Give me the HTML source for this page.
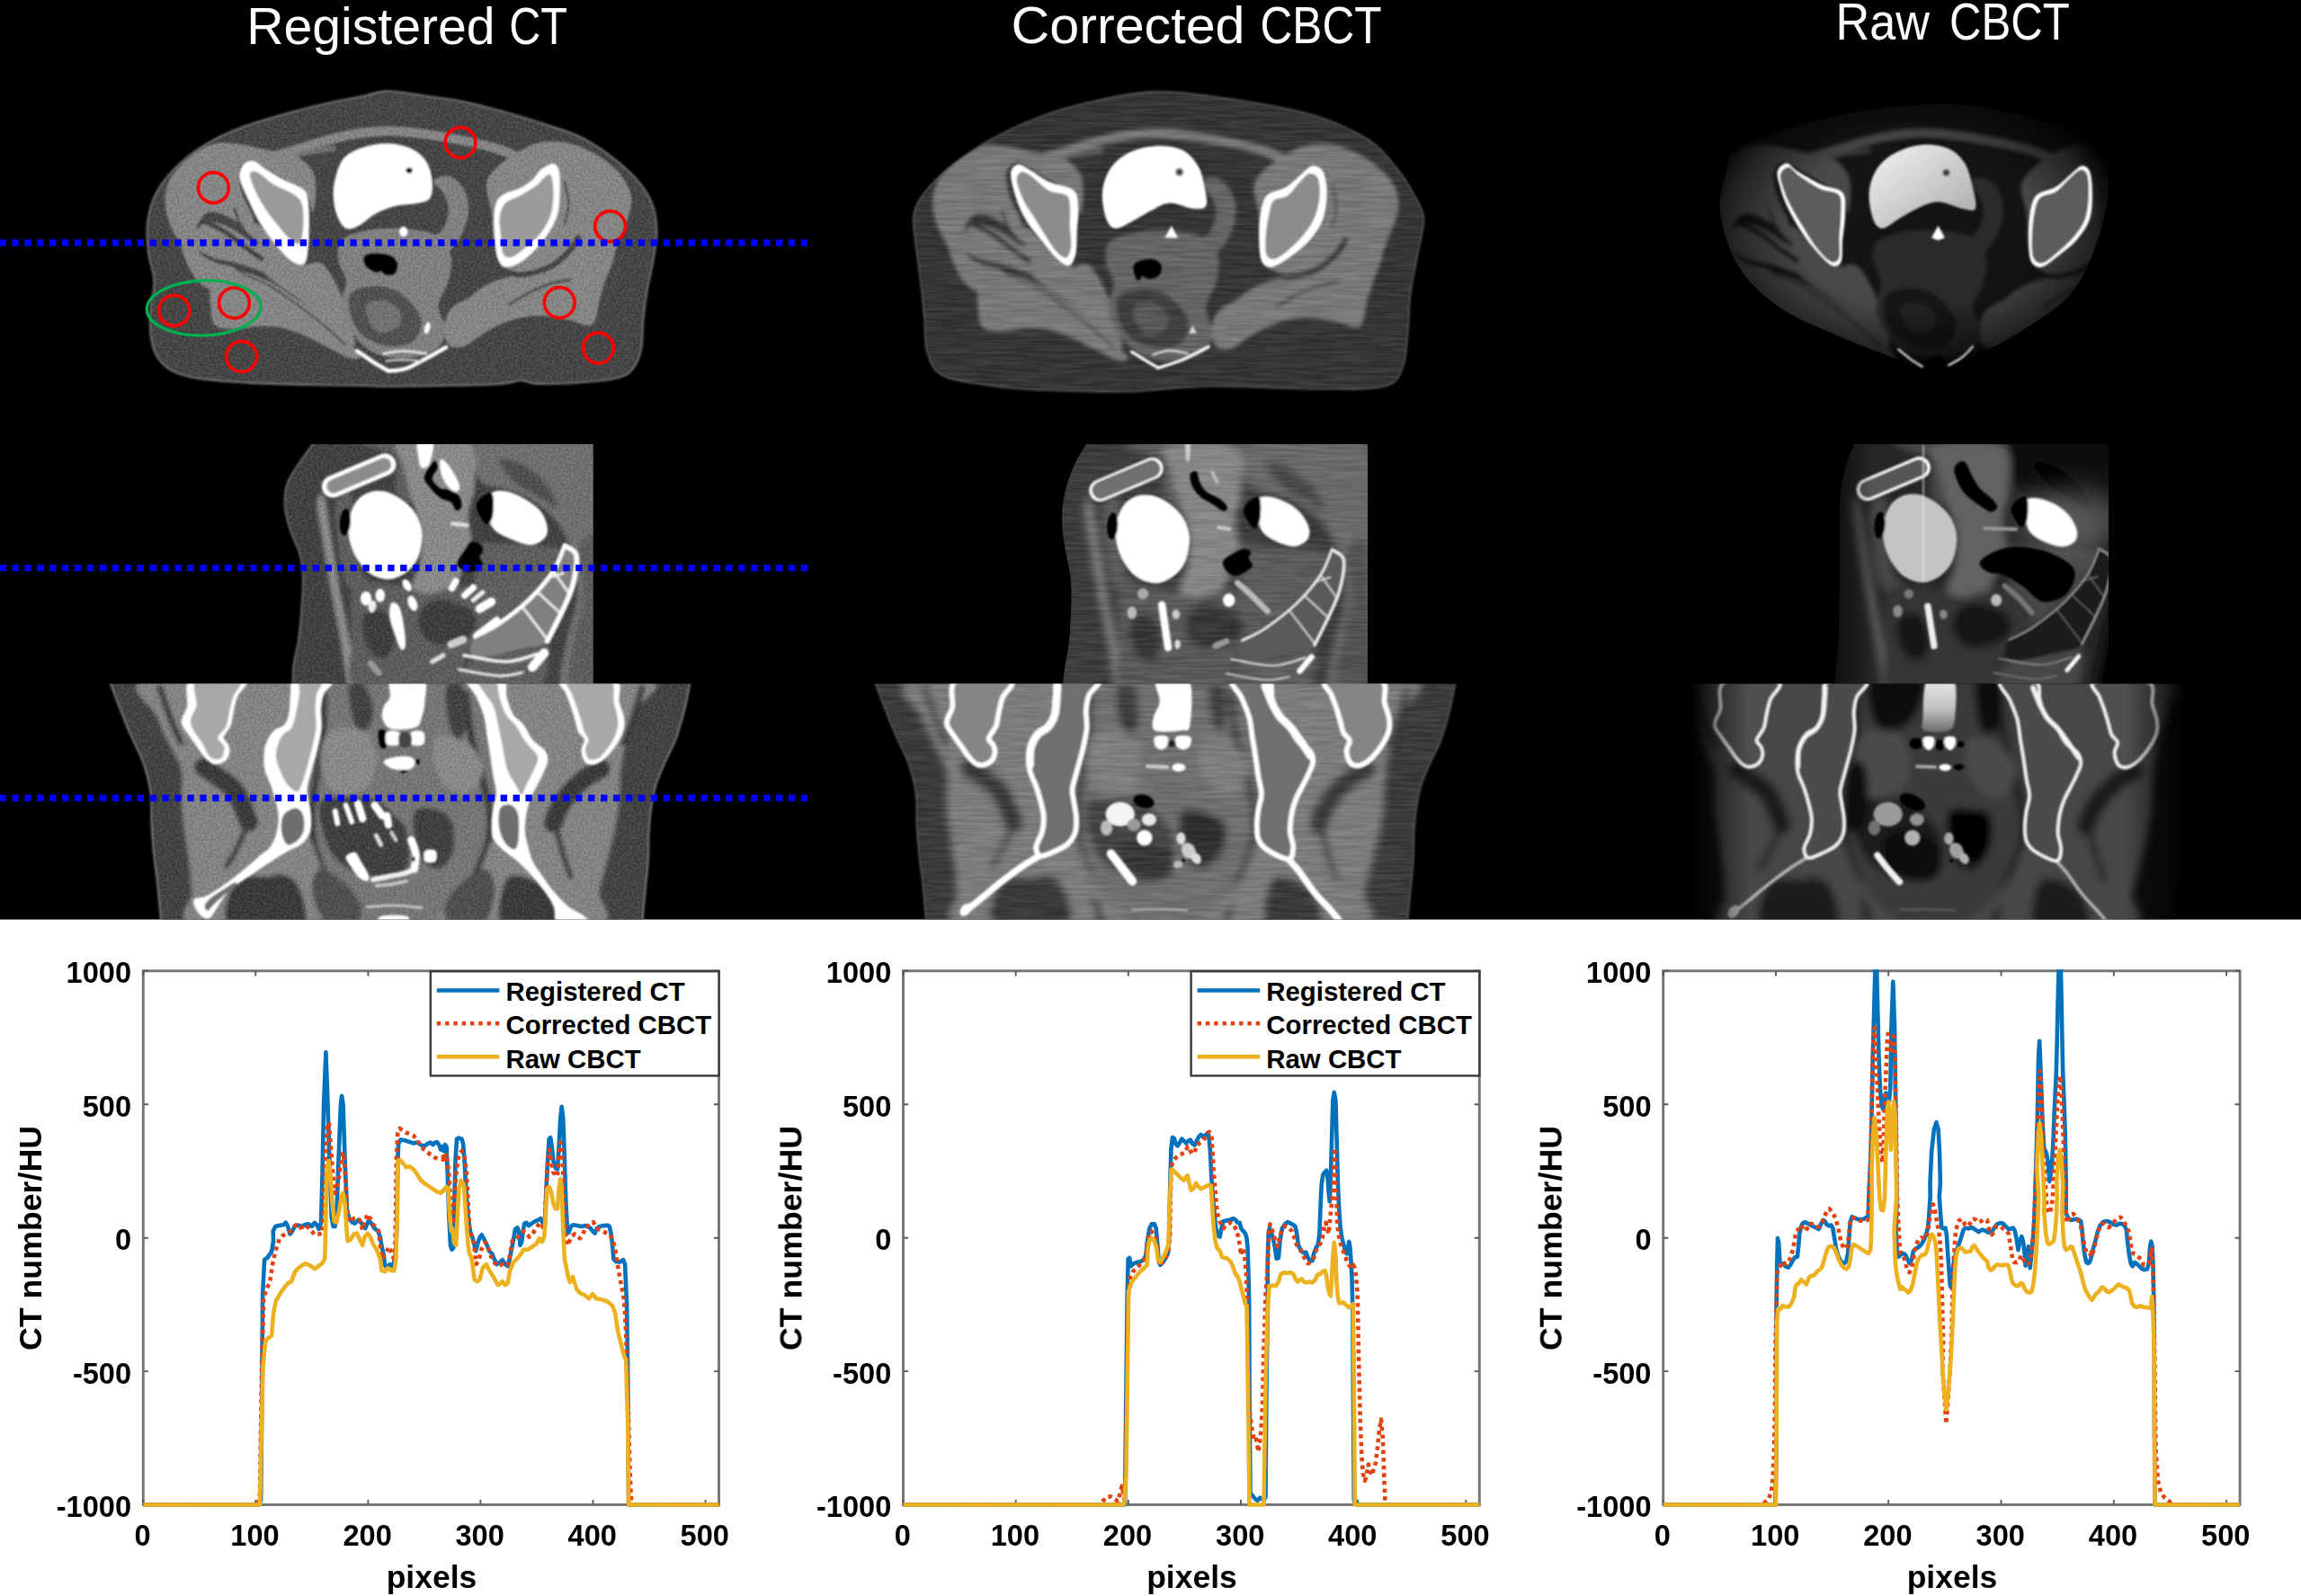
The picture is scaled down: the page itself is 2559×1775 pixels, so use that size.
<!DOCTYPE html>
<html lang="en"><head><meta charset="utf-8"><title>Registered CT, Corrected CBCT and Raw CBCT comparison</title>
<style>html,body{margin:0;padding:0;background:#fff;}body{width:2559px;height:1775px;overflow:hidden;}svg{display:block;}text{font-family:"Liberation Sans",sans-serif;}.tk{font-size:32.6px;font-weight:bold;fill:#000;}.lb{font-size:35.5px;font-weight:bold;fill:#000;}.lg{font-size:29.4px;font-weight:bold;fill:#000;}.tt{font-size:57px;fill:#fff;}</style></head><body>
<svg width="2559" height="1775" viewBox="0 0 2559 1775">
<rect x="0" y="0" width="2559" height="1775" fill="#fff"/>
<rect x="0" y="0" width="2559" height="1022.6" fill="#000"/>
<defs>
<filter id="b1" x="-5%" y="-5%" width="110%" height="110%"><feGaussianBlur stdDeviation="1.1"/></filter>
<filter id="b2" x="-10%" y="-10%" width="120%" height="120%"><feGaussianBlur stdDeviation="2.2"/></filter>
<filter id="b4" x="-20%" y="-20%" width="140%" height="140%"><feGaussianBlur stdDeviation="4.5"/></filter>
<filter id="b8" x="-30%" y="-30%" width="160%" height="160%"><feGaussianBlur stdDeviation="9"/></filter>
<filter id="b16" x="-40%" y="-40%" width="180%" height="180%"><feGaussianBlur stdDeviation="16"/></filter>
<filter id="nz1" x="0" y="0" width="100%" height="100%" color-interpolation-filters="sRGB"><feTurbulence type="fractalNoise" baseFrequency="0.42" numOctaves="2" seed="3"/><feColorMatrix type="matrix" values="3 0 0 0 -1  3 0 0 0 -1  3 0 0 0 -1  0 0 0 0 0.085"/></filter>
<filter id="nz2" x="0" y="0" width="100%" height="100%" color-interpolation-filters="sRGB"><feTurbulence type="fractalNoise" baseFrequency="0.025 0.33" numOctaves="2" seed="7"/><feColorMatrix type="matrix" values="2.4 0 0 0 -0.7  2.4 0 0 0 -0.7  2.4 0 0 0 -0.7  0 0 0 0 0.07"/></filter>
<filter id="nz3" x="0" y="0" width="100%" height="100%" color-interpolation-filters="sRGB"><feTurbulence type="fractalNoise" baseFrequency="0.1 0.15" numOctaves="2" seed="11"/><feColorMatrix type="matrix" values="2 0 0 0 -0.6  2 0 0 0 -0.6  2 0 0 0 -0.6  0 0 0 0 0.06"/></filter>
</defs>
<clipPath id="axb1"><path d="M430.0 101.1 C441.2 101.1 458.4 104.4 472.6 106.4 C486.8 108.3 501.0 109.9 515.2 112.8 C529.4 115.6 543.6 119.5 557.8 123.4 C572.0 127.3 586.2 131.6 600.4 136.2 C614.7 140.8 630.6 145.5 643.1 151.1 C655.5 156.8 665.1 163.2 675.0 170.3 C685.0 177.4 695.3 186.3 702.7 193.7 C710.2 201.2 715.5 207.9 719.8 215.1 C724.0 222.2 726.5 228.5 728.3 236.4 C730.1 244.2 730.8 252.7 730.4 261.9 C730.1 271.2 727.9 281.5 726.2 291.8 C724.4 302.1 721.5 313.1 719.8 323.7 C718.0 334.4 716.6 345.0 715.5 355.7 C714.4 366.3 715.1 378.8 713.4 387.6 C711.6 396.5 708.8 403.6 704.8 408.9 C700.9 414.3 698.5 416.9 689.9 419.6 C681.4 422.3 668.6 423.7 653.7 424.9 C638.8 426.2 612.9 427.3 600.4 427.0 C588.0 426.8 586.2 423.4 579.1 423.4 C572.0 423.4 572.0 426.1 557.8 427.0 C543.6 428.0 515.2 428.7 493.9 429.2 C472.6 429.6 444.7 429.8 430.0 429.8 C415.3 429.8 420.4 429.5 405.7 429.2 C391.0 428.9 363.1 428.6 341.8 428.1 C320.4 427.6 297.4 427.0 277.8 426.0 C258.3 424.9 238.8 423.8 224.6 421.7 C210.4 419.6 200.8 417.1 192.6 413.2 C184.4 409.3 179.7 404.3 175.6 398.3 C171.5 392.2 169.5 385.9 168.1 377.0 C166.7 368.1 166.5 355.7 167.0 345.0 C167.6 334.4 171.7 323.7 171.3 313.1 C171.0 302.4 166.2 291.8 164.9 281.1 C163.7 270.4 162.8 259.4 163.8 249.1 C164.9 238.8 167.2 228.5 171.3 219.3 C175.4 210.1 181.2 201.9 188.4 193.7 C195.5 185.6 204.3 177.4 213.9 170.3 C223.5 163.2 235.2 156.5 245.9 151.1 C256.5 145.8 265.4 142.6 277.8 138.4 C290.3 134.1 306.2 129.5 320.4 125.6 C334.7 121.7 348.9 118.1 363.1 114.9 C377.3 111.7 394.5 108.7 405.7 106.4 C416.8 104.1 418.8 101.1 430.0 101.1 Z"/></clipPath>
<g clip-path="url(#axb1)">
<path d="M430.0 101.1 C441.2 101.1 458.4 104.4 472.6 106.4 C486.8 108.3 501.0 109.9 515.2 112.8 C529.4 115.6 543.6 119.5 557.8 123.4 C572.0 127.3 586.2 131.6 600.4 136.2 C614.7 140.8 630.6 145.5 643.1 151.1 C655.5 156.8 665.1 163.2 675.0 170.3 C685.0 177.4 695.3 186.3 702.7 193.7 C710.2 201.2 715.5 207.9 719.8 215.1 C724.0 222.2 726.5 228.5 728.3 236.4 C730.1 244.2 730.8 252.7 730.4 261.9 C730.1 271.2 727.9 281.5 726.2 291.8 C724.4 302.1 721.5 313.1 719.8 323.7 C718.0 334.4 716.6 345.0 715.5 355.7 C714.4 366.3 715.1 378.8 713.4 387.6 C711.6 396.5 708.8 403.6 704.8 408.9 C700.9 414.3 698.5 416.9 689.9 419.6 C681.4 422.3 668.6 423.7 653.7 424.9 C638.8 426.2 612.9 427.3 600.4 427.0 C588.0 426.8 586.2 423.4 579.1 423.4 C572.0 423.4 572.0 426.1 557.8 427.0 C543.6 428.0 515.2 428.7 493.9 429.2 C472.6 429.6 444.7 429.8 430.0 429.8 C415.3 429.8 420.4 429.5 405.7 429.2 C391.0 428.9 363.1 428.6 341.8 428.1 C320.4 427.6 297.4 427.0 277.8 426.0 C258.3 424.9 238.8 423.8 224.6 421.7 C210.4 419.6 200.8 417.1 192.6 413.2 C184.4 409.3 179.7 404.3 175.6 398.3 C171.5 392.2 169.5 385.9 168.1 377.0 C166.7 368.1 166.5 355.7 167.0 345.0 C167.6 334.4 171.7 323.7 171.3 313.1 C171.0 302.4 166.2 291.8 164.9 281.1 C163.7 270.4 162.8 259.4 163.8 249.1 C164.9 238.8 167.2 228.5 171.3 219.3 C175.4 210.1 181.2 201.9 188.4 193.7 C195.5 185.6 204.3 177.4 213.9 170.3 C223.5 163.2 235.2 156.5 245.9 151.1 C256.5 145.8 265.4 142.6 277.8 138.4 C290.3 134.1 306.2 129.5 320.4 125.6 C334.7 121.7 348.9 118.1 363.1 114.9 C377.3 111.7 394.5 108.7 405.7 106.4 C416.8 104.1 418.8 101.1 430.0 101.1 Z" fill="#414141"/>
<g filter="url(#b1)">
<path d="M184.1 215.1 C185.3 207.9 187.6 200.8 192.6 193.7 C197.6 186.6 206.1 178.1 213.9 172.4 C221.7 166.8 230.3 161.6 239.5 159.7 C248.7 157.7 259.4 159.5 269.3 160.7 C279.3 162.0 289.2 165.0 299.1 167.1 C309.1 169.2 321.0 169.8 329.0 173.5 C337.0 177.2 343.4 183.3 347.1 189.5 C350.8 195.7 351.2 203.0 351.3 210.8 C351.5 218.6 349.7 234.9 348.1 236.4 C346.5 237.8 346.4 225.0 341.8 219.3 C337.1 213.6 328.3 207.6 320.4 202.3 C312.6 196.9 302.0 191.3 294.9 187.4 C287.8 183.4 282.6 178.5 277.8 178.8 C273.0 179.2 267.5 183.4 266.1 189.5 C264.7 195.5 266.6 205.8 269.3 215.1 C272.0 224.3 282.1 239.2 282.1 244.9 C282.1 250.6 275.0 250.2 269.3 249.1 C263.6 248.1 254.4 240.6 248.0 238.5 C241.6 236.4 235.6 234.6 231.0 236.4 C226.3 238.1 223.2 244.2 220.3 249.1 C217.5 254.1 216.8 262.6 213.9 266.2 C211.1 269.7 206.8 271.9 203.3 270.4 C199.7 269.0 195.6 263.3 192.6 257.7 C189.6 252.0 186.6 243.5 185.2 236.4 C183.7 229.3 182.8 222.2 184.1 215.1 Z" fill="#868686"/>
<path d="M220.3 253.4 C223.9 250.2 229.2 247.0 235.2 247.0 C241.3 247.0 248.7 249.5 256.5 253.4 C264.3 257.3 273.6 264.8 282.1 270.4 C290.6 276.1 299.5 282.9 307.7 287.5 C315.8 292.1 325.4 295.3 331.1 298.1 C336.8 301.0 341.4 302.1 341.8 304.5 C342.1 307.0 338.2 312.3 333.2 313.1 C328.3 313.8 319.7 310.9 311.9 308.8 C304.1 306.7 294.9 303.1 286.4 300.3 C277.8 297.4 268.6 293.9 260.8 291.8 C253.0 289.6 245.9 289.6 239.5 287.5 C233.1 285.4 226.7 282.5 222.4 279.0 C218.2 275.4 214.3 270.4 213.9 266.2 C213.6 261.9 216.8 256.6 220.3 253.4 Z" fill="#868686"/>
<path d="M199.0 261.9 C200.1 256.2 210.0 254.5 213.9 257.7 C217.8 260.9 218.2 275.4 222.4 281.1 C226.7 286.8 233.1 288.9 239.5 291.8 C245.9 294.6 255.8 294.6 260.8 298.1 C265.8 301.7 271.1 310.2 269.3 313.1 C267.5 315.9 255.8 313.8 250.1 315.2 C244.5 316.6 240.2 321.9 235.2 321.6 C230.3 321.2 224.9 318.0 220.3 313.1 C215.7 308.1 211.1 300.3 207.5 291.8 C204.0 283.2 197.9 267.6 199.0 261.9 Z" fill="#868686"/>
<path d="M235.2 313.1 C238.2 306.7 245.2 303.8 252.3 302.4 C259.4 301.0 269.3 302.4 277.8 304.5 C286.4 306.7 294.2 310.2 303.4 315.2 C312.6 320.2 323.3 327.3 333.2 334.4 C343.2 341.5 353.8 350.0 363.1 357.8 C372.3 365.6 382.2 374.8 388.6 381.2 C395.0 387.6 401.4 393.3 401.4 396.2 C401.4 399.0 395.0 400.1 388.6 398.3 C382.2 396.5 371.6 389.8 363.1 385.5 C354.5 381.2 346.0 376.3 337.5 372.7 C329.0 369.2 320.4 365.8 311.9 364.2 C303.4 362.6 294.9 362.8 286.4 363.1 C277.8 363.5 268.6 366.5 260.8 366.3 C253.0 366.1 243.9 366.3 239.5 362.1 C235.0 357.8 234.9 348.9 234.2 340.8 C233.4 332.6 232.2 319.5 235.2 313.1 Z" fill="#868686"/>
<path d="M337.5 298.1 C338.9 294.9 349.6 290.7 354.5 291.8 C359.5 292.8 363.1 298.1 367.3 304.5 C371.6 310.9 376.6 321.6 380.1 330.1 C383.7 338.6 386.1 346.8 388.6 355.7 C391.1 364.5 395.7 379.8 395.0 383.4 C394.3 386.9 388.3 382.3 384.4 377.0 C380.5 371.6 375.8 359.9 371.6 351.4 C367.3 342.9 363.1 332.6 358.8 325.8 C354.5 319.1 349.6 315.5 346.0 310.9 C342.5 306.3 336.1 301.3 337.5 298.1 Z" fill="#868686"/>
<path d="M269.3 249.1 C268.6 244.2 279.3 245.6 286.4 249.1 C293.5 252.7 303.4 263.3 311.9 270.4 C320.4 277.5 330.4 284.7 337.5 291.8 C344.6 298.9 353.8 309.5 354.5 313.1 C355.2 316.6 348.1 315.5 341.8 313.1 C335.4 310.6 324.7 303.8 316.2 298.1 C307.7 292.5 298.4 287.1 290.6 279.0 C282.8 270.8 270.0 254.1 269.3 249.1 Z" fill="#868686"/>
<path d="M282.1 283.2 C284.2 280.4 302.0 289.3 311.9 291.8 C321.9 294.2 333.2 294.6 341.8 298.1 C350.3 301.7 356.7 305.2 363.1 313.1 C369.5 320.9 375.5 334.4 380.1 345.0 C384.7 355.7 391.5 372.4 390.8 377.0 C390.0 381.6 381.9 377.0 375.8 372.7 C369.8 368.5 362.3 358.5 354.5 351.4 C346.7 344.3 338.2 337.2 329.0 330.1 C319.7 323.0 307.0 316.6 299.1 308.8 C291.3 301.0 280.0 286.1 282.1 283.2 Z" fill="#868686"/>
<path d="M228.8 247.0 C232.4 248.8 243.4 253.4 250.1 257.7 C256.9 261.9 262.6 267.6 269.3 272.6 C276.1 277.5 287.1 285.0 290.6 287.5" fill="none" stroke="#414141" stroke-width="5.5" stroke-linecap="round" stroke-linejoin="round"/>
<path d="M269.3 304.5 C274.3 306.7 288.5 311.3 299.1 317.3 C309.8 323.4 322.6 332.9 333.2 340.8 C343.9 348.6 354.5 357.1 363.1 364.2 C371.6 371.3 380.8 380.2 384.4 383.4" fill="none" stroke="#414141" stroke-width="1.9" stroke-linecap="round" stroke-linejoin="round"/>
<path d="M260.8 232.1 C262.2 235.6 265.1 247.0 269.3 253.4 C273.6 259.8 283.5 267.6 286.4 270.4" fill="none" stroke="#414141" stroke-width="2.6" stroke-linecap="round" stroke-linejoin="round"/>
<path d="M540.8 206.5 C541.1 198.4 544.3 195.2 549.3 189.5 C554.3 183.8 562.8 177.4 570.6 172.4 C578.4 167.5 587.7 162.1 596.2 159.7 C604.7 157.2 613.2 156.8 621.8 157.5 C630.3 158.2 639.2 160.7 647.3 163.9 C655.5 167.1 663.7 171.7 670.8 176.7 C677.9 181.7 685.0 187.7 689.9 193.7 C694.9 199.8 698.6 206.5 700.6 212.9 C702.5 219.3 702.7 225.3 701.6 232.1 C700.6 238.8 696.9 246.3 694.2 253.4 C691.5 260.5 687.8 268.3 685.7 274.7 C683.5 281.1 683.5 285.4 681.4 291.8 C679.3 298.1 675.4 306.0 672.9 313.1 C670.4 320.2 668.3 327.3 666.5 334.4 C664.7 341.5 664.4 351.1 662.2 355.7 C660.1 360.3 658.7 362.1 653.7 362.1 C648.7 362.1 640.6 357.4 632.4 355.7 C624.2 353.9 613.6 351.8 604.7 351.4 C595.8 351.1 587.7 351.8 579.1 353.5 C570.6 355.3 561.4 358.5 553.6 362.1 C545.8 365.6 538.7 370.9 532.3 374.8 C525.9 378.8 520.5 384.1 515.2 385.5 C509.9 386.9 500.3 386.9 500.3 383.4 C500.3 379.8 509.9 370.2 515.2 364.2 C520.5 358.2 525.2 352.8 532.3 347.1 C539.4 341.5 549.3 335.1 557.8 330.1 C566.4 325.1 574.5 320.9 583.4 317.3 C592.3 313.8 608.3 311.3 611.1 308.8 C613.9 306.3 605.8 303.5 600.4 302.4 C595.1 301.3 584.8 302.1 579.1 302.4 C573.5 302.8 569.9 305.6 566.4 304.5 C562.8 303.5 560.7 301.7 557.8 296.0 C555.0 290.3 551.1 280.0 549.3 270.4 C547.5 260.9 548.6 249.1 547.2 238.5 C545.8 227.8 540.4 214.7 540.8 206.5 Z" fill="#868686"/>
<path d="M500.3 383.4 C496.0 381.9 493.9 372.7 493.9 366.3 C493.9 359.9 496.0 350.7 500.3 345.0 C504.6 339.3 511.3 336.1 519.5 332.2 C527.7 328.3 539.4 324.8 549.3 321.6 C559.3 318.4 569.9 315.9 579.1 313.1 C588.4 310.2 597.6 304.5 604.7 304.5 C611.8 304.5 623.2 309.5 621.8 313.1 C620.3 316.6 605.4 321.6 596.2 325.8 C587.0 330.1 575.6 333.7 566.4 338.6 C557.1 343.6 548.6 349.6 540.8 355.7 C533.0 361.7 526.2 370.2 519.5 374.8 C512.7 379.5 504.6 384.8 500.3 383.4 Z" fill="#868686"/>
<path d="M609.0 291.8 C606.8 289.6 589.1 301.0 579.1 304.5 C569.2 308.1 558.5 308.8 549.3 313.1 C540.1 317.3 530.8 322.3 523.7 330.1 C516.6 337.9 510.6 351.1 506.7 359.9 C502.8 368.8 498.9 380.5 500.3 383.4 C501.7 386.2 509.9 382.3 515.2 377.0 C520.5 371.6 525.2 358.9 532.3 351.4 C539.4 344.0 547.9 337.9 557.8 332.2 C567.8 326.6 583.4 324.1 591.9 317.3 C600.4 310.6 611.1 293.9 609.0 291.8 Z" fill="#868686"/>
<path d="M557.8 299.2 C561.4 300.3 570.3 306.0 579.1 305.6 C588.0 305.2 602.2 301.3 611.1 297.1 C620.0 292.8 627.1 285.5 632.4 280.0 C637.7 274.5 641.3 266.7 643.1 264.1" fill="none" stroke="#414141" stroke-width="6.4" stroke-linecap="round" stroke-linejoin="round"/>
<path d="M566.4 338.6 C570.6 336.1 584.1 327.6 591.9 323.7 C599.7 319.8 606.1 317.3 613.2 315.2 C620.3 313.1 631.0 311.6 634.5 310.9" fill="none" stroke="#414141" stroke-width="2.6" stroke-linecap="round" stroke-linejoin="round"/>
<path d="M628.1 202.3 C628.9 206.5 632.4 220.0 632.4 227.8 C632.4 235.6 628.9 245.6 628.1 249.1" fill="none" stroke="#414141" stroke-width="2.1" stroke-linecap="round" stroke-linejoin="round"/>
<path d="M306.9 173.4 C314.3 171.1 337.5 163.5 351.4 159.5 C365.3 155.6 377.3 152.1 390.3 149.8 C403.3 147.5 416.3 145.9 429.3 145.6 C442.2 145.4 454.8 146.8 468.2 148.4 C481.6 150.0 496.0 152.6 509.9 155.4 C523.8 158.1 539.1 161.2 551.6 165.1 C564.2 169.0 579.5 176.7 585.0 179.0" fill="none" stroke="#868686" stroke-width="10.6" stroke-linecap="round" stroke-linejoin="round"/>
<path d="M295.8 181.8 C302.2 179.9 322.2 173.4 334.7 170.7 C347.2 167.9 364.8 166.0 370.9 165.1" fill="none" stroke="#868686" stroke-width="6.1" stroke-linecap="round" stroke-linejoin="round" stroke-opacity="0.70"/>
<path d="M379.2 268.0 C383.8 262.4 393.1 259.2 404.2 256.9 C415.4 254.6 432.0 253.2 446.0 254.1 C459.9 255.0 478.4 257.3 487.7 262.4 C496.9 267.5 499.7 276.4 501.6 284.7 C503.4 293.0 501.1 303.2 498.8 312.5 C496.5 321.8 488.1 331.1 487.7 340.3 C487.2 349.6 496.9 359.8 496.0 368.1 C495.1 376.5 490.5 385.3 482.1 390.4 C473.8 395.5 457.5 398.7 446.0 398.7 C434.4 398.7 421.8 395.5 412.6 390.4 C403.3 385.3 395.9 376.5 390.3 368.1 C384.8 359.8 380.1 349.6 379.2 340.3 C378.3 331.1 385.2 320.9 384.8 312.5 C384.3 304.2 377.3 297.7 376.4 290.3 C375.5 282.8 374.6 273.6 379.2 268.0 Z" fill="#808080"/>
<path d="M482.1 201.3 C483.0 198.0 493.2 194.3 498.8 195.7 C504.4 197.1 511.8 203.1 515.5 209.6 C519.2 216.1 521.5 225.8 521.1 234.6 C520.6 243.4 516.9 254.6 512.7 262.4 C508.5 270.3 502.5 277.3 496.0 281.9 C489.5 286.6 480.7 289.8 473.8 290.3 C466.8 290.7 455.2 288.4 454.3 284.7 C453.4 281.0 462.2 272.6 468.2 268.0 C474.2 263.4 485.4 262.4 490.5 256.9 C495.6 251.3 498.3 241.6 498.8 234.6 C499.3 227.7 496.0 220.7 493.2 215.2 C490.5 209.6 481.2 204.5 482.1 201.3 Z" fill="#808080"/>
<path d="M390.3 326.4 C395.0 320.9 408.9 318.1 418.1 318.1 C427.4 318.1 437.6 320.4 446.0 326.4 C454.3 332.4 465.9 345.4 468.2 354.2 C470.5 363.0 465.9 374.2 459.9 379.3 C453.8 384.4 441.3 385.8 432.0 384.8 C422.8 383.9 411.2 379.3 404.2 373.7 C397.3 368.1 392.6 359.3 390.3 351.5 C388.0 343.6 385.7 332.0 390.3 326.4 Z" fill="#414141" fill-opacity="0.80"/>
<path d="M407.0 340.3 C408.9 334.8 422.8 333.4 429.3 334.8 C435.8 336.2 444.1 343.6 446.0 348.7 C447.8 353.8 445.0 362.1 440.4 365.4 C435.8 368.6 423.7 372.3 418.1 368.1 C412.6 364.0 405.2 345.9 407.0 340.3 Z" fill="#808080" fill-opacity="0.70"/>
</g>
<rect x="150.0" y="92.0" width="600.0" height="350.0" filter="url(#nz1)"/>
</g>
<path d="M430.0 101.1 C441.2 101.1 458.4 104.4 472.6 106.4 C486.8 108.3 501.0 109.9 515.2 112.8 C529.4 115.6 543.6 119.5 557.8 123.4 C572.0 127.3 586.2 131.6 600.4 136.2 C614.7 140.8 630.6 145.5 643.1 151.1 C655.5 156.8 665.1 163.2 675.0 170.3 C685.0 177.4 695.3 186.3 702.7 193.7 C710.2 201.2 715.5 207.9 719.8 215.1 C724.0 222.2 726.5 228.5 728.3 236.4 C730.1 244.2 730.8 252.7 730.4 261.9 C730.1 271.2 727.9 281.5 726.2 291.8 C724.4 302.1 721.5 313.1 719.8 323.7 C718.0 334.4 716.6 345.0 715.5 355.7 C714.4 366.3 715.1 378.8 713.4 387.6 C711.6 396.5 708.8 403.6 704.8 408.9 C700.9 414.3 698.5 416.9 689.9 419.6 C681.4 422.3 668.6 423.7 653.7 424.9 C638.8 426.2 612.9 427.3 600.4 427.0 C588.0 426.8 586.2 423.4 579.1 423.4 C572.0 423.4 572.0 426.1 557.8 427.0 C543.6 428.0 515.2 428.7 493.9 429.2 C472.6 429.6 444.7 429.8 430.0 429.8 C415.3 429.8 420.4 429.5 405.7 429.2 C391.0 428.9 363.1 428.6 341.8 428.1 C320.4 427.6 297.4 427.0 277.8 426.0 C258.3 424.9 238.8 423.8 224.6 421.7 C210.4 419.6 200.8 417.1 192.6 413.2 C184.4 409.3 179.7 404.3 175.6 398.3 C171.5 392.2 169.5 385.9 168.1 377.0 C166.7 368.1 166.5 355.7 167.0 345.0 C167.6 334.4 171.7 323.7 171.3 313.1 C171.0 302.4 166.2 291.8 164.9 281.1 C163.7 270.4 162.8 259.4 163.8 249.1 C164.9 238.8 167.2 228.5 171.3 219.3 C175.4 210.1 181.2 201.9 188.4 193.7 C195.5 185.6 204.3 177.4 213.9 170.3 C223.5 163.2 235.2 156.5 245.9 151.1 C256.5 145.8 265.4 142.6 277.8 138.4 C290.3 134.1 306.2 129.5 320.4 125.6 C334.7 121.7 348.9 118.1 363.1 114.9 C377.3 111.7 394.5 108.7 405.7 106.4 C416.8 104.1 418.8 101.1 430.0 101.1 Z" fill="none" stroke="#7a7a7a" stroke-width="1.8" filter="url(#b1)"/>
<g filter="url(#b1)">
<path d="M266.1 193.7 C266.6 190.0 268.8 184.5 271.4 182.0 C274.1 179.5 278.2 177.9 282.1 178.8 C286.0 179.7 289.2 183.8 294.9 187.4 C300.6 190.9 309.1 196.2 316.2 200.1 C323.3 204.0 333.1 206.9 337.5 210.8 C341.9 214.7 341.8 217.2 342.8 223.6 C343.9 230.0 343.9 240.6 343.9 249.1 C343.9 257.7 343.5 267.6 342.8 274.7 C342.1 281.8 341.6 288.6 339.6 291.8 C337.7 294.9 334.7 294.9 331.1 293.9 C327.5 292.8 322.9 289.6 318.3 285.4 C313.7 281.1 308.4 274.7 303.4 268.3 C298.4 261.9 293.1 254.8 288.5 247.0 C283.9 239.2 279.1 228.5 275.7 221.4 C272.3 214.3 269.8 209.0 268.2 204.4 C266.6 199.8 265.6 197.5 266.1 193.7 Z" fill="#ffffff"/>
<path d="M277.8 193.7 C278.2 190.2 282.1 189.8 286.4 191.6 C290.6 193.4 297.0 200.5 303.4 204.4 C309.8 208.3 319.4 211.5 324.7 215.1 C330.0 218.6 333.2 220.0 335.4 225.7 C337.5 231.4 337.8 241.7 337.5 249.1 C337.1 256.6 335.7 267.6 333.2 270.4 C330.7 273.3 326.8 269.7 322.6 266.2 C318.3 262.6 312.3 254.8 307.7 249.1 C303.0 243.5 298.8 238.1 294.9 232.1 C291.0 226.1 287.1 219.3 284.2 212.9 C281.4 206.5 277.5 197.3 277.8 193.7 Z" fill="#9a9a9a"/>
<path d="M606.8 185.2 C609.3 184.0 612.9 181.3 615.4 182.0 C617.8 182.7 620.5 184.7 621.8 189.5 C623.0 194.3 623.0 203.0 622.8 210.8 C622.6 218.6 622.6 228.5 620.7 236.4 C618.7 244.2 615.2 250.9 611.1 257.7 C607.0 264.4 601.5 271.2 596.2 276.8 C590.9 282.5 584.8 288.4 579.1 291.8 C573.5 295.1 566.4 297.8 562.1 297.1 C557.8 296.4 555.5 292.6 553.6 287.5 C551.6 282.3 551.1 274.0 550.4 266.2 C549.7 258.4 549.0 247.7 549.3 240.6 C549.7 233.5 550.4 227.8 552.5 223.6 C554.6 219.3 557.7 217.5 562.1 215.1 C566.5 212.6 574.2 211.1 579.1 208.7 C584.1 206.2 588.4 203.3 591.9 200.1 C595.5 196.9 598.0 192.0 600.4 189.5 C602.9 187.0 604.4 186.5 606.8 185.2 Z" fill="#ffffff"/>
<path d="M611.1 193.7 C614.3 194.5 615.0 203.7 615.4 210.8 C615.7 217.9 615.4 228.5 613.2 236.4 C611.1 244.2 606.8 251.6 602.6 257.7 C598.3 263.7 593.0 268.0 587.7 272.6 C582.3 277.2 575.2 283.6 570.6 285.4 C566.0 287.1 562.3 287.1 560.0 283.2 C557.7 279.3 557.5 269.0 556.8 261.9 C556.1 254.8 554.8 246.7 555.7 240.6 C556.6 234.6 558.2 229.6 562.1 225.7 C566.0 221.8 573.5 220.4 579.1 217.2 C584.8 214.0 590.9 210.4 596.2 206.5 C601.5 202.6 607.9 193.0 611.1 193.7 Z" fill="#9a9a9a"/>
</g>
<g filter="url(#b1)">
<path d="M372.2 201.3 C374.1 193.8 376.7 182.5 382.0 176.2 C387.3 170.0 395.9 166.5 404.2 163.7 C412.6 160.9 423.2 159.3 432.0 159.5 C440.9 159.8 450.1 161.9 457.1 165.1 C464.0 168.3 469.8 173.0 473.8 179.0 C477.7 185.0 480.0 194.3 480.7 201.3 C481.4 208.2 481.0 216.6 477.9 220.7 C474.9 224.9 468.9 224.9 462.6 226.3 C456.4 227.7 447.8 227.2 440.4 229.1 C433.0 230.9 425.1 233.7 418.1 237.4 C411.2 241.1 404.2 248.5 398.7 251.3 C393.1 254.1 388.7 256.0 384.8 254.1 C380.8 252.2 377.3 245.8 375.0 240.2 C372.7 234.6 371.3 227.2 370.9 220.7 C370.4 214.2 370.4 208.7 372.2 201.3 Z" fill="#ffffff"/>
<ellipse cx="455.1" cy="189.6" rx="3.6" ry="3.1" fill="#000"/>
<ellipse cx="448.7" cy="257.7" rx="4.7" ry="5.6" fill="#fff"/>
<ellipse cx="475.2" cy="364.8" rx="3.1" ry="6.7" fill="#fff" transform="rotate(15.0 475.2 364.8)"/>
<path d="M405.6 284.7 C407.5 282.4 413.3 281.9 418.1 281.9 C423.0 281.9 430.9 282.8 434.8 284.7 C438.8 286.6 441.1 289.8 441.8 293.0 C442.5 296.3 441.1 302.1 439.0 304.2 C436.9 306.3 431.8 306.0 429.3 305.6 C426.7 305.1 425.6 301.8 423.7 301.4 C421.8 300.9 420.9 303.7 418.1 302.8 C415.4 301.8 409.1 298.8 407.0 295.8 C404.9 292.8 403.8 287.0 405.6 284.7 Z" fill="#000"/>
<path d="M397.3 390.4 C400.3 392.5 409.6 399.2 415.4 402.9 C421.2 406.6 429.3 411.0 432.0 412.6" fill="none" stroke="#fff" stroke-width="4.5" stroke-linecap="round" stroke-linejoin="round"/>
<path d="M432.0 412.6 C435.3 412.2 444.6 412.2 451.5 409.9 C458.5 407.5 466.4 402.7 473.8 398.7 C481.2 394.8 492.3 388.3 496.0 386.2" fill="none" stroke="#fff" stroke-width="4.5" stroke-linecap="round" stroke-linejoin="round"/>
<path d="M426.5 393.2 C430.2 392.7 440.9 390.4 448.7 390.4 C456.6 390.4 469.6 392.7 473.8 393.2" fill="none" stroke="#e8e8e8" stroke-width="2.8" stroke-linecap="round" stroke-linejoin="round"/>
<path d="M429.3 401.5 C432.5 401.3 442.2 400.1 448.7 400.1 C455.2 400.1 465.0 401.3 468.2 401.5" fill="none" stroke="#d0d0d0" stroke-width="2.2" stroke-linecap="round" stroke-linejoin="round"/>
</g>
<clipPath id="axb2"><path d="M1285.1 101.8 C1312.2 101.3 1344.2 106.3 1373.7 110.7 C1403.3 115.1 1437.8 121.0 1462.4 128.4 C1487.0 135.8 1506.2 145.2 1521.5 155.0 C1536.8 164.9 1545.1 176.7 1554.0 187.5 C1562.9 198.4 1569.8 210.7 1574.7 220.0 C1579.6 229.4 1583.1 233.8 1583.6 243.7 C1584.0 253.5 1580.1 265.3 1577.6 279.1 C1575.2 292.9 1570.7 311.2 1568.8 326.4 C1566.8 341.7 1567.3 357.0 1565.8 370.7 C1564.3 384.5 1564.3 399.3 1559.9 409.2 C1555.5 419.0 1555.5 425.9 1539.2 429.9 C1523.0 433.8 1494.9 432.8 1462.4 432.8 C1429.9 432.8 1378.7 429.4 1344.2 429.9 C1309.7 430.3 1285.1 435.0 1255.5 435.8 C1226.0 436.5 1191.5 435.3 1166.9 434.3 C1142.2 433.3 1127.5 432.6 1107.8 429.9 C1088.1 427.1 1061.5 424.4 1048.7 418.0 C1035.9 411.6 1034.4 401.8 1030.9 391.4 C1027.5 381.1 1029.2 369.3 1028.0 356.0 C1026.7 342.7 1025.3 326.4 1023.5 311.6 C1021.8 296.9 1018.9 279.6 1017.6 267.3 C1016.4 255.0 1014.4 246.6 1016.1 237.8 C1017.9 228.9 1021.1 223.0 1028.0 214.1 C1034.9 205.3 1045.2 194.4 1057.5 184.6 C1069.8 174.7 1086.1 163.9 1101.9 155.0 C1117.6 146.1 1133.9 138.3 1152.1 131.4 C1170.3 124.5 1189.0 118.6 1211.2 113.6 C1233.4 108.7 1258.0 102.3 1285.1 101.8 Z"/></clipPath>
<g clip-path="url(#axb2)">
<path d="M1285.1 101.8 C1312.2 101.3 1344.2 106.3 1373.7 110.7 C1403.3 115.1 1437.8 121.0 1462.4 128.4 C1487.0 135.8 1506.2 145.2 1521.5 155.0 C1536.8 164.9 1545.1 176.7 1554.0 187.5 C1562.9 198.4 1569.8 210.7 1574.7 220.0 C1579.6 229.4 1583.1 233.8 1583.6 243.7 C1584.0 253.5 1580.1 265.3 1577.6 279.1 C1575.2 292.9 1570.7 311.2 1568.8 326.4 C1566.8 341.7 1567.3 357.0 1565.8 370.7 C1564.3 384.5 1564.3 399.3 1559.9 409.2 C1555.5 419.0 1555.5 425.9 1539.2 429.9 C1523.0 433.8 1494.9 432.8 1462.4 432.8 C1429.9 432.8 1378.7 429.4 1344.2 429.9 C1309.7 430.3 1285.1 435.0 1255.5 435.8 C1226.0 436.5 1191.5 435.3 1166.9 434.3 C1142.2 433.3 1127.5 432.6 1107.8 429.9 C1088.1 427.1 1061.5 424.4 1048.7 418.0 C1035.9 411.6 1034.4 401.8 1030.9 391.4 C1027.5 381.1 1029.2 369.3 1028.0 356.0 C1026.7 342.7 1025.3 326.4 1023.5 311.6 C1021.8 296.9 1018.9 279.6 1017.6 267.3 C1016.4 255.0 1014.4 246.6 1016.1 237.8 C1017.9 228.9 1021.1 223.0 1028.0 214.1 C1034.9 205.3 1045.2 194.4 1057.5 184.6 C1069.8 174.7 1086.1 163.9 1101.9 155.0 C1117.6 146.1 1133.9 138.3 1152.1 131.4 C1170.3 124.5 1189.0 118.6 1211.2 113.6 C1233.4 108.7 1258.0 102.3 1285.1 101.8 Z" fill="#303030"/>
<g filter="url(#b2)">
<path d="M1037.6 217.6 C1038.8 210.4 1041.1 203.3 1046.1 196.2 C1051.1 189.1 1059.6 180.6 1067.4 174.9 C1075.2 169.3 1083.8 164.1 1093.0 162.2 C1102.2 160.2 1112.9 162.0 1122.8 163.2 C1132.8 164.5 1142.7 167.5 1152.6 169.6 C1162.6 171.7 1174.5 172.3 1182.5 176.0 C1190.5 179.7 1196.9 185.8 1200.6 192.0 C1204.3 198.2 1204.7 205.5 1204.8 213.3 C1205.0 221.1 1203.2 237.4 1201.6 238.9 C1200.0 240.3 1199.9 227.5 1195.3 221.8 C1190.6 216.1 1181.8 210.1 1173.9 204.8 C1166.1 199.4 1155.5 193.8 1148.4 189.9 C1141.3 185.9 1136.1 181.0 1131.3 181.3 C1126.5 181.7 1121.0 185.9 1119.6 192.0 C1118.2 198.0 1120.1 208.3 1122.8 217.6 C1125.5 226.8 1135.6 241.7 1135.6 247.4 C1135.6 253.1 1128.5 252.7 1122.8 251.6 C1117.1 250.6 1107.9 243.1 1101.5 241.0 C1095.1 238.9 1089.1 237.1 1084.5 238.9 C1079.8 240.6 1076.7 246.7 1073.8 251.6 C1071.0 256.6 1070.3 265.1 1067.4 268.7 C1064.6 272.2 1060.3 274.4 1056.8 272.9 C1053.2 271.5 1049.1 265.8 1046.1 260.2 C1043.1 254.5 1040.1 246.0 1038.7 238.9 C1037.2 231.8 1036.3 224.7 1037.6 217.6 Z" fill="#787878"/>
<path d="M1073.8 255.9 C1077.4 252.7 1082.7 249.5 1088.7 249.5 C1094.8 249.5 1102.2 252.0 1110.0 255.9 C1117.8 259.8 1127.1 267.3 1135.6 272.9 C1144.1 278.6 1153.0 285.4 1161.2 290.0 C1169.3 294.6 1178.9 297.8 1184.6 300.6 C1190.3 303.5 1194.9 304.6 1195.3 307.0 C1195.6 309.5 1191.7 314.8 1186.7 315.6 C1181.8 316.3 1173.2 313.4 1165.4 311.3 C1157.6 309.2 1148.4 305.6 1139.9 302.8 C1131.3 299.9 1122.1 296.4 1114.3 294.3 C1106.5 292.1 1099.4 292.1 1093.0 290.0 C1086.6 287.9 1080.2 285.0 1075.9 281.5 C1071.7 277.9 1067.8 272.9 1067.4 268.7 C1067.1 264.4 1070.3 259.1 1073.8 255.9 Z" fill="#787878"/>
<path d="M1052.5 264.4 C1053.6 258.7 1063.5 257.0 1067.4 260.2 C1071.3 263.4 1071.7 277.9 1075.9 283.6 C1080.2 289.3 1086.6 291.4 1093.0 294.3 C1099.4 297.1 1109.3 297.1 1114.3 300.6 C1119.3 304.2 1124.6 312.7 1122.8 315.6 C1121.0 318.4 1109.3 316.3 1103.6 317.7 C1098.0 319.1 1093.7 324.4 1088.7 324.1 C1083.8 323.7 1078.4 320.5 1073.8 315.6 C1069.2 310.6 1064.6 302.8 1061.0 294.3 C1057.5 285.7 1051.4 270.1 1052.5 264.4 Z" fill="#787878"/>
<path d="M1088.7 315.6 C1091.7 309.2 1098.7 306.3 1105.8 304.9 C1112.9 303.5 1122.8 304.9 1131.3 307.0 C1139.9 309.2 1147.7 312.7 1156.9 317.7 C1166.1 322.7 1176.8 329.8 1186.7 336.9 C1196.7 344.0 1207.3 352.5 1216.6 360.3 C1225.8 368.1 1235.7 377.3 1242.1 383.7 C1248.5 390.1 1254.9 395.8 1254.9 398.7 C1254.9 401.5 1248.5 402.6 1242.1 400.8 C1235.7 399.0 1225.1 392.3 1216.6 388.0 C1208.0 383.7 1199.5 378.8 1191.0 375.2 C1182.5 371.7 1173.9 368.3 1165.4 366.7 C1156.9 365.1 1148.4 365.3 1139.9 365.6 C1131.3 366.0 1122.1 369.0 1114.3 368.8 C1106.5 368.6 1097.4 368.8 1093.0 364.6 C1088.5 360.3 1088.4 351.4 1087.7 343.3 C1086.9 335.1 1085.7 322.0 1088.7 315.6 Z" fill="#787878"/>
<path d="M1191.0 300.6 C1192.4 297.4 1203.1 293.2 1208.0 294.3 C1213.0 295.3 1216.6 300.6 1220.8 307.0 C1225.1 313.4 1230.1 324.1 1233.6 332.6 C1237.2 341.1 1239.6 349.3 1242.1 358.2 C1244.6 367.0 1249.2 382.3 1248.5 385.9 C1247.8 389.4 1241.8 384.8 1237.9 379.5 C1234.0 374.1 1229.3 362.4 1225.1 353.9 C1220.8 345.4 1216.6 335.1 1212.3 328.3 C1208.0 321.6 1203.1 318.0 1199.5 313.4 C1196.0 308.8 1189.6 303.8 1191.0 300.6 Z" fill="#787878"/>
<path d="M1122.8 251.6 C1122.1 246.7 1132.8 248.1 1139.9 251.6 C1147.0 255.2 1156.9 265.8 1165.4 272.9 C1173.9 280.0 1183.9 287.2 1191.0 294.3 C1198.1 301.4 1207.3 312.0 1208.0 315.6 C1208.7 319.1 1201.6 318.0 1195.3 315.6 C1188.9 313.1 1178.2 306.3 1169.7 300.6 C1161.2 295.0 1151.9 289.6 1144.1 281.5 C1136.3 273.3 1123.5 256.6 1122.8 251.6 Z" fill="#787878"/>
<path d="M1135.6 285.7 C1137.7 282.9 1155.5 291.8 1165.4 294.3 C1175.4 296.7 1186.7 297.1 1195.3 300.6 C1203.8 304.2 1210.2 307.7 1216.6 315.6 C1223.0 323.4 1229.0 336.9 1233.6 347.5 C1238.2 358.2 1245.0 374.9 1244.3 379.5 C1243.5 384.1 1235.4 379.5 1229.3 375.2 C1223.3 371.0 1215.8 361.0 1208.0 353.9 C1200.2 346.8 1191.7 339.7 1182.5 332.6 C1173.2 325.5 1160.5 319.1 1152.6 311.3 C1144.8 303.5 1133.5 288.6 1135.6 285.7 Z" fill="#787878"/>
<path d="M1082.3 249.5 C1085.9 251.3 1096.9 255.9 1103.6 260.2 C1110.4 264.4 1116.1 270.1 1122.8 275.1 C1129.6 280.0 1140.6 287.5 1144.1 290.0" fill="none" stroke="#303030" stroke-width="5.5" stroke-linecap="round" stroke-linejoin="round"/>
<path d="M1122.8 307.0 C1127.8 309.2 1142.0 313.8 1152.6 319.8 C1163.3 325.9 1176.1 335.4 1186.7 343.3 C1197.4 351.1 1208.0 359.6 1216.6 366.7 C1225.1 373.8 1234.3 382.7 1237.9 385.9" fill="none" stroke="#303030" stroke-width="1.9" stroke-linecap="round" stroke-linejoin="round"/>
<path d="M1114.3 234.6 C1115.7 238.1 1118.6 249.5 1122.8 255.9 C1127.1 262.3 1137.0 270.1 1139.9 272.9" fill="none" stroke="#303030" stroke-width="2.6" stroke-linecap="round" stroke-linejoin="round"/>
<path d="M1394.3 209.0 C1394.6 200.9 1397.8 197.7 1402.8 192.0 C1407.8 186.3 1416.3 179.9 1424.1 174.9 C1431.9 170.0 1441.2 164.6 1449.7 162.2 C1458.2 159.7 1466.7 159.3 1475.3 160.0 C1483.8 160.7 1492.7 163.2 1500.8 166.4 C1509.0 169.6 1517.2 174.2 1524.3 179.2 C1531.4 184.2 1538.5 190.2 1543.4 196.2 C1548.4 202.3 1552.1 209.0 1554.1 215.4 C1556.0 221.8 1556.2 227.8 1555.1 234.6 C1554.1 241.3 1550.4 248.8 1547.7 255.9 C1545.0 263.0 1541.3 270.8 1539.2 277.2 C1537.0 283.6 1537.0 287.9 1534.9 294.3 C1532.8 300.6 1528.9 308.5 1526.4 315.6 C1523.9 322.7 1521.8 329.8 1520.0 336.9 C1518.2 344.0 1517.9 353.6 1515.7 358.2 C1513.6 362.8 1512.2 364.6 1507.2 364.6 C1502.2 364.6 1494.1 359.9 1485.9 358.2 C1477.7 356.4 1467.1 354.3 1458.2 353.9 C1449.3 353.6 1441.2 354.3 1432.6 356.0 C1424.1 357.8 1414.9 361.0 1407.1 364.6 C1399.3 368.1 1392.2 373.4 1385.8 377.3 C1379.4 381.3 1374.0 386.6 1368.7 388.0 C1363.4 389.4 1353.8 389.4 1353.8 385.9 C1353.8 382.3 1363.4 372.7 1368.7 366.7 C1374.0 360.7 1378.7 355.3 1385.8 349.6 C1392.9 344.0 1402.8 337.6 1411.3 332.6 C1419.9 327.6 1428.0 323.4 1436.9 319.8 C1445.8 316.3 1461.8 313.8 1464.6 311.3 C1467.4 308.8 1459.3 306.0 1453.9 304.9 C1448.6 303.8 1438.3 304.6 1432.6 304.9 C1427.0 305.3 1423.4 308.1 1419.9 307.0 C1416.3 306.0 1414.2 304.2 1411.3 298.5 C1408.5 292.8 1404.6 282.5 1402.8 272.9 C1401.0 263.4 1402.1 251.6 1400.7 241.0 C1399.3 230.3 1393.9 217.2 1394.3 209.0 Z" fill="#787878"/>
<path d="M1353.8 385.9 C1349.5 384.4 1347.4 375.2 1347.4 368.8 C1347.4 362.4 1349.5 353.2 1353.8 347.5 C1358.1 341.8 1364.8 338.6 1373.0 334.7 C1381.2 330.8 1392.9 327.3 1402.8 324.1 C1412.8 320.9 1423.4 318.4 1432.6 315.6 C1441.9 312.7 1451.1 307.0 1458.2 307.0 C1465.3 307.0 1476.7 312.0 1475.3 315.6 C1473.8 319.1 1458.9 324.1 1449.7 328.3 C1440.5 332.6 1429.1 336.2 1419.9 341.1 C1410.6 346.1 1402.1 352.1 1394.3 358.2 C1386.5 364.2 1379.7 372.7 1373.0 377.3 C1366.2 382.0 1358.1 387.3 1353.8 385.9 Z" fill="#787878"/>
<path d="M1462.5 294.3 C1460.3 292.1 1442.6 303.5 1432.6 307.0 C1422.7 310.6 1412.0 311.3 1402.8 315.6 C1393.6 319.8 1384.3 324.8 1377.2 332.6 C1370.1 340.4 1364.1 353.6 1360.2 362.4 C1356.3 371.3 1352.4 383.0 1353.8 385.9 C1355.2 388.7 1363.4 384.8 1368.7 379.5 C1374.0 374.1 1378.7 361.4 1385.8 353.9 C1392.9 346.5 1401.4 340.4 1411.3 334.7 C1421.3 329.1 1436.9 326.6 1445.4 319.8 C1453.9 313.1 1464.6 296.4 1462.5 294.3 Z" fill="#787878"/>
<path d="M1411.3 301.7 C1414.9 302.8 1423.8 308.5 1432.6 308.1 C1441.5 307.7 1455.7 303.8 1464.6 299.6 C1473.5 295.3 1480.6 288.0 1485.9 282.5 C1491.2 277.0 1494.8 269.2 1496.6 266.6" fill="none" stroke="#303030" stroke-width="6.4" stroke-linecap="round" stroke-linejoin="round"/>
<path d="M1419.9 341.1 C1424.1 338.6 1437.6 330.1 1445.4 326.2 C1453.2 322.3 1459.6 319.8 1466.7 317.7 C1473.8 315.6 1484.5 314.1 1488.0 313.4" fill="none" stroke="#303030" stroke-width="2.6" stroke-linecap="round" stroke-linejoin="round"/>
<path d="M1481.6 204.8 C1482.4 209.0 1485.9 222.5 1485.9 230.3 C1485.9 238.1 1482.4 248.1 1481.6 251.6" fill="none" stroke="#303030" stroke-width="2.1" stroke-linecap="round" stroke-linejoin="round"/>
<path d="M1160.4 175.9 C1167.8 173.6 1191.0 166.0 1204.9 162.0 C1218.8 158.1 1230.8 154.6 1243.8 152.3 C1256.8 150.0 1269.8 148.4 1282.8 148.1 C1295.7 147.9 1308.3 149.3 1321.7 150.9 C1335.1 152.5 1349.5 155.1 1363.4 157.9 C1377.3 160.6 1392.6 163.7 1405.1 167.6 C1417.7 171.5 1433.0 179.2 1438.5 181.5" fill="none" stroke="#787878" stroke-width="10.6" stroke-linecap="round" stroke-linejoin="round"/>
<path d="M1149.3 184.3 C1155.7 182.4 1175.7 175.9 1188.2 173.2 C1200.7 170.4 1218.3 168.5 1224.4 167.6" fill="none" stroke="#787878" stroke-width="6.1" stroke-linecap="round" stroke-linejoin="round" stroke-opacity="0.70"/>
<path d="M1232.7 270.5 C1237.3 264.9 1246.6 261.7 1257.7 259.4 C1268.9 257.1 1285.5 255.7 1299.5 256.6 C1313.4 257.5 1331.9 259.8 1341.2 264.9 C1350.4 270.0 1353.2 278.9 1355.1 287.2 C1356.9 295.5 1354.6 305.7 1352.3 315.0 C1350.0 324.3 1341.6 333.6 1341.2 342.8 C1340.7 352.1 1350.4 362.3 1349.5 370.6 C1348.6 379.0 1344.0 387.8 1335.6 392.9 C1327.3 398.0 1311.0 401.2 1299.5 401.2 C1287.9 401.2 1275.3 398.0 1266.1 392.9 C1256.8 387.8 1249.4 379.0 1243.8 370.6 C1238.3 362.3 1233.6 352.1 1232.7 342.8 C1231.8 333.6 1238.7 323.4 1238.3 315.0 C1237.8 306.7 1230.8 300.2 1229.9 292.8 C1229.0 285.3 1228.1 276.1 1232.7 270.5 Z" fill="#646464"/>
<path d="M1335.6 203.8 C1336.5 200.5 1346.7 196.8 1352.3 198.2 C1357.9 199.6 1365.3 205.6 1369.0 212.1 C1372.7 218.6 1375.0 228.3 1374.6 237.1 C1374.1 245.9 1370.4 257.1 1366.2 264.9 C1362.0 272.8 1356.0 279.8 1349.5 284.4 C1343.0 289.1 1334.2 292.3 1327.3 292.8 C1320.3 293.2 1308.7 290.9 1307.8 287.2 C1306.9 283.5 1315.7 275.1 1321.7 270.5 C1327.7 265.9 1338.9 264.9 1344.0 259.4 C1349.1 253.8 1351.8 244.1 1352.3 237.1 C1352.8 230.2 1349.5 223.2 1346.7 217.7 C1344.0 212.1 1334.7 207.0 1335.6 203.8 Z" fill="#646464"/>
<path d="M1243.8 328.9 C1248.5 323.4 1262.4 320.6 1271.6 320.6 C1280.9 320.6 1291.1 322.9 1299.5 328.9 C1307.8 334.9 1319.4 347.9 1321.7 356.7 C1324.0 365.5 1319.4 376.7 1313.4 381.8 C1307.3 386.9 1294.8 388.3 1285.5 387.3 C1276.3 386.4 1264.7 381.8 1257.7 376.2 C1250.8 370.6 1246.1 361.8 1243.8 354.0 C1241.5 346.1 1239.2 334.5 1243.8 328.9 Z" fill="#303030" fill-opacity="0.80"/>
<path d="M1260.5 342.8 C1262.4 337.3 1276.3 335.9 1282.8 337.3 C1289.3 338.7 1297.6 346.1 1299.5 351.2 C1301.3 356.3 1298.5 364.6 1293.9 367.9 C1289.3 371.1 1277.2 374.8 1271.6 370.6 C1266.1 366.5 1258.7 348.4 1260.5 342.8 Z" fill="#646464" fill-opacity="0.70"/>
</g>
<rect x="1003.5" y="92.0" width="600.0" height="350.0" filter="url(#nz2)"/>
</g>
<path d="M1285.1 101.8 C1312.2 101.3 1344.2 106.3 1373.7 110.7 C1403.3 115.1 1437.8 121.0 1462.4 128.4 C1487.0 135.8 1506.2 145.2 1521.5 155.0 C1536.8 164.9 1545.1 176.7 1554.0 187.5 C1562.9 198.4 1569.8 210.7 1574.7 220.0 C1579.6 229.4 1583.1 233.8 1583.6 243.7 C1584.0 253.5 1580.1 265.3 1577.6 279.1 C1575.2 292.9 1570.7 311.2 1568.8 326.4 C1566.8 341.7 1567.3 357.0 1565.8 370.7 C1564.3 384.5 1564.3 399.3 1559.9 409.2 C1555.5 419.0 1555.5 425.9 1539.2 429.9 C1523.0 433.8 1494.9 432.8 1462.4 432.8 C1429.9 432.8 1378.7 429.4 1344.2 429.9 C1309.7 430.3 1285.1 435.0 1255.5 435.8 C1226.0 436.5 1191.5 435.3 1166.9 434.3 C1142.2 433.3 1127.5 432.6 1107.8 429.9 C1088.1 427.1 1061.5 424.4 1048.7 418.0 C1035.9 411.6 1034.4 401.8 1030.9 391.4 C1027.5 381.1 1029.2 369.3 1028.0 356.0 C1026.7 342.7 1025.3 326.4 1023.5 311.6 C1021.8 296.9 1018.9 279.6 1017.6 267.3 C1016.4 255.0 1014.4 246.6 1016.1 237.8 C1017.9 228.9 1021.1 223.0 1028.0 214.1 C1034.9 205.3 1045.2 194.4 1057.5 184.6 C1069.8 174.7 1086.1 163.9 1101.9 155.0 C1117.6 146.1 1133.9 138.3 1152.1 131.4 C1170.3 124.5 1189.0 118.6 1211.2 113.6 C1233.4 108.7 1258.0 102.3 1285.1 101.8 Z" fill="none" stroke="#5a5a5a" stroke-width="1.5" filter="url(#b1)"/>
<g filter="url(#b1)">
<path d="M1124.0 193.4 C1124.3 187.3 1128.2 184.1 1131.4 183.1 C1134.6 182.1 1137.3 184.3 1143.2 187.5 C1149.1 190.7 1158.5 198.4 1166.9 202.3 C1175.2 206.2 1188.0 206.7 1193.5 211.2 C1198.9 215.6 1198.6 221.5 1199.4 228.9 C1200.1 236.3 1198.4 246.6 1197.9 255.5 C1197.4 264.4 1197.9 275.4 1196.4 282.1 C1194.9 288.7 1192.5 294.4 1189.0 295.4 C1185.6 296.4 1180.9 292.7 1175.7 288.0 C1170.6 283.3 1163.9 274.7 1158.0 267.3 C1152.1 259.9 1144.9 251.6 1140.3 243.7 C1135.6 235.8 1132.6 228.4 1129.9 220.0 C1127.2 211.7 1123.8 199.6 1124.0 193.4 Z" fill="#ffffff"/>
<path d="M1130.6 200.2 C1130.3 194.7 1133.8 191.7 1136.5 191.0 C1139.3 190.4 1142.2 192.7 1147.2 196.1 C1152.1 199.6 1159.8 208.2 1166.3 211.7 C1172.9 215.3 1182.3 214.1 1186.3 217.3 C1190.2 220.4 1189.5 225.1 1190.1 230.6 C1190.7 236.2 1189.7 243.3 1189.8 250.5 C1190.0 257.8 1191.9 268.2 1191.2 274.2 C1190.4 280.2 1188.4 285.9 1185.5 286.6 C1182.6 287.4 1178.1 283.5 1173.9 278.7 C1169.6 274.0 1164.1 264.4 1160.0 258.1 C1155.9 251.7 1152.8 246.3 1149.2 240.6 C1145.7 234.9 1141.7 230.5 1138.6 223.8 C1135.5 217.1 1131.0 205.6 1130.6 200.2 Z" fill="#8c8c8c"/>
<path d="M1459.4 184.6 C1463.4 184.1 1468.5 185.6 1471.3 190.5 C1474.0 195.4 1475.7 205.3 1475.7 214.1 C1475.7 223.0 1474.5 234.8 1471.3 243.7 C1468.1 252.5 1462.4 260.4 1456.5 267.3 C1450.6 274.2 1442.7 280.1 1435.8 285.0 C1428.9 290.0 1420.5 295.9 1415.1 296.9 C1409.7 297.9 1405.7 295.9 1403.3 291.0 C1400.8 286.0 1400.6 276.2 1400.3 267.3 C1400.1 258.4 1400.3 246.1 1401.8 237.8 C1403.3 229.4 1404.5 222.0 1409.2 217.1 C1413.9 212.1 1423.5 212.1 1429.9 208.2 C1436.3 204.3 1442.7 197.4 1447.6 193.4 C1452.5 189.5 1455.5 185.1 1459.4 184.6 Z" fill="#ffffff"/>
<path d="M1455.7 193.3 C1459.1 192.5 1463.7 193.8 1465.7 198.1 C1467.7 202.4 1468.3 211.7 1467.6 219.1 C1467.0 226.4 1464.7 235.5 1461.9 242.2 C1459.2 248.9 1455.5 253.9 1451.2 259.5 C1446.8 265.1 1441.4 270.8 1436.0 275.6 C1430.5 280.3 1423.0 286.8 1418.4 288.0 C1413.8 289.2 1410.1 287.4 1408.3 283.0 C1406.6 278.5 1407.2 268.9 1407.7 261.4 C1408.2 253.9 1409.8 244.3 1411.3 237.9 C1412.8 231.5 1413.2 226.2 1416.7 222.8 C1420.1 219.4 1427.2 220.8 1432.0 217.4 C1436.8 214.1 1441.4 206.6 1445.4 202.6 C1449.3 198.6 1452.4 194.0 1455.7 193.3 Z" fill="#8c8c8c"/>
</g>
<g filter="url(#b1)">
<path d="M1226.0 214.1 C1226.7 204.8 1229.9 194.9 1234.8 187.5 C1239.8 180.1 1247.2 174.0 1255.5 169.8 C1263.9 165.6 1275.2 162.9 1285.1 162.4 C1294.9 161.9 1306.7 163.1 1314.6 166.8 C1322.5 170.5 1328.2 177.7 1332.4 184.6 C1336.5 191.5 1338.3 200.8 1339.7 208.2 C1341.2 215.6 1343.4 225.0 1341.2 228.9 C1339.0 232.8 1333.3 232.3 1326.4 231.9 C1319.6 231.4 1307.7 225.4 1299.9 225.9 C1292.0 226.4 1286.1 231.4 1279.2 234.8 C1272.3 238.3 1264.9 243.4 1258.5 246.6 C1252.1 249.8 1245.4 254.5 1240.7 254.0 C1236.1 253.5 1232.9 250.3 1230.4 243.7 C1227.9 237.0 1225.2 223.5 1226.0 214.1 Z" fill="#fff"/>
<ellipse cx="1311.7" cy="191.4" rx="4.7" ry="4.7" fill="#777"/>
<ellipse cx="1311.7" cy="191.4" rx="2.1" ry="2.1" fill="#111"/>
<path d="M1295.4 264.4 L1302.8 251.1 L1310.2 264.4 Z" fill="#fff"/>
<path d="M1261.4 293.9 C1264.1 290.5 1274.2 288.0 1279.2 288.0 C1284.1 288.0 1289.3 291.0 1291.0 293.9 C1292.7 296.9 1291.5 303.0 1289.5 305.7 C1287.5 308.4 1282.4 309.9 1279.2 310.2 C1276.0 310.4 1272.3 307.0 1270.3 307.2 C1268.3 307.5 1268.6 311.4 1267.3 311.6 C1266.1 311.9 1263.9 311.6 1262.9 308.7 C1261.9 305.7 1258.7 297.4 1261.4 293.9 Z" fill="#000"/>
<path d="M1322.0 370.7 L1326.4 361.9 L1330.9 370.7 Z" fill="#ddd"/>
<path d="M1258.5 391.4 C1260.9 392.9 1268.3 397.3 1273.3 400.3 C1278.2 403.3 1285.6 407.7 1288.0 409.2" fill="none" stroke="#fff" stroke-width="3.3" stroke-linecap="round" stroke-linejoin="round"/>
<path d="M1288.0 409.2 C1292.5 407.7 1305.3 404.2 1314.6 400.3 C1324.0 396.4 1339.3 388.0 1344.2 385.5" fill="none" stroke="#fff" stroke-width="3.3" stroke-linecap="round" stroke-linejoin="round"/>
<path d="M1282.1 394.4 C1285.1 393.7 1293.4 390.2 1299.9 390.0 C1306.3 389.7 1317.1 392.4 1320.5 392.9" fill="none" stroke="#ddd" stroke-width="2.4" stroke-linecap="round" stroke-linejoin="round"/>
</g>
<radialGradient id="fov3" gradientUnits="userSpaceOnUse" cx="2126" cy="250" r="240" gradientTransform="translate(0 75) scale(1 0.7)"><stop offset="0" stop-color="#fff"/><stop offset="0.55" stop-color="#fff"/><stop offset="0.85" stop-color="#777"/><stop offset="1" stop-color="#000"/></radialGradient>
<mask id="m3" maskUnits="userSpaceOnUse" x="1860" y="80" width="560" height="380"><rect x="1860" y="80" width="560" height="380" fill="url(#fov3)"/></mask>
<clipPath id="axb3"><path d="M1933.9 163.9 C1948.7 154.5 1980.7 144.7 2007.8 137.3 C2034.9 129.9 2066.9 123.0 2096.4 119.6 C2126.0 116.1 2155.5 114.1 2185.1 116.6 C2214.6 119.1 2249.1 127.4 2273.7 134.3 C2298.4 141.2 2321.0 145.7 2332.8 158.0 C2344.7 170.3 2344.7 190.0 2344.7 208.2 C2344.7 226.4 2339.7 247.6 2332.8 267.3 C2325.9 287.0 2318.1 309.2 2303.3 326.4 C2288.5 343.7 2263.9 358.4 2244.2 370.7 C2224.5 383.1 2202.3 393.7 2185.1 400.3 C2167.8 406.9 2155.5 411.6 2140.7 410.6 C2126.0 409.7 2113.7 401.0 2096.4 394.4 C2079.2 387.7 2057.0 379.6 2037.3 370.7 C2017.6 361.9 1995.4 353.5 1978.2 341.2 C1961.0 328.9 1944.7 314.1 1933.9 296.9 C1923.0 279.6 1915.7 255.0 1913.2 237.8 C1910.7 220.5 1915.7 205.7 1919.1 193.4 C1922.6 181.1 1919.1 173.2 1933.9 163.9 Z"/></clipPath>
<g clip-path="url(#axb3)" mask="url(#m3)">
<path d="M1933.9 163.9 C1948.7 154.5 1980.7 144.7 2007.8 137.3 C2034.9 129.9 2066.9 123.0 2096.4 119.6 C2126.0 116.1 2155.5 114.1 2185.1 116.6 C2214.6 119.1 2249.1 127.4 2273.7 134.3 C2298.4 141.2 2321.0 145.7 2332.8 158.0 C2344.7 170.3 2344.7 190.0 2344.7 208.2 C2344.7 226.4 2339.7 247.6 2332.8 267.3 C2325.9 287.0 2318.1 309.2 2303.3 326.4 C2288.5 343.7 2263.9 358.4 2244.2 370.7 C2224.5 383.1 2202.3 393.7 2185.1 400.3 C2167.8 406.9 2155.5 411.6 2140.7 410.6 C2126.0 409.7 2113.7 401.0 2096.4 394.4 C2079.2 387.7 2057.0 379.6 2037.3 370.7 C2017.6 361.9 1995.4 353.5 1978.2 341.2 C1961.0 328.9 1944.7 314.1 1933.9 296.9 C1923.0 279.6 1915.7 255.0 1913.2 237.8 C1910.7 220.5 1915.7 205.7 1919.1 193.4 C1922.6 181.1 1919.1 173.2 1933.9 163.9 Z" fill="#141414"/>
<g filter="url(#b2)">
<path d="M1891.1 217.1 C1892.3 209.9 1894.6 202.8 1899.6 195.7 C1904.6 188.6 1913.1 180.1 1920.9 174.4 C1928.7 168.8 1937.3 163.6 1946.5 161.7 C1955.7 159.7 1966.4 161.5 1976.3 162.7 C1986.3 164.0 1996.2 167.0 2006.1 169.1 C2016.1 171.2 2028.0 171.8 2036.0 175.5 C2044.0 179.2 2050.4 185.3 2054.1 191.5 C2057.8 197.7 2058.2 205.0 2058.3 212.8 C2058.5 220.6 2056.7 236.9 2055.1 238.4 C2053.5 239.8 2053.4 227.0 2048.8 221.3 C2044.1 215.6 2035.3 209.6 2027.4 204.3 C2019.6 198.9 2009.0 193.3 2001.9 189.4 C1994.8 185.4 1989.6 180.5 1984.8 180.8 C1980.0 181.2 1974.5 185.4 1973.1 191.5 C1971.7 197.5 1973.6 207.8 1976.3 217.1 C1979.0 226.3 1989.1 241.2 1989.1 246.9 C1989.1 252.6 1982.0 252.2 1976.3 251.1 C1970.6 250.1 1961.4 242.6 1955.0 240.5 C1948.6 238.4 1942.6 236.6 1938.0 238.4 C1933.3 240.1 1930.2 246.2 1927.3 251.1 C1924.5 256.1 1923.8 264.6 1920.9 268.2 C1918.1 271.7 1913.8 273.9 1910.3 272.4 C1906.7 271.0 1902.6 265.3 1899.6 259.7 C1896.6 254.0 1893.6 245.5 1892.2 238.4 C1890.7 231.3 1889.8 224.2 1891.1 217.1 Z" fill="#484848"/>
<path d="M1927.3 255.4 C1930.9 252.2 1936.2 249.0 1942.2 249.0 C1948.3 249.0 1955.7 251.5 1963.5 255.4 C1971.3 259.3 1980.6 266.8 1989.1 272.4 C1997.6 278.1 2006.5 284.9 2014.7 289.5 C2022.8 294.1 2032.4 297.3 2038.1 300.1 C2043.8 303.0 2048.4 304.1 2048.8 306.5 C2049.1 309.0 2045.2 314.3 2040.2 315.1 C2035.3 315.8 2026.7 312.9 2018.9 310.8 C2011.1 308.7 2001.9 305.1 1993.4 302.3 C1984.8 299.4 1975.6 295.9 1967.8 293.8 C1960.0 291.6 1952.9 291.6 1946.5 289.5 C1940.1 287.4 1933.7 284.5 1929.4 281.0 C1925.2 277.4 1921.3 272.4 1920.9 268.2 C1920.6 263.9 1923.8 258.6 1927.3 255.4 Z" fill="#484848"/>
<path d="M1906.0 263.9 C1907.1 258.2 1917.0 256.5 1920.9 259.7 C1924.8 262.9 1925.2 277.4 1929.4 283.1 C1933.7 288.8 1940.1 290.9 1946.5 293.8 C1952.9 296.6 1962.8 296.6 1967.8 300.1 C1972.8 303.7 1978.1 312.2 1976.3 315.1 C1974.5 317.9 1962.8 315.8 1957.1 317.2 C1951.5 318.6 1947.2 323.9 1942.2 323.6 C1937.3 323.2 1931.9 320.0 1927.3 315.1 C1922.7 310.1 1918.1 302.3 1914.5 293.8 C1911.0 285.2 1904.9 269.6 1906.0 263.9 Z" fill="#484848"/>
<path d="M1942.2 315.1 C1945.2 308.7 1952.2 305.8 1959.3 304.4 C1966.4 303.0 1976.3 304.4 1984.8 306.5 C1993.4 308.7 2001.2 312.2 2010.4 317.2 C2019.6 322.2 2030.3 329.3 2040.2 336.4 C2050.2 343.5 2060.8 352.0 2070.1 359.8 C2079.3 367.6 2089.2 376.8 2095.6 383.2 C2102.0 389.6 2108.4 395.3 2108.4 398.2 C2108.4 401.0 2102.0 402.1 2095.6 400.3 C2089.2 398.5 2078.6 391.8 2070.1 387.5 C2061.5 383.2 2053.0 378.3 2044.5 374.7 C2036.0 371.2 2027.4 367.8 2018.9 366.2 C2010.4 364.6 2001.9 364.8 1993.4 365.1 C1984.8 365.5 1975.6 368.5 1967.8 368.3 C1960.0 368.1 1950.9 368.3 1946.5 364.1 C1942.0 359.8 1941.9 350.9 1941.2 342.8 C1940.4 334.6 1939.2 321.5 1942.2 315.1 Z" fill="#484848"/>
<path d="M2044.5 300.1 C2045.9 296.9 2056.6 292.7 2061.5 293.8 C2066.5 294.8 2070.1 300.1 2074.3 306.5 C2078.6 312.9 2083.6 323.6 2087.1 332.1 C2090.7 340.6 2093.1 348.8 2095.6 357.7 C2098.1 366.5 2102.7 381.8 2102.0 385.4 C2101.3 388.9 2095.3 384.3 2091.4 379.0 C2087.5 373.6 2082.8 361.9 2078.6 353.4 C2074.3 344.9 2070.1 334.6 2065.8 327.8 C2061.5 321.1 2056.6 317.5 2053.0 312.9 C2049.5 308.3 2043.1 303.3 2044.5 300.1 Z" fill="#484848"/>
<path d="M1976.3 251.1 C1975.6 246.2 1986.3 247.6 1993.4 251.1 C2000.5 254.7 2010.4 265.3 2018.9 272.4 C2027.4 279.5 2037.4 286.7 2044.5 293.8 C2051.6 300.9 2060.8 311.5 2061.5 315.1 C2062.2 318.6 2055.1 317.5 2048.8 315.1 C2042.4 312.6 2031.7 305.8 2023.2 300.1 C2014.7 294.5 2005.4 289.1 1997.6 281.0 C1989.8 272.8 1977.0 256.1 1976.3 251.1 Z" fill="#484848"/>
<path d="M1989.1 285.2 C1991.2 282.4 2009.0 291.3 2018.9 293.8 C2028.9 296.2 2040.2 296.6 2048.8 300.1 C2057.3 303.7 2063.7 307.2 2070.1 315.1 C2076.5 322.9 2082.5 336.4 2087.1 347.0 C2091.7 357.7 2098.5 374.4 2097.8 379.0 C2097.0 383.6 2088.9 379.0 2082.8 374.7 C2076.8 370.5 2069.3 360.5 2061.5 353.4 C2053.7 346.3 2045.2 339.2 2036.0 332.1 C2026.7 325.0 2014.0 318.6 2006.1 310.8 C1998.3 303.0 1987.0 288.1 1989.1 285.2 Z" fill="#484848"/>
<path d="M1935.8 249.0 C1939.4 250.8 1950.4 255.4 1957.1 259.7 C1963.9 263.9 1969.6 269.6 1976.3 274.6 C1983.1 279.5 1994.1 287.0 1997.6 289.5" fill="none" stroke="#141414" stroke-width="5.5" stroke-linecap="round" stroke-linejoin="round"/>
<path d="M1976.3 306.5 C1981.3 308.7 1995.5 313.3 2006.1 319.3 C2016.8 325.4 2029.6 334.9 2040.2 342.8 C2050.9 350.6 2061.5 359.1 2070.1 366.2 C2078.6 373.3 2087.8 382.2 2091.4 385.4" fill="none" stroke="#141414" stroke-width="1.9" stroke-linecap="round" stroke-linejoin="round"/>
<path d="M1967.8 234.1 C1969.2 237.6 1972.1 249.0 1976.3 255.4 C1980.6 261.8 1990.5 269.6 1993.4 272.4" fill="none" stroke="#141414" stroke-width="2.6" stroke-linecap="round" stroke-linejoin="round"/>
<path d="M2247.8 208.5 C2248.1 200.4 2251.3 197.2 2256.3 191.5 C2261.3 185.8 2269.8 179.4 2277.6 174.4 C2285.4 169.5 2294.7 164.1 2303.2 161.7 C2311.7 159.2 2320.2 158.8 2328.8 159.5 C2337.3 160.2 2346.2 162.7 2354.3 165.9 C2362.5 169.1 2370.7 173.7 2377.8 178.7 C2384.9 183.7 2392.0 189.7 2396.9 195.7 C2401.9 201.8 2405.6 208.5 2407.6 214.9 C2409.5 221.3 2409.7 227.3 2408.6 234.1 C2407.6 240.8 2403.9 248.3 2401.2 255.4 C2398.5 262.5 2394.8 270.3 2392.7 276.7 C2390.5 283.1 2390.5 287.4 2388.4 293.8 C2386.3 300.1 2382.4 308.0 2379.9 315.1 C2377.4 322.2 2375.3 329.3 2373.5 336.4 C2371.7 343.5 2371.4 353.1 2369.2 357.7 C2367.1 362.3 2365.7 364.1 2360.7 364.1 C2355.7 364.1 2347.6 359.4 2339.4 357.7 C2331.2 355.9 2320.6 353.8 2311.7 353.4 C2302.8 353.1 2294.7 353.8 2286.1 355.5 C2277.6 357.3 2268.4 360.5 2260.6 364.1 C2252.8 367.6 2245.7 372.9 2239.3 376.8 C2232.9 380.8 2227.5 386.1 2222.2 387.5 C2216.9 388.9 2207.3 388.9 2207.3 385.4 C2207.3 381.8 2216.9 372.2 2222.2 366.2 C2227.5 360.2 2232.2 354.8 2239.3 349.1 C2246.4 343.5 2256.3 337.1 2264.8 332.1 C2273.4 327.1 2281.5 322.9 2290.4 319.3 C2299.3 315.8 2315.3 313.3 2318.1 310.8 C2320.9 308.3 2312.8 305.5 2307.4 304.4 C2302.1 303.3 2291.8 304.1 2286.1 304.4 C2280.5 304.8 2276.9 307.6 2273.4 306.5 C2269.8 305.5 2267.7 303.7 2264.8 298.0 C2262.0 292.3 2258.1 282.0 2256.3 272.4 C2254.5 262.9 2255.6 251.1 2254.2 240.5 C2252.8 229.8 2247.4 216.7 2247.8 208.5 Z" fill="#484848"/>
<path d="M2207.3 385.4 C2203.0 383.9 2200.9 374.7 2200.9 368.3 C2200.9 361.9 2203.0 352.7 2207.3 347.0 C2211.6 341.3 2218.3 338.1 2226.5 334.2 C2234.7 330.3 2246.4 326.8 2256.3 323.6 C2266.3 320.4 2276.9 317.9 2286.1 315.1 C2295.4 312.2 2304.6 306.5 2311.7 306.5 C2318.8 306.5 2330.2 311.5 2328.8 315.1 C2327.3 318.6 2312.4 323.6 2303.2 327.8 C2294.0 332.1 2282.6 335.7 2273.4 340.6 C2264.1 345.6 2255.6 351.6 2247.8 357.7 C2240.0 363.7 2233.2 372.2 2226.5 376.8 C2219.7 381.5 2211.6 386.8 2207.3 385.4 Z" fill="#484848"/>
<path d="M2316.0 293.8 C2313.8 291.6 2296.1 303.0 2286.1 306.5 C2276.2 310.1 2265.5 310.8 2256.3 315.1 C2247.1 319.3 2237.8 324.3 2230.7 332.1 C2223.6 339.9 2217.6 353.1 2213.7 361.9 C2209.8 370.8 2205.9 382.5 2207.3 385.4 C2208.7 388.2 2216.9 384.3 2222.2 379.0 C2227.5 373.6 2232.2 360.9 2239.3 353.4 C2246.4 346.0 2254.9 339.9 2264.8 334.2 C2274.8 328.6 2290.4 326.1 2298.9 319.3 C2307.4 312.6 2318.1 295.9 2316.0 293.8 Z" fill="#484848"/>
<path d="M2264.8 301.2 C2268.4 302.3 2277.3 308.0 2286.1 307.6 C2295.0 307.2 2309.2 303.3 2318.1 299.1 C2327.0 294.8 2334.1 287.5 2339.4 282.0 C2344.7 276.5 2348.3 268.7 2350.1 266.1" fill="none" stroke="#141414" stroke-width="6.4" stroke-linecap="round" stroke-linejoin="round"/>
<path d="M2273.4 340.6 C2277.6 338.1 2291.1 329.6 2298.9 325.7 C2306.7 321.8 2313.1 319.3 2320.2 317.2 C2327.3 315.1 2338.0 313.6 2341.5 312.9" fill="none" stroke="#141414" stroke-width="2.6" stroke-linecap="round" stroke-linejoin="round"/>
<path d="M2335.1 204.3 C2335.9 208.5 2339.4 222.0 2339.4 229.8 C2339.4 237.6 2335.9 247.6 2335.1 251.1" fill="none" stroke="#141414" stroke-width="2.1" stroke-linecap="round" stroke-linejoin="round"/>
<path d="M2013.9 175.4 C2021.3 173.1 2044.5 165.5 2058.4 161.5 C2072.3 157.6 2084.3 154.1 2097.3 151.8 C2110.3 149.5 2123.3 147.9 2136.3 147.6 C2149.2 147.4 2161.8 148.8 2175.2 150.4 C2188.6 152.0 2203.0 154.6 2216.9 157.4 C2230.8 160.1 2246.1 163.2 2258.6 167.1 C2271.2 171.0 2286.5 178.7 2292.0 181.0" fill="none" stroke="#484848" stroke-width="10.6" stroke-linecap="round" stroke-linejoin="round"/>
<path d="M2002.8 183.8 C2009.2 181.9 2029.2 175.4 2041.7 172.7 C2054.2 169.9 2071.8 168.0 2077.9 167.1" fill="none" stroke="#484848" stroke-width="6.1" stroke-linecap="round" stroke-linejoin="round" stroke-opacity="0.70"/>
<path d="M2086.2 270.0 C2090.8 264.4 2100.1 261.2 2111.2 258.9 C2122.4 256.6 2139.0 255.2 2153.0 256.1 C2166.9 257.0 2185.4 259.3 2194.7 264.4 C2203.9 269.5 2206.7 278.4 2208.6 286.7 C2210.4 295.0 2208.1 305.2 2205.8 314.5 C2203.5 323.8 2195.1 333.1 2194.7 342.3 C2194.2 351.6 2203.9 361.8 2203.0 370.1 C2202.1 378.5 2197.5 387.3 2189.1 392.4 C2180.8 397.5 2164.5 400.7 2153.0 400.7 C2141.4 400.7 2128.8 397.5 2119.6 392.4 C2110.3 387.3 2102.9 378.5 2097.3 370.1 C2091.8 361.8 2087.1 351.6 2086.2 342.3 C2085.3 333.1 2092.2 322.9 2091.8 314.5 C2091.3 306.2 2084.3 299.7 2083.4 292.3 C2082.5 284.8 2081.6 275.6 2086.2 270.0 Z" fill="#2a2a2a"/>
<path d="M2189.1 203.3 C2190.0 200.0 2200.2 196.3 2205.8 197.7 C2211.4 199.1 2218.8 205.1 2222.5 211.6 C2226.2 218.1 2228.5 227.8 2228.1 236.6 C2227.6 245.4 2223.9 256.6 2219.7 264.4 C2215.5 272.3 2209.5 279.3 2203.0 283.9 C2196.5 288.6 2187.7 291.8 2180.8 292.3 C2173.8 292.7 2162.2 290.4 2161.3 286.7 C2160.4 283.0 2169.2 274.6 2175.2 270.0 C2181.2 265.4 2192.4 264.4 2197.5 258.9 C2202.6 253.3 2205.3 243.6 2205.8 236.6 C2206.3 229.7 2203.0 222.7 2200.2 217.2 C2197.5 211.6 2188.2 206.5 2189.1 203.3 Z" fill="#2a2a2a"/>
<path d="M2097.3 328.4 C2102.0 322.9 2115.9 320.1 2125.1 320.1 C2134.4 320.1 2144.6 322.4 2153.0 328.4 C2161.3 334.4 2172.9 347.4 2175.2 356.2 C2177.5 365.0 2172.9 376.2 2166.9 381.3 C2160.8 386.4 2148.3 387.8 2139.0 386.8 C2129.8 385.9 2118.2 381.3 2111.2 375.7 C2104.3 370.1 2099.6 361.3 2097.3 353.5 C2095.0 345.6 2092.7 334.0 2097.3 328.4 Z" fill="#141414" fill-opacity="0.80"/>
<path d="M2114.0 342.3 C2115.9 336.8 2129.8 335.4 2136.3 336.8 C2142.8 338.2 2151.1 345.6 2153.0 350.7 C2154.8 355.8 2152.0 364.1 2147.4 367.4 C2142.8 370.6 2130.7 374.3 2125.1 370.1 C2119.6 366.0 2112.2 347.9 2114.0 342.3 Z" fill="#2a2a2a" fill-opacity="0.70"/>
</g>

</g>
<g filter="url(#b1)">
<path d="M1976.7 190.5 C1978.0 186.0 1983.4 181.6 1987.1 181.6 C1990.8 181.6 1992.5 186.5 1998.9 190.5 C2005.3 194.4 2017.1 201.3 2025.5 205.3 C2033.9 209.2 2044.7 208.7 2049.1 214.1 C2053.6 219.5 2052.1 228.9 2052.1 237.8 C2052.1 246.6 2049.9 258.4 2049.1 267.3 C2048.4 276.2 2049.6 286.3 2047.7 291.0 C2045.7 295.6 2042.0 297.4 2037.3 295.4 C2032.6 293.4 2025.5 285.8 2019.6 279.1 C2013.7 272.5 2007.3 263.9 2001.9 255.5 C1996.4 247.1 1990.8 236.8 1987.1 228.9 C1983.4 221.0 1981.4 214.6 1979.7 208.2 C1978.0 201.8 1975.5 194.9 1976.7 190.5 Z" fill="#ffffff"/>
<path d="M1979.9 194.0 C1980.9 189.8 1985.9 185.6 1989.4 185.7 C1992.8 185.9 1994.9 190.9 2000.6 194.9 C2006.4 198.9 2016.7 206.1 2024.1 209.8 C2031.5 213.4 2041.2 212.0 2045.1 216.6 C2049.0 221.2 2047.3 229.4 2047.4 237.3 C2047.5 245.2 2046.1 255.7 2045.8 264.0 C2045.5 272.2 2047.0 282.3 2045.4 286.8 C2043.7 291.3 2040.1 293.0 2035.8 290.9 C2031.4 288.9 2024.4 281.0 2019.2 274.4 C2014.0 267.9 2009.1 259.0 2004.5 251.6 C1999.9 244.1 1995.2 236.5 1991.7 229.7 C1988.2 223.0 1985.5 216.9 1983.5 210.9 C1981.6 205.0 1978.9 198.2 1979.9 194.0 Z" fill="#5c5c5c"/>
<path d="M2315.1 184.6 C2318.6 184.1 2322.0 185.6 2324.0 190.5 C2325.9 195.4 2326.9 205.3 2326.9 214.1 C2326.9 223.0 2326.9 234.8 2324.0 243.7 C2321.0 252.5 2315.1 260.4 2309.2 267.3 C2303.3 274.2 2294.9 280.1 2288.5 285.0 C2282.1 290.0 2275.7 295.9 2270.8 296.9 C2265.9 297.9 2261.4 295.9 2259.0 291.0 C2256.5 286.0 2256.2 276.2 2256.0 267.3 C2255.8 258.4 2256.0 246.1 2257.5 237.8 C2259.0 229.4 2260.2 222.0 2264.9 217.1 C2269.5 212.1 2279.2 212.1 2285.6 208.2 C2292.0 204.3 2298.4 197.4 2303.3 193.4 C2308.2 189.5 2311.7 185.1 2315.1 184.6 Z" fill="#ffffff"/>
<path d="M2313.2 188.9 C2316.4 188.3 2319.7 189.7 2321.3 194.4 C2322.9 199.0 2323.3 208.7 2323.0 216.8 C2322.7 224.8 2322.0 235.1 2319.3 242.9 C2316.6 250.7 2311.8 257.1 2306.7 263.3 C2301.6 269.5 2294.5 275.5 2288.8 280.3 C2283.0 285.2 2276.9 291.3 2272.3 292.4 C2267.8 293.5 2263.5 291.6 2261.4 286.9 C2259.3 282.2 2259.5 272.5 2259.6 264.3 C2259.8 256.1 2260.7 245.2 2262.2 237.8 C2263.7 230.4 2264.5 224.2 2268.6 220.0 C2272.6 215.9 2280.8 216.5 2286.4 212.9 C2292.0 209.2 2297.6 202.0 2302.0 198.0 C2306.5 194.0 2310.0 189.5 2313.2 188.9 Z" fill="#5c5c5c"/>
</g>
<linearGradient id="bl3" x1="0" y1="0" x2="1" y2="1"><stop offset="0" stop-color="#f4f4f4"/><stop offset="1" stop-color="#a8a8a8"/></linearGradient>
<g filter="url(#b1)">
<path d="M2078.7 214.1 C2079.4 204.8 2082.6 194.9 2087.6 187.5 C2092.5 180.1 2099.9 174.2 2108.2 169.8 C2116.6 165.4 2127.9 161.7 2137.8 160.9 C2147.6 160.2 2159.5 161.9 2167.3 165.4 C2175.2 168.8 2180.6 174.5 2185.1 181.6 C2189.5 188.8 2192.0 199.8 2193.9 208.2 C2195.9 216.6 2198.9 227.9 2196.9 231.9 C2194.9 235.8 2189.0 233.1 2182.1 231.9 C2175.2 230.6 2163.9 224.5 2155.5 224.5 C2147.2 224.5 2139.3 228.6 2131.9 231.9 C2124.5 235.1 2117.6 240.0 2111.2 243.7 C2104.8 247.4 2098.1 254.0 2093.5 254.0 C2088.8 254.0 2085.6 250.3 2083.1 243.7 C2080.7 237.0 2077.9 223.5 2078.7 214.1 Z" fill="url(#bl3)"/>
<ellipse cx="2164.4" cy="192.0" rx="4.1" ry="4.1" fill="#555"/>
<ellipse cx="2164.4" cy="192.0" rx="1.8" ry="1.8" fill="#222"/>
<path d="M2148.1 264.4 L2155.5 251.1 L2162.9 264.4 L2155.5 267.3 Z" fill="#fff"/>
<path d="M2111.2 388.5 C2113.7 390.4 2121.5 397.1 2126.0 400.3 C2130.4 403.5 2135.8 406.5 2137.8 407.7" fill="none" stroke="#ccc" stroke-width="2.4" stroke-linecap="round" stroke-linejoin="round"/>
<path d="M2167.3 406.2 C2169.8 404.7 2177.7 400.8 2182.1 397.3 C2186.6 393.9 2192.0 387.5 2193.9 385.5" fill="none" stroke="#ccc" stroke-width="2.4" stroke-linecap="round" stroke-linejoin="round"/>
<ellipse cx="2152.6" cy="403.3" rx="11.8" ry="7.4" fill="#000"/>
</g>
<clipPath id="sg0r"><rect x="300.0" y="494.1" width="359.6" height="266.5"/></clipPath>
<clipPath id="sg0" clip-path="url(#sg0r)"><path d="M325.4 765.7 C325.6 761.3 325.3 748.2 326.3 739.4 C327.3 730.6 330.1 723.3 331.6 713.1 C333.0 702.8 334.2 689.7 335.1 678.0 C336.0 666.3 337.1 653.1 336.8 642.9 C336.5 632.7 335.7 625.4 333.3 616.6 C331.0 607.8 325.6 599.0 322.8 590.3 C320.0 581.5 317.3 572.7 316.7 563.9 C316.1 555.2 316.2 546.4 319.3 537.6 C322.4 528.9 329.2 520.1 335.1 511.3 C340.9 502.5 351.2 489.4 354.4 485.0 L686.0 485.0 L686.0 765.7 L325.4 765.7 Z"/></clipPath>
<g clip-path="url(#sg0)">
<rect x="290.0" y="492.1" width="420" height="270.5" fill="#3c3c3c"/>
<g filter="url(#b2)">
<path d="M519.3 490.3 C542.7 485.3 643.6 444.4 668.4 490.3 C693.3 536.2 675.7 719.8 668.4 765.7 C661.1 811.6 631.0 774.5 624.6 765.7 C618.1 756.9 626.9 730.6 629.8 713.1 C632.7 695.5 641.5 678.0 642.1 660.4 C642.7 642.9 637.7 621.8 633.3 607.8 C628.9 593.8 623.1 585.0 615.8 576.2 C608.5 567.5 598.2 560.4 589.5 555.2 C580.7 549.9 571.9 547.6 563.2 544.6 C554.4 541.7 542.7 541.7 536.8 537.6 C531.0 533.5 531.0 528.0 528.1 520.1 C525.1 512.2 495.9 495.2 519.3 490.3 Z" fill="#6e6e6e"/>
<path d="M554.4 511.3 C555.6 507.8 571.9 512.2 580.7 516.6 C589.5 521.0 600.6 529.7 607.0 537.6 C613.5 545.5 620.8 561.6 619.3 563.9 C617.8 566.3 605.8 556.1 598.2 551.7 C590.6 547.3 581.0 544.4 573.7 537.6 C566.4 530.9 553.2 514.8 554.4 511.3 Z" fill="#4c4c4c"/>
<path d="M643.9 607.8 C647.1 599.0 664.3 581.5 668.4 607.8 C672.5 634.1 674.3 739.4 668.4 765.7 C662.6 792.0 638.3 774.5 633.3 765.7 C628.4 756.9 636.0 730.6 638.6 713.1 C641.2 695.5 648.2 678.0 649.1 660.4 C650.0 642.9 640.6 616.6 643.9 607.8 Z" fill="#5a5a5a"/>
<path d="M519.3 607.8 C525.1 601.4 545.6 603.7 563.2 604.3 C580.7 604.9 616.4 604.9 624.6 611.3 C632.7 617.7 619.0 633.0 612.3 642.9 C605.6 652.8 595.3 661.3 584.2 671.0 C573.1 680.6 556.1 693.8 545.6 700.8 C535.1 707.8 526.9 716.9 521.1 713.1 C515.2 709.3 509.4 689.7 510.5 678.0 C511.7 666.3 526.6 654.6 528.1 642.9 C529.5 631.2 513.5 614.2 519.3 607.8 Z" fill="#5c5c5c"/>
<path d="M354.4 551.7 C355.8 550.2 358.8 545.8 361.4 555.2 C364.0 564.5 367.3 590.3 370.2 607.8 C373.1 625.4 376.0 644.4 378.9 660.4 C381.9 676.5 384.5 686.8 387.7 704.3 C390.9 721.8 398.2 755.5 398.2 765.7 C398.2 775.9 391.2 775.9 387.7 765.7 C384.2 755.5 380.4 721.8 377.2 704.3 C374.0 686.8 371.3 676.5 368.4 660.4 C365.5 644.4 362.3 623.9 359.6 607.8 C357.0 591.7 353.5 573.3 352.6 563.9 C351.8 554.6 352.9 553.1 354.4 551.7 Z" fill="#8c8c8c"/>
<path d="M398.2 490.3 C402.0 488.5 435.7 479.4 445.6 490.3 C455.6 501.1 458.8 545.5 457.9 555.2 C457.0 564.8 443.3 555.8 440.4 548.2 C437.4 540.6 443.3 517.5 440.4 509.6 C437.4 501.7 429.8 504.0 422.8 500.8 C415.8 497.6 394.4 492.0 398.2 490.3 Z" fill="#5c5c5c"/>
<path d="M443.9 490.3 C455.6 485.3 505.3 482.4 519.3 490.3 C533.3 498.2 527.8 523.9 528.1 537.6 C528.4 551.4 521.6 561.0 521.1 572.7 C520.5 584.4 526.3 596.1 524.6 607.8 C522.8 619.5 515.8 632.7 510.5 642.9 C505.3 653.1 500.3 663.4 493.0 669.2 C485.7 675.1 472.5 680.9 466.7 678.0 C460.8 675.1 457.9 660.4 457.9 651.7 C457.9 642.9 464.9 635.6 466.7 625.4 C468.4 615.1 469.9 602.0 468.4 590.3 C467.0 578.6 461.1 566.9 457.9 555.2 C454.7 543.5 451.5 530.9 449.1 520.1 C446.8 509.3 432.2 495.2 443.9 490.3 Z" fill="#8a8a8a"/>
<path d="M373.7 558.7 C376.3 550.8 387.1 540.6 391.2 551.7 C395.3 562.8 394.7 609.6 398.2 625.4 C401.8 641.1 405.3 641.7 412.3 646.4 C419.3 651.1 432.7 651.1 440.4 653.4 C448.0 655.8 460.8 659.3 457.9 660.4 C455.0 661.6 432.7 660.4 422.8 660.4 C412.9 660.4 405.0 663.4 398.2 660.4 C391.5 657.5 386.3 653.1 382.5 642.9 C378.7 632.7 376.9 613.1 375.4 599.0 C374.0 585.0 371.1 566.6 373.7 558.7 Z" fill="#5c5c5c"/>
<path d="M394.7 653.4 C402.9 642.9 426.9 648.7 440.4 649.9 C453.8 651.1 463.7 660.1 475.4 660.4 C487.1 660.7 500.3 651.7 510.5 651.7 C520.8 651.7 529.5 654.6 536.8 660.4 C544.2 666.3 554.4 678.0 554.4 686.8 C554.4 695.5 542.7 705.8 536.8 713.1 C531.0 720.4 525.1 721.8 519.3 730.6 C513.5 739.4 521.9 759.9 501.8 765.7 C481.6 771.5 416.7 774.5 398.2 765.7 C379.8 756.9 391.8 731.8 391.2 713.1 C390.6 694.4 386.5 663.9 394.7 653.4 Z" fill="#5a5a5a"/>
<path d="M466.7 681.5 C469.3 675.4 477.5 669.2 484.2 667.5 C490.9 665.7 500.0 668.6 507.0 671.0 C514.0 673.3 522.8 676.5 526.3 681.5 C529.8 686.5 530.7 695.5 528.1 700.8 C525.4 706.1 517.5 710.4 510.5 713.1 C503.5 715.7 493.0 718.0 486.0 716.6 C478.9 715.1 471.6 710.1 468.4 704.3 C465.2 698.5 464.0 687.6 466.7 681.5 Z" fill="#383838"/>
<path d="M403.5 686.8 C405.8 681.5 414.3 678.0 419.3 678.0 C424.3 678.0 430.1 680.9 433.3 686.8 C436.5 692.6 439.2 705.8 438.6 713.1 C438.0 720.4 433.9 728.3 429.8 730.6 C425.7 733.0 418.1 730.6 414.0 727.1 C409.9 723.6 407.0 716.3 405.3 709.6 C403.5 702.8 401.2 692.0 403.5 686.8 Z" fill="#383838"/>
<path d="M528.1 730.6 C538.3 723.3 567.3 724.8 580.7 721.8 C594.2 718.9 605.8 705.8 608.8 713.1 C611.7 720.4 613.2 756.9 598.2 765.7 C583.3 774.5 531.0 771.5 519.3 765.7 C507.6 759.9 517.8 737.9 528.1 730.6 Z" fill="#5c5c5c"/>
</g>
<rect x="300.0" y="494.1" width="420.0" height="266.5" filter="url(#nz1)"/>
<g filter="url(#b1)">
<path d="M370.2 541.1 L428.1 516.6" fill="none" stroke="#fff" stroke-width="24.6" stroke-linecap="round" stroke-linejoin="round"/>
<path d="M370.9 540.8 L427.4 516.9" fill="none" stroke="#8c8c8c" stroke-width="15.4" stroke-linecap="round" stroke-linejoin="round"/>
<path d="M387.7 593.8 C387.4 587.6 387.7 579.2 389.5 572.7 C391.2 566.3 394.2 559.6 398.2 555.2 C402.3 550.8 408.2 547.6 414.0 546.4 C419.9 545.2 427.2 546.1 433.3 548.2 C439.5 550.2 445.9 554.6 450.9 558.7 C455.8 562.8 460.1 567.5 463.2 572.7 C466.2 578.0 468.4 584.4 469.3 590.3 C470.2 596.1 469.4 602.3 468.4 607.8 C467.4 613.4 465.8 618.9 463.2 623.6 C460.5 628.3 457.0 632.5 452.6 635.9 C448.2 639.2 441.8 642.6 436.8 643.8 C431.9 644.9 427.5 644.2 422.8 642.9 C418.1 641.6 412.9 639.1 408.8 635.9 C404.7 632.7 401.2 628.0 398.2 623.6 C395.3 619.2 393.0 614.5 391.2 609.6 C389.5 604.6 388.0 599.9 387.7 593.8 Z" fill="#fff"/>
<ellipse cx="383.9" cy="580.6" rx="6.1" ry="14.9" fill="#000" transform="rotate(4.0 383.9 580.6)"/>
<path d="M545.6 549.9 C548.8 544.9 556.7 545.5 563.2 546.4 C569.6 547.3 577.8 551.4 584.2 555.2 C590.6 559.0 597.7 563.9 601.8 569.2 C605.8 574.5 608.2 581.8 608.8 586.8 C609.4 591.7 608.5 595.8 605.3 599.0 C602.0 602.3 595.9 606.1 589.5 606.1 C583.0 606.1 573.1 601.7 566.7 599.0 C560.2 596.4 554.7 594.1 550.9 590.3 C547.1 586.5 544.7 583.0 543.9 576.2 C543.0 569.5 542.4 554.9 545.6 549.9 Z" fill="#fff"/>
<path d="M529.8 563.9 C529.8 560.1 532.2 555.9 535.1 553.4 C538.0 550.9 545.2 545.8 547.4 549.0 C549.6 552.3 549.1 567.0 548.2 572.7 C547.4 578.4 544.3 582.7 542.1 583.2 C539.9 583.8 537.1 579.4 535.1 576.2 C533.0 573.0 529.8 567.7 529.8 563.9 Z" fill="#000"/>
<path d="M508.8 625.4 C509.6 621.8 514.9 615.1 517.5 611.3 C520.2 607.5 521.6 603.4 524.6 602.5 C527.5 601.7 533.0 604.3 535.1 606.1 C537.1 607.8 537.1 610.7 536.8 613.1 C536.5 615.4 533.3 617.7 533.3 620.1 C533.3 622.4 537.1 624.8 536.8 627.1 C536.5 629.4 534.2 632.7 531.6 634.1 C528.9 635.6 524.3 636.2 521.1 635.9 C517.8 635.6 514.3 634.1 512.3 632.4 C510.2 630.6 507.9 628.9 508.8 625.4 Z" fill="#000"/>
<path d="M471.9 530.6 C472.5 525.6 480.0 514.8 482.5 513.1 C484.9 511.3 487.1 516.9 486.8 520.1 C486.5 523.3 480.3 528.6 480.7 532.4 C481.1 536.2 486.5 540.8 489.5 542.9 C492.4 544.9 494.7 543.2 498.2 544.6 C501.8 546.1 508.0 548.5 510.5 551.7 C513.0 554.9 513.7 561.3 513.2 563.9 C512.6 566.6 508.9 568.3 507.0 567.5 C505.1 566.6 504.7 561.0 501.8 558.7 C498.8 556.3 493.3 556.1 489.5 553.4 C485.7 550.8 481.9 546.7 478.9 542.9 C476.0 539.1 471.3 535.6 471.9 530.6 Z" fill="#000"/>
<path d="M464.9 492.0 C467.7 489.7 479.5 487.9 481.6 492.0 C483.6 496.1 479.4 511.9 477.2 516.6 C475.0 521.3 470.5 521.8 468.4 520.1 C466.4 518.3 465.5 510.7 464.9 506.1 C464.3 501.4 462.1 494.4 464.9 492.0 Z" fill="#fff"/>
<path d="M489.5 511.3 C490.6 509.3 494.7 512.2 498.2 516.6 C501.8 521.0 508.8 532.7 510.5 537.6 C512.3 542.6 510.5 545.5 508.8 546.4 C507.0 547.3 502.9 545.8 500.0 542.9 C497.1 540.0 493.0 534.1 491.2 528.9 C489.5 523.6 488.3 513.4 489.5 511.3 Z" fill="#fff"/>
<path d="M503.5 582.4 L519.3 584.1" fill="none" stroke="#ddd" stroke-width="4.9" stroke-linecap="round" stroke-linejoin="round"/>
<ellipse cx="407.0" cy="665.7" rx="6.1" ry="7.9" fill="#fff"/>
<ellipse cx="422.8" cy="662.2" rx="5.3" ry="7.4" fill="#fff"/>
<path d="M435.1 671.0 C436.8 668.9 441.5 670.4 443.9 674.5 C446.2 678.6 448.0 688.2 449.1 695.5 C450.3 702.8 451.5 713.9 450.9 718.3 C450.3 722.7 447.7 724.2 445.6 721.8 C443.6 719.5 440.6 710.1 438.6 704.3 C436.5 698.5 433.9 692.3 433.3 686.8 C432.7 681.2 433.3 673.0 435.1 671.0 Z" fill="#fff"/>
<ellipse cx="452.6" cy="650.8" rx="4.2" ry="7.4" fill="#fff" transform="rotate(-30.0 452.6 650.8)"/>
<ellipse cx="458.8" cy="671.0" rx="4.9" ry="8.8" fill="#fff" transform="rotate(-20.0 458.8 671.0)"/>
<ellipse cx="414.0" cy="674.5" rx="4.4" ry="7.0" fill="#eee" transform="rotate(10.0 414.0 674.5)"/>
<path d="M502.6 654.3 L507.0 646.4" fill="none" stroke="#fff" stroke-width="7.4" stroke-linecap="round" stroke-linejoin="round"/>
<path d="M516.7 662.2 L526.3 653.4" fill="none" stroke="#fff" stroke-width="7.4" stroke-linecap="round" stroke-linejoin="round"/>
<path d="M533.3 677.1 L546.5 669.2" fill="none" stroke="#fff" stroke-width="9.6" stroke-linecap="round" stroke-linejoin="round"/>
<path d="M526.3 667.5 L536.8 658.7" fill="none" stroke="#eee" stroke-width="5.3" stroke-linecap="round" stroke-linejoin="round"/>
<path d="M529.8 706.9 L552.6 689.4" fill="none" stroke="#fff" stroke-width="7.4" stroke-linecap="round" stroke-linejoin="round"/>
<path d="M501.8 716.6 L514.9 711.3" fill="none" stroke="#ccc" stroke-width="8.8" stroke-linecap="round" stroke-linejoin="round"/>
<path d="M480.7 735.9 L493.0 728.9" fill="none" stroke="#ddd" stroke-width="5.3" stroke-linecap="round" stroke-linejoin="round"/>
<path d="M412.3 737.6 L421.1 748.2" fill="none" stroke="#999" stroke-width="7.0" stroke-linecap="round" stroke-linejoin="round"/>
<path d="M628.1 606.1 C632.3 603.4 639.8 610.7 641.2 618.3 C642.7 625.9 639.6 641.1 636.8 651.7 C634.1 662.2 629.2 671.3 624.6 681.5 C619.9 691.7 616.1 706.3 608.8 713.1 C601.5 719.8 594.2 718.9 580.7 721.8 C567.3 724.8 536.8 733.0 528.1 730.6 C519.3 728.3 523.7 713.9 528.1 707.8 C532.5 701.7 544.2 700.8 554.4 693.8 C564.6 686.8 579.2 675.6 589.5 665.7 C599.7 655.8 609.4 644.1 615.8 634.1 C622.2 624.2 623.8 608.7 628.1 606.1 Z" fill="#808080"/>
<path d="M628.1 606.1 C626.0 610.7 622.2 624.2 615.8 634.1 C609.4 644.1 599.7 655.8 589.5 665.7 C579.2 675.6 564.6 686.8 554.4 693.8 C544.2 700.8 532.5 705.5 528.1 707.8" fill="none" stroke="#fff" stroke-width="4.7" stroke-linecap="round" stroke-linejoin="round"/>
<path d="M629.8 607.8 C631.7 609.6 640.1 611.0 641.2 618.3 C642.4 625.6 639.6 641.1 636.8 651.7 C634.1 662.2 629.2 671.3 624.6 681.5 C619.9 691.7 611.4 707.8 608.8 713.1" fill="none" stroke="#fff" stroke-width="5.7" stroke-linecap="round" stroke-linejoin="round"/>
<path d="M615.8 635.9 L633.3 660.4" fill="none" stroke="#fff" stroke-width="2.8" stroke-linecap="round" stroke-linejoin="round" stroke-opacity="0.85"/>
<path d="M598.2 658.7 L624.6 683.2" fill="none" stroke="#fff" stroke-width="2.8" stroke-linecap="round" stroke-linejoin="round" stroke-opacity="0.85"/>
<path d="M580.7 674.5 L608.8 711.3" fill="none" stroke="#fff" stroke-width="2.8" stroke-linecap="round" stroke-linejoin="round" stroke-opacity="0.85"/>
<path d="M608.8 642.9 L626.3 637.6" fill="none" stroke="#fff" stroke-width="2.8" stroke-linecap="round" stroke-linejoin="round" stroke-opacity="0.85"/>
<path d="M515.8 728.9 C523.7 730.0 549.4 736.2 563.2 735.9 C576.9 735.6 592.4 728.6 598.2 727.1" fill="none" stroke="#fff" stroke-width="3.8" stroke-linecap="round" stroke-linejoin="round" stroke-opacity="0.90"/>
<path d="M510.5 744.6 C517.8 745.8 542.7 751.1 554.4 751.7 C566.1 752.3 576.3 748.7 580.7 748.2" fill="none" stroke="#fff" stroke-width="3.3" stroke-linecap="round" stroke-linejoin="round" stroke-opacity="0.80"/>
<path d="M592.1 742.0 L605.3 726.2" fill="none" stroke="#fff" stroke-width="10.2" stroke-linecap="round" stroke-linejoin="round"/>
</g>
</g>
<g clip-path="url(#sg0r)"><path d="M325.4 765.7 C325.6 761.3 325.3 748.2 326.3 739.4 C327.3 730.6 330.1 723.3 331.6 713.1 C333.0 702.8 334.2 689.7 335.1 678.0 C336.0 666.3 337.1 653.1 336.8 642.9 C336.5 632.7 335.7 625.4 333.3 616.6 C331.0 607.8 325.6 599.0 322.8 590.3 C320.0 581.5 317.3 572.7 316.7 563.9 C316.1 555.2 316.2 546.4 319.3 537.6 C322.4 528.9 329.2 520.1 335.1 511.3 C340.9 502.5 351.2 489.4 354.4 485.0 L686.0 485.0 L686.0 765.7 L325.4 765.7 Z" fill="none" stroke="#707070" stroke-width="1.6" filter="url(#b1)"/></g>
<clipPath id="sg1r"><rect x="1153.3" y="494.1" width="367.7" height="266.5"/></clipPath>
<clipPath id="sg1" clip-path="url(#sg1r)"><path d="M1181.4 770.1 C1181.8 765.7 1182.8 752.6 1184.0 743.8 C1185.2 735.0 1187.2 727.7 1188.4 717.5 C1189.6 707.2 1190.6 694.1 1191.0 682.4 C1191.5 670.7 1191.8 657.5 1191.0 647.3 C1190.3 637.1 1188.1 629.8 1186.6 621.0 C1185.2 612.2 1183.1 603.4 1182.2 594.7 C1181.4 585.9 1180.8 577.1 1181.4 568.3 C1182.0 559.6 1183.4 550.8 1185.8 542.0 C1188.1 533.3 1191.2 524.5 1195.4 515.7 C1199.6 506.9 1208.6 493.8 1211.2 489.4 L1539.3 489.4 L1539.3 770.1 L1181.4 770.1 Z"/></clipPath>
<g clip-path="url(#sg1)">
<rect x="1143.3" y="492.1" width="420" height="270.5" fill="#383838"/>
<g filter="url(#b4)">
<path d="M1372.6 494.7 C1396.0 489.7 1496.9 448.8 1521.7 494.7 C1546.6 540.6 1529.0 724.2 1521.7 770.1 C1514.4 816.0 1484.3 778.9 1477.9 770.1 C1471.4 761.3 1480.2 735.0 1483.1 717.5 C1486.0 699.9 1494.8 682.4 1495.4 664.8 C1496.0 647.3 1491.0 626.2 1486.6 612.2 C1482.2 598.2 1476.4 589.4 1469.1 580.6 C1461.8 571.9 1451.5 564.8 1442.8 559.6 C1434.0 554.3 1425.2 552.0 1416.5 549.0 C1407.7 546.1 1396.0 546.1 1390.1 542.0 C1384.3 537.9 1384.3 532.4 1381.4 524.5 C1378.4 516.6 1349.2 499.6 1372.6 494.7 Z" fill="#686868"/>
<path d="M1407.7 515.7 C1408.9 512.2 1425.2 516.6 1434.0 521.0 C1442.8 525.4 1453.9 534.1 1460.3 542.0 C1466.8 549.9 1474.1 566.0 1472.6 568.3 C1471.1 570.7 1459.1 560.5 1451.5 556.1 C1443.9 551.7 1434.3 548.8 1427.0 542.0 C1419.7 535.3 1406.5 519.2 1407.7 515.7 Z" fill="#444444"/>
<path d="M1497.2 612.2 C1500.4 603.4 1517.6 585.9 1521.7 612.2 C1525.8 638.5 1527.6 743.8 1521.7 770.1 C1515.9 796.4 1491.6 778.9 1486.6 770.1 C1481.7 761.3 1489.3 735.0 1491.9 717.5 C1494.5 699.9 1501.5 682.4 1502.4 664.8 C1503.3 647.3 1493.9 621.0 1497.2 612.2 Z" fill="#505050"/>
<path d="M1372.6 612.2 C1378.4 605.8 1398.9 608.1 1416.5 608.7 C1434.0 609.3 1469.7 609.3 1477.9 615.7 C1486.0 622.1 1472.3 637.4 1465.6 647.3 C1458.9 657.2 1448.6 665.7 1437.5 675.4 C1426.4 685.0 1409.4 698.2 1398.9 705.2 C1388.4 712.2 1380.2 721.3 1374.4 717.5 C1368.5 713.7 1362.7 694.1 1363.8 682.4 C1365.0 670.7 1379.9 659.0 1381.4 647.3 C1382.8 635.6 1366.8 618.6 1372.6 612.2 Z" fill="#5a5a5a"/>
<path d="M1207.7 556.1 C1209.1 554.6 1212.1 550.2 1214.7 559.6 C1217.3 568.9 1220.6 594.7 1223.5 612.2 C1226.4 629.8 1229.3 648.8 1232.2 664.8 C1235.2 680.9 1237.8 691.2 1241.0 708.7 C1244.2 726.2 1251.5 759.9 1251.5 770.1 C1251.5 780.3 1244.5 780.3 1241.0 770.1 C1237.5 759.9 1233.7 726.2 1230.5 708.7 C1227.3 691.2 1224.6 680.9 1221.7 664.8 C1218.8 648.8 1215.6 628.3 1212.9 612.2 C1210.3 596.1 1206.8 577.7 1205.9 568.3 C1205.1 559.0 1206.2 557.5 1207.7 556.1 Z" fill="#7a7a7a"/>
<path d="M1251.5 494.7 C1255.3 492.9 1289.0 483.8 1298.9 494.7 C1308.9 505.5 1312.1 549.9 1311.2 559.6 C1310.3 569.2 1296.6 560.2 1293.7 552.6 C1290.7 545.0 1296.6 521.9 1293.7 514.0 C1290.7 506.1 1283.1 508.4 1276.1 505.2 C1269.1 502.0 1247.7 496.4 1251.5 494.7 Z" fill="#5a5a5a"/>
<path d="M1297.2 494.7 C1308.9 489.7 1358.6 486.8 1372.6 494.7 C1386.6 502.6 1381.1 528.3 1381.4 542.0 C1381.7 555.8 1374.9 565.4 1374.4 577.1 C1373.8 588.8 1379.6 600.5 1377.9 612.2 C1376.1 623.9 1369.1 637.1 1363.8 647.3 C1358.6 657.5 1353.6 667.8 1346.3 673.6 C1339.0 679.5 1325.8 685.3 1320.0 682.4 C1314.1 679.5 1311.2 664.8 1311.2 656.1 C1311.2 647.3 1318.2 640.0 1320.0 629.8 C1321.7 619.5 1323.2 606.4 1321.7 594.7 C1320.3 583.0 1314.4 571.3 1311.2 559.6 C1308.0 547.9 1304.8 535.3 1302.4 524.5 C1300.1 513.7 1285.5 499.6 1297.2 494.7 Z" fill="#868686"/>
<path d="M1227.0 563.1 C1229.6 555.2 1240.4 545.0 1244.5 556.1 C1248.6 567.2 1248.0 614.0 1251.5 629.8 C1255.1 645.5 1258.6 646.1 1265.6 650.8 C1272.6 655.5 1286.0 655.5 1293.7 657.8 C1301.3 660.2 1314.1 663.7 1311.2 664.8 C1308.3 666.0 1286.0 664.8 1276.1 664.8 C1266.2 664.8 1258.3 667.8 1251.5 664.8 C1244.8 661.9 1239.6 657.5 1235.8 647.3 C1232.0 637.1 1230.2 617.5 1228.7 603.4 C1227.3 589.4 1224.4 571.0 1227.0 563.1 Z" fill="#5a5a5a"/>
<path d="M1248.0 657.8 C1256.2 647.3 1280.2 653.1 1293.7 654.3 C1307.1 655.5 1317.0 664.5 1328.7 664.8 C1340.4 665.1 1353.6 656.1 1363.8 656.1 C1374.1 656.1 1382.8 659.0 1390.1 664.8 C1397.5 670.7 1407.7 682.4 1407.7 691.2 C1407.7 699.9 1396.0 710.2 1390.1 717.5 C1384.3 724.8 1378.4 726.2 1372.6 735.0 C1366.8 743.8 1375.2 764.3 1355.1 770.1 C1334.9 775.9 1270.0 778.9 1251.5 770.1 C1233.1 761.3 1245.1 736.2 1244.5 717.5 C1243.9 698.8 1239.8 668.3 1248.0 657.8 Z" fill="#565656"/>
<path d="M1320.0 685.9 C1322.6 679.8 1330.8 673.6 1337.5 671.9 C1344.2 670.1 1353.3 673.0 1360.3 675.4 C1367.3 677.7 1376.1 680.9 1379.6 685.9 C1383.1 690.9 1384.0 699.9 1381.4 705.2 C1378.7 710.5 1370.8 714.8 1363.8 717.5 C1356.8 720.1 1346.3 722.4 1339.3 721.0 C1332.2 719.5 1324.9 714.5 1321.7 708.7 C1318.5 702.9 1317.3 692.0 1320.0 685.9 Z" fill="#303030"/>
<path d="M1256.8 691.2 C1259.1 685.9 1267.6 682.4 1272.6 682.4 C1277.6 682.4 1283.4 685.3 1286.6 691.2 C1289.8 697.0 1292.5 710.2 1291.9 717.5 C1291.3 724.8 1287.2 732.7 1283.1 735.0 C1279.0 737.4 1271.4 735.0 1267.3 731.5 C1263.2 728.0 1260.3 720.7 1258.6 714.0 C1256.8 707.2 1254.5 696.4 1256.8 691.2 Z" fill="#303030"/>
<path d="M1381.4 735.0 C1391.6 727.7 1420.6 729.2 1434.0 726.2 C1447.5 723.3 1459.1 710.2 1462.1 717.5 C1465.0 724.8 1466.5 761.3 1451.5 770.1 C1436.6 778.9 1384.3 775.9 1372.6 770.1 C1360.9 764.3 1371.1 742.3 1381.4 735.0 Z" fill="#5a5a5a"/>
</g>
<rect x="1153.3" y="494.1" width="420.0" height="266.5" filter="url(#nz2)"/>
<g filter="url(#b1)">
<path d="M1223.5 545.5 L1281.4 521.0" fill="none" stroke="#fff" stroke-width="24.6" stroke-linecap="round" stroke-linejoin="round"/>
<path d="M1224.2 545.2 L1280.7 521.3" fill="none" stroke="#707070" stroke-width="19.3" stroke-linecap="round" stroke-linejoin="round"/>
<path d="M1241.0 598.2 C1240.7 592.0 1241.0 583.6 1242.8 577.1 C1244.5 570.7 1247.5 564.0 1251.5 559.6 C1255.6 555.2 1261.5 552.0 1267.3 550.8 C1273.2 549.6 1280.5 550.5 1286.6 552.6 C1292.8 554.6 1299.2 559.0 1304.2 563.1 C1309.1 567.2 1313.4 571.9 1316.5 577.1 C1319.5 582.4 1321.7 588.8 1322.6 594.7 C1323.5 600.5 1322.7 606.7 1321.7 612.2 C1320.7 617.8 1319.1 623.3 1316.5 628.0 C1313.8 632.7 1310.3 636.9 1305.9 640.3 C1301.5 643.6 1295.1 647.0 1290.1 648.2 C1285.2 649.3 1280.8 648.6 1276.1 647.3 C1271.4 646.0 1266.2 643.5 1262.1 640.3 C1258.0 637.1 1254.5 632.4 1251.5 628.0 C1248.6 623.6 1246.3 618.9 1244.5 614.0 C1242.8 609.0 1241.3 604.3 1241.0 598.2 Z" fill="#fff"/>
<ellipse cx="1237.2" cy="585.0" rx="6.1" ry="14.9" fill="#000" transform="rotate(4.0 1237.2 585.0)"/>
<path d="M1399.1 555.2 C1401.5 551.2 1407.3 551.7 1413.2 552.5 C1419.0 553.4 1428.4 557.1 1434.2 560.4 C1440.1 563.8 1444.6 568.0 1448.2 572.7 C1451.9 577.4 1455.3 583.8 1456.1 588.5 C1457.0 593.2 1456.3 597.6 1453.5 600.8 C1450.7 604.0 1445.0 607.5 1439.5 607.8 C1433.9 608.1 1426.0 605.2 1420.2 602.5 C1414.3 599.9 1407.9 596.4 1404.4 592.0 C1400.9 587.6 1400.0 582.4 1399.1 576.2 C1398.2 570.1 1396.8 559.1 1399.1 555.2 Z" fill="#fff"/>
<path d="M1383.1 568.3 C1383.1 564.5 1385.5 560.3 1388.4 557.8 C1391.3 555.3 1398.5 550.2 1400.7 553.4 C1402.9 556.7 1402.4 571.4 1401.5 577.1 C1400.7 582.8 1397.6 587.1 1395.4 587.6 C1393.2 588.2 1390.4 583.8 1388.4 580.6 C1386.3 577.4 1383.1 572.1 1383.1 568.3 Z" fill="#000"/>
<path d="M1360.5 623.6 C1362.1 620.4 1369.0 617.0 1372.8 614.8 C1376.6 612.6 1380.3 610.6 1383.3 610.4 C1386.4 610.3 1390.4 612.2 1391.2 613.9 C1392.1 615.7 1388.3 618.5 1388.6 621.0 C1388.9 623.5 1393.6 626.4 1393.0 628.9 C1392.4 631.3 1388.5 634.0 1385.1 635.9 C1381.7 637.8 1376.5 640.6 1372.8 640.3 C1369.2 640.0 1365.2 636.9 1363.2 634.1 C1361.1 631.3 1358.9 626.8 1360.5 623.6 Z" fill="#000"/>
<path d="M1323.7 527.1 C1324.6 524.6 1328.9 523.0 1330.7 524.5 C1332.5 525.9 1332.5 532.2 1334.2 535.9 C1336.0 539.5 1337.4 543.2 1341.2 546.4 C1345.0 549.6 1353.1 552.3 1357.0 555.2 C1361.0 558.1 1364.3 561.8 1364.9 563.9 C1365.5 566.1 1363.3 568.9 1360.5 568.3 C1357.7 567.7 1352.6 563.2 1348.2 560.4 C1343.9 557.7 1338.0 555.2 1334.2 551.7 C1330.4 548.2 1327.2 543.5 1325.4 539.4 C1323.7 535.3 1322.8 529.6 1323.7 527.1 Z" fill="#000"/>
<path d="M1318.4 492.0 C1319.2 488.8 1323.0 488.8 1323.7 492.0 C1324.4 495.2 1323.5 508.1 1322.8 511.3 C1322.1 514.5 1320.0 514.5 1319.3 511.3 C1318.6 508.1 1317.7 495.2 1318.4 492.0 Z" fill="#ccc"/>
<path d="M1348.2 525.4 L1353.5 535.9" fill="none" stroke="#bbb" stroke-width="3.9" stroke-linecap="round" stroke-linejoin="round"/>
<path d="M1355.3 586.8 L1367.5 588.2" fill="none" stroke="#ccc" stroke-width="3.9" stroke-linecap="round" stroke-linejoin="round"/>
<path d="M1292.1 672.7 L1299.1 720.1" fill="none" stroke="#fff" stroke-width="8.4" stroke-linecap="round" stroke-linejoin="round"/>
<ellipse cx="1366.7" cy="667.5" rx="6.7" ry="7.4" fill="#fff"/>
<ellipse cx="1258.8" cy="681.5" rx="5.3" ry="7.0" fill="#bbb"/>
<ellipse cx="1271.1" cy="660.4" rx="6.1" ry="6.1" fill="#aaa"/>
<path d="M1376.3 648.2 C1378.9 650.5 1386.5 656.9 1392.1 662.2 C1397.7 667.5 1406.7 676.8 1409.6 679.7" fill="none" stroke="#bbb" stroke-width="6.7" stroke-linecap="round" stroke-linejoin="round"/>
<ellipse cx="1307.9" cy="683.2" rx="4.4" ry="5.3" fill="#ccc"/>
<ellipse cx="1309.6" cy="716.6" rx="3.2" ry="5.3" fill="#ddd"/>
<path d="M1351.8 718.3 L1364.0 713.1" fill="none" stroke="#999" stroke-width="7.0" stroke-linecap="round" stroke-linejoin="round"/>
<path d="M1481.4 610.5 C1485.6 607.8 1493.1 615.1 1494.5 622.7 C1496.0 630.3 1492.9 645.5 1490.1 656.1 C1487.4 666.6 1482.5 675.7 1477.9 685.9 C1473.2 696.1 1469.4 710.7 1462.1 717.5 C1454.8 724.2 1447.5 723.3 1434.0 726.2 C1420.6 729.2 1390.1 737.4 1381.4 735.0 C1372.6 732.7 1377.0 718.3 1381.4 712.2 C1385.8 706.1 1397.5 705.2 1407.7 698.2 C1417.9 691.2 1432.5 680.0 1442.8 670.1 C1453.0 660.2 1462.7 648.5 1469.1 638.5 C1475.5 628.6 1477.1 613.1 1481.4 610.5 Z" fill="#5a5a5a"/>
<path d="M1481.4 610.5 C1479.3 615.1 1475.5 628.6 1469.1 638.5 C1462.7 648.5 1453.0 660.2 1442.8 670.1 C1432.5 680.0 1417.9 691.2 1407.7 698.2 C1397.5 705.2 1385.8 709.9 1381.4 712.2" fill="none" stroke="#f4f4f4" stroke-width="2.6" stroke-linecap="round" stroke-linejoin="round"/>
<path d="M1483.1 612.2 C1485.0 614.0 1493.4 615.4 1494.5 622.7 C1495.7 630.0 1492.9 645.5 1490.1 656.1 C1487.4 666.6 1482.5 675.7 1477.9 685.9 C1473.2 696.1 1464.7 712.2 1462.1 717.5" fill="none" stroke="#f4f4f4" stroke-width="3.2" stroke-linecap="round" stroke-linejoin="round"/>
<path d="M1469.1 640.3 L1486.6 664.8" fill="none" stroke="#f4f4f4" stroke-width="1.6" stroke-linecap="round" stroke-linejoin="round" stroke-opacity="0.85"/>
<path d="M1451.5 663.1 L1477.9 687.6" fill="none" stroke="#f4f4f4" stroke-width="1.6" stroke-linecap="round" stroke-linejoin="round" stroke-opacity="0.85"/>
<path d="M1434.0 678.9 L1462.1 715.7" fill="none" stroke="#f4f4f4" stroke-width="1.6" stroke-linecap="round" stroke-linejoin="round" stroke-opacity="0.85"/>
<path d="M1462.1 647.3 L1479.6 642.0" fill="none" stroke="#f4f4f4" stroke-width="1.6" stroke-linecap="round" stroke-linejoin="round" stroke-opacity="0.85"/>
<path d="M1369.1 733.3 C1377.0 734.4 1402.7 740.6 1416.5 740.3 C1430.2 740.0 1445.7 733.0 1451.5 731.5" fill="none" stroke="#f4f4f4" stroke-width="2.1" stroke-linecap="round" stroke-linejoin="round" stroke-opacity="0.90"/>
<path d="M1363.8 749.0 C1371.1 750.2 1396.0 755.5 1407.7 756.1 C1419.4 756.7 1429.6 753.1 1434.0 752.6" fill="none" stroke="#f4f4f4" stroke-width="1.8" stroke-linecap="round" stroke-linejoin="round" stroke-opacity="0.80"/>
<path d="M1445.4 746.4 L1458.6 730.6" fill="none" stroke="#fff" stroke-width="6.3" stroke-linecap="round" stroke-linejoin="round"/>
</g>
</g>
<linearGradient id="sgm3" gradientUnits="userSpaceOnUse" x1="2040" y1="0" x2="2350" y2="0"><stop offset="0" stop-color="#666"/><stop offset="0.14" stop-color="#fff"/><stop offset="1" stop-color="#fff"/></linearGradient>
<mask id="sgmask3" maskUnits="userSpaceOnUse" x="2000" y="490" width="420" height="280"><rect x="2000" y="490" width="420" height="280" fill="url(#sgm3)"/></mask>
<clipPath id="sg2r"><rect x="2006.6" y="494.1" width="338.4" height="266.5"/></clipPath>
<clipPath id="sg2" clip-path="url(#sg2r)"><path d="M2039.9 769.2 C2040.2 764.8 2041.0 751.7 2041.7 742.9 C2042.4 734.1 2043.7 726.8 2044.3 716.6 C2044.9 706.3 2044.9 693.2 2045.2 681.5 C2045.5 669.8 2045.9 656.6 2046.1 646.4 C2046.2 636.2 2046.1 628.9 2046.1 620.1 C2046.1 611.3 2046.1 602.5 2046.1 593.8 C2046.1 585.0 2045.8 576.2 2046.1 567.4 C2046.4 558.7 2046.5 549.9 2047.8 541.1 C2049.1 532.4 2051.2 523.6 2054.0 514.8 C2056.7 506.0 2062.7 492.9 2064.5 488.5 L2392.6 488.5 L2392.6 769.2 L2039.9 769.2 Z"/></clipPath>
<g clip-path="url(#sg2)" mask="url(#sgmask3)">
<rect x="1996.6" y="492.1" width="420" height="270.5" fill="#262626"/>
<g filter="url(#b4)">
<path d="M2225.9 493.8 C2249.3 488.8 2350.2 447.9 2375.0 493.8 C2399.9 539.7 2382.3 723.3 2375.0 769.2 C2367.7 815.1 2337.6 778.0 2331.2 769.2 C2324.7 760.4 2333.5 734.1 2336.4 716.6 C2339.3 699.0 2348.1 681.5 2348.7 663.9 C2349.3 646.4 2344.3 625.3 2339.9 611.3 C2335.5 597.3 2329.7 588.5 2322.4 579.7 C2315.1 571.0 2304.8 563.9 2296.1 558.7 C2287.3 553.4 2278.5 551.1 2269.8 548.1 C2261.0 545.2 2249.3 545.2 2243.4 541.1 C2237.6 537.0 2237.6 531.5 2234.7 523.6 C2231.7 515.7 2202.5 498.7 2225.9 493.8 Z" fill="#0b0b0b"/>
<path d="M2261.0 514.8 C2262.2 511.3 2278.5 515.7 2287.3 520.1 C2296.1 524.5 2307.2 533.2 2313.6 541.1 C2320.1 549.0 2327.4 565.1 2325.9 567.4 C2324.4 569.8 2312.4 559.6 2304.8 555.2 C2297.2 550.8 2287.6 547.9 2280.3 541.1 C2273.0 534.4 2259.8 518.3 2261.0 514.8 Z" fill="#050505"/>
<path d="M2350.5 611.3 C2353.7 602.5 2370.9 585.0 2375.0 611.3 C2379.1 637.6 2380.9 742.9 2375.0 769.2 C2369.2 795.5 2344.9 778.0 2339.9 769.2 C2335.0 760.4 2342.6 734.1 2345.2 716.6 C2347.8 699.0 2354.8 681.5 2355.7 663.9 C2356.6 646.4 2347.2 620.1 2350.5 611.3 Z" fill="#030303"/>
<path d="M2225.9 611.3 C2231.7 604.9 2252.2 607.2 2269.8 607.8 C2287.3 608.4 2323.0 608.4 2331.2 614.8 C2339.3 621.2 2325.6 636.5 2318.9 646.4 C2312.2 656.3 2301.9 664.8 2290.8 674.5 C2279.7 684.1 2262.7 697.3 2252.2 704.3 C2241.7 711.3 2233.5 720.4 2227.7 716.6 C2221.8 712.8 2216.0 693.2 2217.1 681.5 C2218.3 669.8 2233.2 658.1 2234.7 646.4 C2236.1 634.7 2220.1 617.7 2225.9 611.3 Z" fill="#464646"/>
<path d="M2061.0 555.2 C2062.4 553.7 2065.4 549.3 2068.0 558.7 C2070.6 568.0 2073.9 593.8 2076.8 611.3 C2079.7 628.9 2082.6 647.9 2085.5 663.9 C2088.5 680.0 2091.1 690.3 2094.3 707.8 C2097.5 725.3 2104.8 759.0 2104.8 769.2 C2104.8 779.4 2097.8 779.4 2094.3 769.2 C2090.8 759.0 2087.0 725.3 2083.8 707.8 C2080.6 690.3 2077.9 680.0 2075.0 663.9 C2072.1 647.9 2068.9 627.4 2066.2 611.3 C2063.6 595.2 2060.1 576.8 2059.2 567.4 C2058.4 558.1 2059.5 556.6 2061.0 555.2 Z" fill="#585858"/>
<path d="M2104.8 493.8 C2108.6 492.0 2142.3 482.9 2152.2 493.8 C2162.2 504.6 2165.4 549.0 2164.5 558.7 C2163.6 568.3 2149.9 559.3 2147.0 551.7 C2144.0 544.1 2149.9 521.0 2147.0 513.1 C2144.0 505.2 2136.4 507.5 2129.4 504.3 C2122.4 501.1 2101.0 495.5 2104.8 493.8 Z" fill="#464646"/>
<path d="M2150.5 493.8 C2162.2 488.8 2211.9 485.9 2225.9 493.8 C2239.9 501.7 2234.4 527.4 2234.7 541.1 C2235.0 554.9 2228.2 564.5 2227.7 576.2 C2227.1 587.9 2232.9 599.6 2231.2 611.3 C2229.4 623.0 2222.4 636.2 2217.1 646.4 C2211.9 656.6 2206.9 666.9 2199.6 672.7 C2192.3 678.6 2179.1 684.4 2173.3 681.5 C2167.4 678.6 2164.5 663.9 2164.5 655.2 C2164.5 646.4 2171.5 639.1 2173.3 628.9 C2175.0 618.6 2176.5 605.5 2175.0 593.8 C2173.6 582.1 2167.7 570.4 2164.5 558.7 C2161.3 547.0 2158.1 534.4 2155.7 523.6 C2153.4 512.8 2138.8 498.7 2150.5 493.8 Z" fill="#626262"/>
<path d="M2080.3 562.2 C2082.9 554.3 2093.7 544.1 2097.8 555.2 C2101.9 566.3 2101.3 613.1 2104.8 628.9 C2108.4 644.6 2111.9 645.2 2118.9 649.9 C2125.9 654.6 2139.3 654.6 2147.0 656.9 C2154.6 659.3 2167.4 662.8 2164.5 663.9 C2161.6 665.1 2139.3 663.9 2129.4 663.9 C2119.5 663.9 2111.6 666.9 2104.8 663.9 C2098.1 661.0 2092.9 656.6 2089.1 646.4 C2085.3 636.2 2083.5 616.6 2082.0 602.5 C2080.6 588.5 2077.7 570.1 2080.3 562.2 Z" fill="#464646"/>
<path d="M2101.3 656.9 C2109.5 646.4 2133.5 652.2 2147.0 653.4 C2160.4 654.6 2170.3 663.6 2182.0 663.9 C2193.7 664.2 2206.9 655.2 2217.1 655.2 C2227.4 655.2 2236.1 658.1 2243.4 663.9 C2250.8 669.8 2261.0 681.5 2261.0 690.3 C2261.0 699.0 2249.3 709.3 2243.4 716.6 C2237.6 723.9 2231.7 725.3 2225.9 734.1 C2220.1 742.9 2228.5 763.4 2208.4 769.2 C2188.2 775.0 2123.3 778.0 2104.8 769.2 C2086.4 760.4 2098.4 735.3 2097.8 716.6 C2097.2 697.9 2093.1 667.4 2101.3 656.9 Z" fill="#343434"/>
<path d="M2173.3 685.0 C2175.9 678.9 2184.1 672.7 2190.8 671.0 C2197.5 669.2 2206.6 672.1 2213.6 674.5 C2220.6 676.8 2229.4 680.0 2232.9 685.0 C2236.4 690.0 2237.3 699.0 2234.7 704.3 C2232.0 709.6 2224.1 713.9 2217.1 716.6 C2210.1 719.2 2199.6 721.5 2192.6 720.1 C2185.5 718.6 2178.2 713.6 2175.0 707.8 C2171.8 702.0 2170.6 691.1 2173.3 685.0 Z" fill="#141414"/>
<path d="M2110.1 690.3 C2112.4 685.0 2120.9 681.5 2125.9 681.5 C2130.9 681.5 2136.7 684.4 2139.9 690.3 C2143.1 696.1 2145.8 709.3 2145.2 716.6 C2144.6 723.9 2140.5 731.8 2136.4 734.1 C2132.3 736.5 2124.7 734.1 2120.6 730.6 C2116.5 727.1 2113.6 719.8 2111.9 713.1 C2110.1 706.3 2107.8 695.5 2110.1 690.3 Z" fill="#141414"/>
<path d="M2234.7 734.1 C2244.9 726.8 2273.9 728.3 2287.3 725.3 C2300.8 722.4 2312.4 709.3 2315.4 716.6 C2318.3 723.9 2319.8 760.4 2304.8 769.2 C2289.9 778.0 2237.6 775.0 2225.9 769.2 C2214.2 763.4 2224.4 741.4 2234.7 734.1 Z" fill="#464646"/>
</g>

<g filter="url(#b1)">
<path d="M2076.8 544.6 L2134.7 520.1" fill="none" stroke="#fff" stroke-width="24.6" stroke-linecap="round" stroke-linejoin="round"/>
<path d="M2077.5 544.3 L2134.0 520.4" fill="none" stroke="#565656" stroke-width="18.9" stroke-linecap="round" stroke-linejoin="round"/>
<path d="M2094.3 597.3 C2094.0 591.1 2094.3 582.7 2096.1 576.2 C2097.8 569.8 2100.8 563.1 2104.8 558.7 C2108.9 554.3 2114.8 551.1 2120.6 549.9 C2126.5 548.7 2133.8 549.6 2139.9 551.7 C2146.1 553.7 2152.5 558.1 2157.5 562.2 C2162.4 566.3 2166.7 571.0 2169.8 576.2 C2172.8 581.5 2175.0 587.9 2175.9 593.8 C2176.8 599.6 2176.0 605.8 2175.0 611.3 C2174.0 616.9 2172.4 622.4 2169.8 627.1 C2167.1 631.8 2163.6 636.0 2159.2 639.4 C2154.8 642.7 2148.4 646.1 2143.4 647.3 C2138.5 648.4 2134.1 647.7 2129.4 646.4 C2124.7 645.1 2119.5 642.6 2115.4 639.4 C2111.3 636.2 2107.8 631.5 2104.8 627.1 C2101.9 622.7 2099.6 618.0 2097.8 613.1 C2096.1 608.1 2094.6 603.4 2094.3 597.3 Z" fill="#c4c4c4"/>
<path d="M2139.1 495.5 L2139.1 646.4" fill="none" stroke="#e8e8e8" stroke-width="1.2" stroke-linecap="round" stroke-linejoin="round"/>
<ellipse cx="2090.5" cy="584.1" rx="6.1" ry="14.9" fill="#000" transform="rotate(4.0 2090.5 584.1)"/>
<ellipse cx="2304.8" cy="579.7" rx="57.9" ry="35.1" fill="#666" fill-opacity="0.80" filter="url(#b16)"/>
<path d="M2252.6 556.9 C2255.0 553.3 2260.8 553.4 2266.7 554.3 C2272.5 555.2 2281.9 558.8 2287.7 562.2 C2293.6 565.6 2298.1 569.8 2301.8 574.5 C2305.4 579.2 2308.8 585.6 2309.6 590.3 C2310.5 594.9 2309.8 599.6 2307.0 602.5 C2304.2 605.5 2298.5 607.8 2293.0 607.8 C2287.4 607.8 2279.5 605.2 2273.7 602.5 C2267.8 599.9 2261.4 596.4 2257.9 592.0 C2254.4 587.6 2253.5 582.1 2252.6 576.2 C2251.8 570.4 2250.3 560.6 2252.6 556.9 Z" fill="#fff"/>
<path d="M2236.4 567.4 C2236.4 563.6 2238.8 559.4 2241.7 556.9 C2244.6 554.4 2251.8 549.3 2254.0 552.5 C2256.2 555.8 2255.7 570.5 2254.8 576.2 C2254.0 581.9 2250.9 586.2 2248.7 586.7 C2246.5 587.3 2243.7 582.9 2241.7 579.7 C2239.6 576.5 2236.4 571.2 2236.4 567.4 Z" fill="#000"/>
<path d="M2201.8 625.4 C2203.2 621.5 2212.0 616.0 2219.3 613.1 C2226.6 610.1 2235.4 607.5 2245.6 607.8 C2255.8 608.1 2270.5 610.4 2280.7 614.8 C2290.9 619.2 2304.1 626.5 2307.0 634.1 C2309.9 641.7 2304.1 654.6 2298.2 660.4 C2292.4 666.3 2280.1 670.7 2271.9 669.2 C2263.7 667.7 2256.4 656.6 2249.1 651.7 C2241.8 646.7 2234.5 642.0 2228.1 639.4 C2221.6 636.8 2214.9 638.2 2210.5 635.9 C2206.1 633.5 2200.3 629.2 2201.8 625.4 Z" fill="#000"/>
<path d="M2173.7 520.1 C2174.9 516.3 2181.0 511.6 2184.2 513.1 C2187.4 514.5 2190.1 523.9 2193.0 528.9 C2195.9 533.8 2198.0 538.5 2201.8 542.9 C2205.6 547.3 2212.6 551.7 2215.8 555.2 C2219.0 558.7 2221.3 561.6 2221.1 563.9 C2220.8 566.3 2217.3 569.5 2214.0 569.2 C2210.8 568.9 2206.4 565.4 2201.8 562.2 C2197.1 559.0 2190.1 554.3 2186.0 549.9 C2181.9 545.5 2179.2 540.8 2177.2 535.9 C2175.1 530.9 2172.5 523.9 2173.7 520.1 Z" fill="#000"/>
<path d="M2207.0 587.6 L2242.1 588.5" fill="none" stroke="#999" stroke-width="3.9" stroke-linecap="round" stroke-linejoin="round"/>
<path d="M2143.9 674.5 L2150.9 718.3" fill="none" stroke="#eee" stroke-width="7.4" stroke-linecap="round" stroke-linejoin="round"/>
<ellipse cx="2220.2" cy="667.5" rx="6.0" ry="6.7" fill="#bbb"/>
<ellipse cx="2110.5" cy="679.7" rx="5.3" ry="7.0" fill="#888"/>
<ellipse cx="2122.8" cy="660.4" rx="5.3" ry="5.3" fill="#777"/>
<path d="M2229.8 651.7 C2232.5 654.0 2240.6 660.7 2245.6 665.7 C2250.6 670.7 2257.3 678.9 2259.6 681.5" fill="none" stroke="#777" stroke-width="6.0" stroke-linecap="round" stroke-linejoin="round"/>
<ellipse cx="2161.4" cy="683.2" rx="4.4" ry="5.3" fill="#888"/>
<path d="M2334.7 609.6 C2338.9 606.9 2346.4 614.2 2347.8 621.8 C2349.3 629.4 2346.2 644.6 2343.4 655.2 C2340.7 665.7 2335.8 674.8 2331.2 685.0 C2326.5 695.2 2322.7 709.8 2315.4 716.6 C2308.1 723.3 2300.8 722.4 2287.3 725.3 C2273.9 728.3 2243.4 736.5 2234.7 734.1 C2225.9 731.8 2230.3 717.4 2234.7 711.3 C2239.1 705.2 2250.8 704.3 2261.0 697.3 C2271.2 690.3 2285.8 679.1 2296.1 669.2 C2306.3 659.3 2316.0 647.6 2322.4 637.6 C2328.8 627.7 2330.4 612.2 2334.7 609.6 Z" fill="#1c1c1c"/>
<path d="M2334.7 609.6 C2332.6 614.2 2328.8 627.7 2322.4 637.6 C2316.0 647.6 2306.3 659.3 2296.1 669.2 C2285.8 679.1 2271.2 690.3 2261.0 697.3 C2250.8 704.3 2239.1 709.0 2234.7 711.3" fill="none" stroke="#aaa" stroke-width="1.6" stroke-linecap="round" stroke-linejoin="round"/>
<path d="M2336.4 611.3 C2338.3 613.1 2346.7 614.5 2347.8 621.8 C2349.0 629.1 2346.2 644.6 2343.4 655.2 C2340.7 665.7 2335.8 674.8 2331.2 685.0 C2326.5 695.2 2318.0 711.3 2315.4 716.6" fill="none" stroke="#aaa" stroke-width="1.9" stroke-linecap="round" stroke-linejoin="round"/>
<path d="M2322.4 639.4 L2339.9 663.9" fill="none" stroke="#aaa" stroke-width="0.9" stroke-linecap="round" stroke-linejoin="round" stroke-opacity="0.85"/>
<path d="M2304.8 662.2 L2331.2 686.7" fill="none" stroke="#aaa" stroke-width="0.9" stroke-linecap="round" stroke-linejoin="round" stroke-opacity="0.85"/>
<path d="M2287.3 678.0 L2315.4 714.8" fill="none" stroke="#aaa" stroke-width="0.9" stroke-linecap="round" stroke-linejoin="round" stroke-opacity="0.85"/>
<path d="M2315.4 646.4 L2332.9 641.1" fill="none" stroke="#aaa" stroke-width="0.9" stroke-linecap="round" stroke-linejoin="round" stroke-opacity="0.85"/>
<path d="M2222.4 732.4 C2230.3 733.5 2256.0 739.7 2269.8 739.4 C2283.5 739.1 2299.0 732.1 2304.8 730.6" fill="none" stroke="#aaa" stroke-width="1.3" stroke-linecap="round" stroke-linejoin="round" stroke-opacity="0.90"/>
<path d="M2217.1 748.1 C2224.4 749.3 2249.3 754.6 2261.0 755.2 C2272.7 755.8 2282.9 752.2 2287.3 751.7" fill="none" stroke="#aaa" stroke-width="1.1" stroke-linecap="round" stroke-linejoin="round" stroke-opacity="0.80"/>
<path d="M2298.7 745.5 L2311.9 729.7" fill="none" stroke="#fff" stroke-width="4.6" stroke-linecap="round" stroke-linejoin="round"/>
</g>
</g>
<clipPath id="co0r"><rect x="116.0" y="760.4" width="657.3" height="262.2"/></clipPath>
<clipPath id="co0" clip-path="url(#co0r)"><path d="M121.0 755.0 C122.5 759.2 126.5 770.5 130.3 780.4 C134.1 790.2 139.0 802.9 143.8 814.2 C148.6 825.5 155.1 836.8 159.1 848.0 C163.0 859.3 166.0 870.6 167.5 881.9 C169.1 893.1 167.8 904.4 168.4 915.7 C168.9 927.0 169.8 938.3 170.9 949.5 C172.0 960.8 173.7 970.1 175.1 983.4 C176.5 996.6 178.6 1021.4 179.4 1029.0 L714.2 1029.0 L714.2 1029.0 C714.7 1022.8 716.4 1003.7 717.6 991.8 C718.7 980.0 720.2 969.3 720.9 958.0 C721.7 946.7 721.2 934.0 721.8 924.2 C722.4 914.3 723.1 907.2 724.3 898.8 C725.6 890.3 726.9 881.9 729.4 873.4 C731.9 865.0 735.9 856.5 739.6 848.0 C743.2 839.6 747.7 832.5 751.4 822.7 C755.1 812.8 758.7 800.1 761.5 788.8 C764.4 777.6 767.2 760.6 768.3 755.0 Z"/></clipPath>
<g clip-path="url(#co0)">
<rect x="116.0" y="758.4" width="657.3" height="266.2" fill="#3e3e3e"/>
<g filter="url(#b2)">
<path d="M164.1 755.0 C130.9 762.0 170.0 784.6 174.3 797.3 C178.5 810.0 185.0 821.3 189.5 831.1 C194.0 841.0 199.4 846.6 201.3 856.5 C203.3 866.4 200.8 879.0 201.3 890.3 C201.9 901.6 203.3 912.9 204.7 924.2 C206.1 935.4 208.4 946.7 209.8 958.0 C211.2 969.3 211.8 980.0 213.2 991.8 C214.6 1003.7 187.5 1022.8 218.3 1029.0 C249.0 1035.2 370.5 1038.1 397.6 1029.0 C424.6 1020.0 387.7 992.4 380.6 974.9 C373.6 957.4 360.9 943.9 355.3 924.2 C349.6 904.4 345.4 879.0 346.8 856.5 C348.2 833.9 359.2 805.7 363.7 788.8 C368.2 771.9 407.1 760.6 373.9 755.0 C340.6 749.4 197.4 748.0 164.1 755.0 Z" fill="#848484"/>
<path d="M717.6 755.0 C750.0 760.6 712.5 777.6 709.1 788.8 C705.7 800.1 700.4 811.4 697.3 822.7 C694.2 833.9 691.9 845.2 690.5 856.5 C689.1 867.8 689.9 879.0 688.8 890.3 C687.7 901.6 686.0 912.9 683.7 924.2 C681.5 935.4 678.1 946.7 675.3 958.0 C672.5 969.3 669.1 980.0 666.8 991.8 C664.6 1003.7 692.8 1022.8 661.7 1029.0 C630.7 1035.2 506.7 1038.1 480.7 1029.0 C454.8 1020.0 497.7 992.4 506.1 974.9 C514.6 957.4 525.9 943.9 531.5 924.2 C537.1 904.4 541.1 879.0 540.0 856.5 C538.8 833.9 529.0 805.7 524.7 788.8 C520.5 771.9 482.4 760.6 514.6 755.0 C546.7 749.4 685.1 749.4 717.6 755.0 Z" fill="#848484"/>
<path d="M364.3 755.0 C395.9 743.7 508.6 743.7 540.2 755.0 C571.8 766.3 550.9 800.1 553.7 822.7 C556.6 845.2 557.7 870.6 557.1 890.3 C556.6 910.1 556.6 924.2 550.3 941.1 C544.1 958.0 530.6 977.2 519.9 991.8 C509.2 1006.5 503.0 1022.8 486.1 1029.0 C469.2 1035.2 436.7 1035.2 418.4 1029.0 C400.1 1022.8 388.0 1006.5 376.1 991.8 C364.3 977.2 353.3 958.0 347.4 941.1 C341.4 924.2 340.0 910.1 340.6 890.3 C341.2 870.6 346.8 845.2 350.7 822.7 C354.7 800.1 332.7 766.3 364.3 755.0 Z" fill="#747474"/>
<path d="M226.7 853.1 C229.5 855.1 238.0 860.7 243.6 865.0 C249.3 869.2 256.0 872.8 260.5 878.5 C265.1 884.1 268.0 892.9 270.7 898.8 C273.4 904.7 275.6 911.5 276.6 914.0" fill="none" stroke="#363636" stroke-width="21.1" stroke-linecap="round" stroke-linejoin="round"/>
<path d="M272.4 924.2 C270.7 927.8 265.6 939.7 262.2 946.1 C258.9 952.6 253.8 960.2 252.1 963.1" fill="none" stroke="#363636" stroke-width="5.8" stroke-linecap="round" stroke-linejoin="round"/>
<path d="M177.7 765.1 C179.6 770.8 185.6 788.8 189.5 799.0 C193.4 809.1 199.4 821.5 201.3 826.0" fill="none" stroke="#363636" stroke-width="6.8" stroke-linecap="round" stroke-linejoin="round"/>
<path d="M668.5 854.8 C665.7 856.5 657.2 860.7 651.6 865.0 C646.0 869.2 639.8 874.3 634.7 880.2 C629.6 886.1 624.4 894.6 621.1 900.5 C617.9 906.4 616.2 913.2 615.2 915.7" fill="none" stroke="#363636" stroke-width="21.1" stroke-linecap="round" stroke-linejoin="round"/>
<path d="M619.5 924.2 C620.6 928.4 623.7 941.1 626.2 949.5 C628.8 958.0 633.3 970.7 634.7 974.9" fill="none" stroke="#363636" stroke-width="5.8" stroke-linecap="round" stroke-linejoin="round"/>
<path d="M714.2 765.1 C712.5 770.8 707.4 788.8 704.0 799.0 C700.6 809.1 695.6 821.5 693.9 826.0" fill="none" stroke="#363636" stroke-width="6.8" stroke-linecap="round" stroke-linejoin="round"/>
<path d="M262.2 980.0 C269.0 971.0 285.1 974.9 296.1 974.9 C307.1 974.9 321.7 971.0 328.2 980.0 C334.7 989.0 347.1 1020.9 335.0 1029.0 C322.9 1037.2 267.6 1037.2 255.5 1029.0 C243.3 1020.9 255.5 989.0 262.2 980.0 Z" fill="#363636"/>
<path d="M561.9 980.0 C565.9 971.0 574.3 972.9 582.2 974.9 C590.1 976.9 603.7 982.8 609.3 991.8 C614.9 1000.8 624.5 1022.8 616.1 1029.0 C607.6 1035.2 567.6 1037.2 558.6 1029.0 C549.5 1020.9 558.0 989.0 561.9 980.0 Z" fill="#363636"/>
<path d="M300.0 978.3 C303.4 969.3 314.7 972.6 320.3 974.9 C325.9 977.2 330.7 982.8 333.8 991.8 C336.9 1000.8 344.5 1022.8 338.9 1029.0 C333.3 1035.2 306.5 1037.5 300.0 1029.0 C293.5 1020.6 296.6 987.3 300.0 978.3 Z" fill="#363636"/>
<path d="M360.3 771.9 C360.1 780.4 360.3 805.7 358.7 822.7 C357.0 839.6 352.2 859.3 350.2 873.4 C348.2 887.5 346.8 896.0 346.8 907.2 C346.8 918.5 347.4 928.4 350.2 941.1 C353.0 953.8 359.8 968.7 363.7 983.4 C367.7 998.0 372.2 1021.4 373.9 1029.0" fill="none" stroke="#363636" stroke-width="7.6" stroke-linecap="round" stroke-linejoin="round"/>
<path d="M518.0 771.9 C519.1 780.4 521.3 805.7 524.7 822.7 C528.1 839.6 534.9 859.3 538.3 873.4 C541.6 887.5 544.5 896.0 545.0 907.2 C545.6 918.5 545.0 928.4 541.6 941.1 C538.3 953.8 529.8 968.7 524.7 983.4 C519.7 998.0 513.4 1021.4 511.2 1029.0" fill="none" stroke="#363636" stroke-width="7.6" stroke-linecap="round" stroke-linejoin="round"/>
<path d="M342.3 941.1 C344.5 946.7 349.3 964.2 355.8 974.9 C362.3 985.6 373.0 996.3 381.2 1005.3 C389.4 1014.4 400.9 1025.1 404.9 1029.0" fill="none" stroke="#848484" stroke-width="11.8" stroke-linecap="round" stroke-linejoin="round"/>
<path d="M550.3 941.1 C548.1 946.7 543.3 964.2 536.8 974.9 C530.3 985.6 520.5 996.3 511.4 1005.3 C502.4 1014.4 487.5 1025.1 482.7 1029.0" fill="none" stroke="#848484" stroke-width="11.8" stroke-linecap="round" stroke-linejoin="round"/>
<path d="M355.8 893.7 C359.2 884.7 374.1 887.5 384.6 886.9 C395.0 886.4 409.4 886.9 418.4 890.3 C427.4 893.7 433.1 901.6 438.7 907.2 C444.3 912.9 450.0 914.3 452.2 924.2 C454.5 934.0 457.9 958.0 452.2 966.4 C446.6 974.9 429.1 974.9 418.4 974.9 C407.7 974.9 397.0 972.1 388.0 966.4 C378.9 960.8 369.6 953.2 364.3 941.1 C358.9 928.9 352.4 902.7 355.8 893.7 Z" fill="#3a3a3a"/>
<path d="M460.7 903.9 C464.1 895.7 479.0 898.5 486.1 900.5 C493.1 902.4 500.2 907.5 503.0 915.7 C505.8 923.9 505.8 941.1 503.0 949.5 C500.2 958.0 492.3 966.4 486.1 966.4 C479.9 966.4 470.0 960.0 465.8 949.5 C461.5 939.1 457.3 912.0 460.7 903.9 Z" fill="#3a3a3a"/>
<path d="M364.3 815.9 C371.6 808.3 392.5 806.9 401.5 810.8 C410.5 814.8 417.0 829.1 418.4 839.6 C419.8 850.0 417.0 866.1 410.0 873.4 C402.9 880.7 384.9 886.4 376.1 883.6 C367.4 880.7 359.5 867.8 357.5 856.5 C355.5 845.2 356.9 823.5 364.3 815.9 Z" fill="#8a8a8a"/>
<path d="M486.1 819.3 C492.3 815.9 511.4 819.8 519.9 826.0 C528.4 832.2 536.8 846.9 536.8 856.5 C536.8 866.1 526.9 880.7 519.9 883.6 C512.9 886.4 500.7 879.6 494.5 873.4 C488.3 867.2 484.1 855.4 482.7 846.3 C481.3 837.3 479.9 822.7 486.1 819.3 Z" fill="#8a8a8a"/>
<path d="M388.0 765.1 C389.7 757.8 400.4 757.8 404.9 761.8 C409.4 765.7 414.5 780.7 415.0 788.8 C415.6 797.0 411.6 808.0 408.3 810.8 C404.9 813.6 398.1 813.4 394.7 805.7 C391.3 798.1 386.3 772.5 388.0 765.1 Z" fill="#3c3c3c"/>
<path d="M496.2 765.1 C498.5 757.8 509.2 756.4 513.1 761.8 C517.1 767.1 520.2 787.1 519.9 797.3 C519.6 807.4 514.8 821.3 511.4 822.7 C508.1 824.1 502.1 815.3 499.6 805.7 C497.1 796.2 494.0 772.5 496.2 765.1 Z" fill="#3c3c3c"/>
<path d="M355.8 966.4 C362.0 965.0 377.0 976.3 384.6 983.4 C392.2 990.4 399.8 1001.1 401.5 1008.7 C403.2 1016.3 400.9 1025.6 394.7 1029.0 C388.5 1032.4 372.2 1035.2 364.3 1029.0 C356.4 1022.8 348.8 1002.2 347.4 991.8 C346.0 981.4 349.6 967.9 355.8 966.4 Z" fill="#4c4c4c"/>
<path d="M540.2 966.4 C533.7 965.0 519.1 976.3 511.4 983.4 C503.8 990.4 495.9 1001.1 494.5 1008.7 C493.1 1016.3 495.9 1025.6 503.0 1029.0 C510.0 1032.4 528.9 1035.2 536.8 1029.0 C544.7 1022.8 549.8 1002.2 550.3 991.8 C550.9 981.4 546.7 967.9 540.2 966.4 Z" fill="#4c4c4c"/>
</g>
<rect x="116.0" y="760.4" width="657.3" height="262.2" filter="url(#nz1)"/>
<g filter="url(#b1)">
<path d="M213.2 755.0 C223.9 749.9 263.9 751.6 272.4 755.0 C280.8 758.4 266.0 769.1 263.9 775.3 C261.8 781.5 260.8 787.1 259.7 792.2 C258.6 797.3 258.4 802.1 257.2 805.7 C255.9 809.4 253.5 811.7 252.1 814.2 C250.7 816.7 248.4 818.7 248.7 821.0 C249.0 823.2 252.7 825.2 253.8 827.7 C254.9 830.3 255.8 833.4 255.5 836.2 C255.2 839.0 254.1 842.4 252.1 844.7 C250.1 846.9 246.5 849.0 243.6 849.7 C240.8 850.4 238.0 850.3 235.2 848.9 C232.4 847.5 229.5 844.5 226.7 841.3 C223.9 838.0 221.1 833.4 218.3 829.4 C215.4 825.5 212.5 821.5 209.8 817.6 C207.1 813.6 203.3 809.1 202.2 805.7 C201.1 802.4 202.0 800.7 203.0 797.3 C204.0 793.9 206.4 792.5 208.1 785.4 C209.8 778.4 202.5 760.1 213.2 755.0 Z" fill="#fff"/>
<path d="M219.1 755.0 C227.1 750.2 260.0 751.6 266.7 755.0 C273.4 758.4 261.2 769.1 259.2 775.3 C257.2 781.5 256.1 787.1 255.0 792.2 C253.8 797.3 253.7 802.2 252.4 805.7 C251.2 809.3 249.0 810.8 247.4 813.4 C245.7 815.9 242.0 818.3 242.3 821.0 C242.6 823.6 247.9 826.9 249.0 829.4 C250.2 832.0 249.3 834.2 249.0 836.2 C248.8 838.2 248.5 839.9 247.6 841.3 C246.7 842.6 245.6 844.0 243.6 844.3 C241.7 844.7 238.2 844.6 236.0 843.5 C233.9 842.4 232.7 840.8 230.8 837.9 C228.9 835.0 227.1 830.0 224.7 826.0 C222.3 822.1 218.4 817.9 216.2 814.2 C214.1 810.5 212.3 807.2 211.8 804.1 C211.4 801.0 212.4 799.0 213.5 795.6 C214.7 792.2 217.7 790.5 218.6 783.8 C219.5 777.0 211.1 759.8 219.1 755.0 Z" fill="#a8a8a8"/>
<path d="M624.5 755.0 C633.5 752.2 673.0 750.8 683.7 755.0 C694.4 759.2 687.1 773.3 688.8 780.4 C690.5 787.4 693.0 792.2 693.9 797.3 C694.7 802.4 695.0 806.0 693.9 810.8 C692.8 815.6 690.2 821.0 687.1 826.0 C684.0 831.1 679.2 837.3 675.3 841.3 C671.3 845.2 667.1 848.3 663.4 849.7 C659.8 851.1 655.8 850.9 653.3 849.7 C650.7 848.6 649.3 845.8 648.2 843.0 C647.1 840.1 646.2 836.2 646.5 832.8 C646.8 829.4 650.5 825.8 649.9 822.7 C649.3 819.6 644.8 817.6 643.1 814.2 C641.4 810.8 641.2 807.2 639.8 802.4 C638.3 797.6 636.4 790.5 634.7 785.4 C633.0 780.4 631.3 777.0 629.6 771.9 C627.9 766.8 615.5 757.8 624.5 755.0 Z" fill="#fff"/>
<path d="M631.6 755.0 C638.6 752.2 669.1 750.8 677.6 755.0 C686.1 759.2 681.1 773.3 682.6 780.4 C684.2 787.4 686.1 792.4 686.8 797.3 C687.5 802.2 687.7 805.5 686.8 810.0 C685.8 814.5 683.7 819.6 681.0 824.4 C678.3 829.1 673.5 835.4 670.5 838.7 C667.6 842.1 666.0 843.4 663.4 844.3 C660.8 845.3 656.8 844.9 655.0 844.3 C653.2 843.8 653.4 843.2 652.7 841.3 C652.1 839.3 650.8 835.9 651.1 832.8 C651.3 829.7 654.7 825.9 654.4 822.7 C654.2 819.4 650.9 816.9 649.6 813.4 C648.2 809.8 647.6 806.2 646.2 801.5 C644.8 796.9 642.8 790.4 641.1 785.4 C639.4 780.5 637.6 777.0 636.0 771.9 C634.5 766.8 624.7 757.8 631.6 755.0 Z" fill="#a8a8a8"/>
<path d="M328.2 755.0 C336.1 752.2 365.1 752.2 370.5 755.0 C375.9 757.8 362.6 766.3 360.3 771.9 C358.1 777.6 357.4 782.6 357.0 788.8 C356.5 795.0 358.4 802.1 357.8 809.1 C357.2 816.2 355.4 823.2 353.6 831.1 C351.7 839.0 348.8 848.9 346.8 856.5 C344.8 864.1 342.3 871.2 341.7 876.8 C341.2 882.4 342.7 885.2 343.4 890.3 C344.1 895.4 345.7 901.6 346.0 907.2 C346.3 912.9 346.7 919.1 345.1 924.2 C343.6 929.2 340.6 934.0 336.7 937.7 C332.7 941.4 326.8 943.0 321.4 946.1 C316.1 949.2 311.6 951.8 304.5 956.3 C297.5 960.8 287.6 967.3 279.2 973.2 C270.7 979.1 261.1 984.2 253.8 991.8 C246.5 999.4 239.7 1014.1 235.2 1018.9 C230.7 1023.7 229.5 1021.7 226.7 1020.6 C223.9 1019.4 220.1 1015.5 218.3 1012.1 C216.4 1008.7 214.0 1002.8 215.7 1000.3 C217.4 997.7 223.5 999.1 228.4 996.9 C233.3 994.6 239.1 991.0 245.3 986.7 C251.5 982.5 258.6 977.2 265.6 971.5 C272.7 965.9 281.7 958.0 287.6 952.9 C293.5 947.8 297.8 945.9 301.1 941.1 C304.5 936.3 306.5 929.8 307.9 924.2 C309.3 918.5 309.9 912.9 309.6 907.2 C309.3 901.6 307.6 896.0 306.2 890.3 C304.8 884.7 303.1 879.0 301.1 873.4 C299.2 867.8 295.6 862.1 294.4 856.5 C293.1 850.9 293.3 844.7 293.5 839.6 C293.8 834.5 294.2 830.6 296.1 826.0 C297.9 821.5 301.1 815.9 304.5 812.5 C307.9 809.1 313.5 809.1 316.4 805.7 C319.2 802.4 320.3 797.9 321.4 792.2 C322.6 786.6 322.0 778.1 323.1 771.9 C324.3 765.7 320.3 757.8 328.2 755.0 Z" fill="#fff"/>
<path d="M334.8 755.0 C339.2 752.2 356.1 752.2 359.0 755.0 C361.9 757.8 353.6 766.3 352.2 771.9 C350.9 777.6 350.8 782.6 350.7 788.8 C350.6 795.0 352.1 802.1 351.6 809.1 C351.0 816.2 349.2 823.2 347.4 831.1 C345.5 839.0 342.6 849.4 340.6 856.5 C338.6 863.5 336.9 869.5 335.1 873.4 C333.4 877.4 332.4 880.2 329.9 880.2 C327.4 880.2 323.3 876.8 320.4 873.4 C317.6 870.0 314.9 865.0 312.6 859.9 C310.4 854.8 307.7 848.0 307.0 843.0 C306.4 837.9 307.5 833.7 308.7 829.4 C309.9 825.2 311.7 821.0 314.3 817.6 C316.9 814.2 321.8 813.4 324.3 809.1 C326.8 804.9 327.9 798.4 329.4 792.2 C330.8 786.0 332.0 778.1 332.9 771.9 C333.9 765.7 330.5 757.8 334.8 755.0 Z" fill="#a8a8a8"/>
<path d="M314.9 907.2 C317.4 902.7 324.6 899.1 328.2 898.8 C331.9 898.5 335.1 901.6 336.7 905.5 C338.4 909.5 338.8 917.7 338.0 922.5 C337.1 927.3 334.4 931.5 331.4 934.3 C328.4 937.1 322.8 940.8 319.8 939.4 C316.7 938.0 314.0 931.2 313.2 925.8 C312.4 920.5 312.4 911.7 314.9 907.2 Z" fill="#6e6e6e"/>
<path d="M227.6 1007.9 C227.8 1005.8 229.7 1003.1 232.6 1000.3 C235.6 997.5 240.7 994.1 245.3 991.0 C250.0 987.9 257.6 982.7 260.5 981.7 C263.5 980.7 265.1 982.7 263.1 985.0 C261.1 987.4 253.1 992.4 248.7 996.0 C244.3 999.7 239.8 1004.2 236.9 1007.0 C233.9 1009.9 232.5 1012.8 230.9 1013.0 C229.4 1013.1 227.3 1010.0 227.6 1007.9 Z" fill="#6e6e6e"/>
<path d="M519.7 755.0 C524.4 751.6 551.2 751.6 558.6 755.0 C565.9 758.4 561.7 768.8 563.6 775.3 C565.6 781.8 567.3 788.8 570.4 793.9 C573.5 799.0 578.6 801.0 582.2 805.7 C585.9 810.5 588.4 817.9 592.4 822.7 C596.3 827.5 603.1 830.6 605.9 834.5 C608.7 838.4 609.6 842.1 609.3 846.3 C609.0 850.6 606.2 855.4 604.2 859.9 C602.3 864.4 599.7 868.9 597.5 873.4 C595.2 877.9 592.7 881.9 590.7 886.9 C588.7 892.0 586.7 897.7 585.6 903.9 C584.5 910.1 583.6 918.0 583.9 924.2 C584.2 930.4 585.9 935.4 587.3 941.1 C588.7 946.7 589.9 952.6 592.4 958.0 C594.9 963.3 598.6 967.6 602.5 973.2 C606.5 978.8 611.0 985.9 616.1 991.8 C621.1 997.7 627.3 1004.2 633.0 1008.7 C638.6 1013.2 646.2 1015.5 649.9 1018.9 C653.6 1022.3 659.8 1027.3 655.0 1029.0 C650.2 1030.7 627.6 1032.4 621.1 1029.0 C614.7 1025.6 618.6 1014.9 616.1 1008.7 C613.5 1002.5 609.9 997.5 605.9 991.8 C602.0 986.2 597.5 980.5 592.4 974.9 C587.3 969.3 581.1 963.1 575.5 958.0 C569.8 952.9 563.1 948.7 558.6 944.5 C554.0 940.2 550.4 937.4 548.4 932.6 C546.4 927.8 546.7 921.3 546.7 915.7 C546.7 910.1 547.6 904.4 548.4 898.8 C549.3 893.1 551.8 887.8 551.8 881.9 C551.8 875.9 549.5 870.3 548.4 863.3 C547.3 856.2 546.2 846.9 545.0 839.6 C543.9 832.2 542.8 826.3 541.6 819.3 C540.5 812.2 540.2 804.6 538.3 797.3 C536.3 790.0 532.9 782.3 529.8 775.3 C526.7 768.3 514.9 758.4 519.7 755.0 Z" fill="#fff"/>
<path d="M530.4 755.0 C532.2 752.2 546.3 751.6 550.4 755.0 C554.6 758.4 553.5 768.8 555.5 775.3 C557.5 781.8 559.2 788.5 562.3 793.9 C565.4 799.3 570.5 802.4 574.1 807.4 C577.8 812.5 580.6 819.3 584.3 824.4 C587.9 829.4 593.9 834.2 596.1 837.9 C598.4 841.6 598.4 843.0 597.8 846.3 C597.2 849.7 594.7 854.0 592.7 858.2 C590.8 862.4 588.1 867.5 586.0 871.7 C583.8 875.9 581.9 883.3 579.9 883.6 C577.8 883.8 576.4 877.9 573.8 873.4 C571.2 868.9 566.8 863.5 564.3 856.5 C561.8 849.4 560.7 839.6 559.0 831.1 C557.2 822.7 555.6 813.4 553.9 805.7 C552.2 798.1 551.2 791.1 548.8 785.4 C546.4 779.8 542.7 777.0 539.6 771.9 C536.5 766.8 528.6 757.8 530.4 755.0 Z" fill="#a8a8a8"/>
<path d="M556.3 898.8 C558.6 894.6 565.3 894.0 568.7 895.4 C572.1 896.8 575.2 900.8 576.5 907.2 C577.8 913.7 577.2 928.1 576.5 934.3 C575.8 940.5 574.5 943.9 572.1 944.5 C569.7 945.0 564.8 941.6 561.9 937.7 C559.1 933.7 556.0 927.3 555.1 920.8 C554.2 914.3 554.1 903.0 556.3 898.8 Z" fill="#6e6e6e"/>
<path d="M435.3 755.0 C441.5 751.6 464.6 750.8 470.8 755.0 C477.0 759.2 472.8 773.3 472.5 780.4 C472.3 787.4 470.8 792.5 469.2 797.3 C467.5 802.1 468.0 806.9 462.4 809.1 C456.7 811.4 441.5 812.5 435.3 810.8 C429.1 809.1 426.6 803.2 425.2 799.0 C423.8 794.8 425.5 789.4 426.9 785.4 C428.3 781.5 432.2 780.4 433.6 775.3 C435.0 770.2 429.1 758.4 435.3 755.0 Z" fill="#fff"/>
<path d="M420.9 813.4 C421.9 810.5 426.9 811.0 428.6 812.5 C430.2 814.1 431.1 819.4 431.1 822.7 C431.1 825.9 430.0 830.8 428.6 832.0 C427.1 833.1 423.9 832.5 422.6 829.4 C421.4 826.3 420.0 816.2 420.9 813.4 Z" fill="#000"/>
<path d="M430.2 814.2 C432.5 811.9 441.5 811.9 443.8 814.2 C446.0 816.5 446.0 825.5 443.8 827.7 C441.5 830.0 432.5 830.0 430.2 827.7 C428.0 825.5 428.0 816.5 430.2 814.2 Z" fill="#fff"/>
<path d="M457.3 814.2 C459.6 811.9 468.6 811.9 470.8 814.2 C473.1 816.5 473.1 825.5 470.8 827.7 C468.6 830.0 459.6 830.0 457.3 827.7 C455.1 825.5 455.1 816.5 457.3 814.2 Z" fill="#fff"/>
<path d="M444.6 815.9 C446.6 813.6 454.5 813.6 456.5 815.9 C458.4 818.2 458.4 827.2 456.5 829.4 C454.5 831.7 446.6 831.7 444.6 829.4 C442.7 827.2 442.7 818.2 444.6 815.9 Z" fill="#444"/>
<path d="M426.9 846.3 C428.3 844.1 438.4 841.8 443.8 841.3 C449.1 840.7 456.2 841.3 459.0 843.0 C461.8 844.7 461.8 849.2 460.7 851.4 C459.6 853.7 456.5 855.9 452.2 856.5 C448.0 857.1 439.6 856.5 435.3 854.8 C431.1 853.1 425.5 848.6 426.9 846.3 Z" fill="#fff"/>
<ellipse cx="464.4" cy="847.2" rx="2.5" ry="3.0" fill="#000"/>
<ellipse cx="448.9" cy="857.8" rx="4.2" ry="1.7" fill="#000"/>
<path d="M372.7 902.2 L375.3 915.7" fill="none" stroke="#fff" stroke-width="6.1" stroke-linecap="round" stroke-linejoin="round"/>
<path d="M384.6 895.4 L391.3 914.0" fill="none" stroke="#fff" stroke-width="5.8" stroke-linecap="round" stroke-linejoin="round"/>
<path d="M398.1 893.7 L403.2 910.6" fill="none" stroke="#fff" stroke-width="8.5" stroke-linecap="round" stroke-linejoin="round"/>
<path d="M416.7 895.4 L425.2 907.2" fill="none" stroke="#fff" stroke-width="8.5" stroke-linecap="round" stroke-linejoin="round"/>
<path d="M430.2 907.2 L431.9 917.4" fill="none" stroke="#fff" stroke-width="8.5" stroke-linecap="round" stroke-linejoin="round"/>
<path d="M418.4 929.2 L423.5 939.4" fill="none" stroke="#ddd" stroke-width="5.1" stroke-linecap="round" stroke-linejoin="round"/>
<path d="M435.3 925.8 L440.4 934.3" fill="none" stroke="#ccc" stroke-width="4.4" stroke-linecap="round" stroke-linejoin="round"/>
<path d="M384.6 952.9 C385.4 950.4 391.9 947.0 394.7 947.8 C397.5 948.7 399.0 953.8 401.5 958.0 C404.0 962.2 408.8 969.5 410.0 973.2 C411.1 976.9 410.2 979.7 408.3 980.0 C406.3 980.3 401.2 977.7 398.1 974.9 C395.0 972.1 391.9 966.7 389.7 963.1 C387.4 959.4 383.7 955.4 384.6 952.9 Z" fill="#fff"/>
<path d="M415.0 978.3 C417.8 977.7 426.3 976.0 431.9 974.9 C437.6 973.8 443.8 972.9 448.9 971.5 C453.9 970.1 460.1 967.3 462.4 966.4" fill="none" stroke="#eee" stroke-width="5.8" stroke-linecap="round" stroke-linejoin="round"/>
<path d="M418.4 985.0 C421.2 984.8 429.7 984.2 435.3 983.4 C441.0 982.5 449.4 980.5 452.2 980.0" fill="none" stroke="#ccc" stroke-width="3.4" stroke-linecap="round" stroke-linejoin="round"/>
<path d="M457.3 934.3 C458.2 936.8 461.8 944.2 462.4 949.5 C463.0 954.9 461.0 963.6 460.7 966.4" fill="none" stroke="#fff" stroke-width="8.5" stroke-linecap="round" stroke-linejoin="round"/>
<path d="M472.5 946.1 C474.5 944.2 482.4 944.2 484.4 946.1 C486.4 948.1 486.4 956.0 484.4 958.0 C482.4 960.0 474.5 960.0 472.5 958.0 C470.6 956.0 470.6 948.1 472.5 946.1 Z" fill="#fff"/>
<ellipse cx="459.9" cy="955.4" rx="1.7" ry="3.0" fill="#000"/>
<path d="M408.3 1008.7 C413.3 1008.4 428.6 1006.9 438.7 1007.0 C448.9 1007.2 464.1 1009.2 469.2 1009.6" fill="none" stroke="#ccc" stroke-width="2.7" stroke-linecap="round" stroke-linejoin="round"/>
<path d="M423.5 1018.9 C428.3 1017.2 447.4 1017.2 452.2 1018.9 C457.0 1020.6 457.0 1027.3 452.2 1029.0 C447.4 1030.7 428.3 1030.7 423.5 1029.0 C418.7 1027.3 418.7 1020.6 423.5 1018.9 Z" fill="#fff"/>
</g>
</g>
<g clip-path="url(#co0r)"><path d="M121.0 755.0 C122.5 759.2 126.5 770.5 130.3 780.4 C134.1 790.2 139.0 802.9 143.8 814.2 C148.6 825.5 155.1 836.8 159.1 848.0 C163.0 859.3 166.0 870.6 167.5 881.9 C169.1 893.1 167.8 904.4 168.4 915.7 C168.9 927.0 169.8 938.3 170.9 949.5 C172.0 960.8 173.7 970.1 175.1 983.4 C176.5 996.6 178.6 1021.4 179.4 1029.0 L714.2 1029.0 L714.2 1029.0 C714.7 1022.8 716.4 1003.7 717.6 991.8 C718.7 980.0 720.2 969.3 720.9 958.0 C721.7 946.7 721.2 934.0 721.8 924.2 C722.4 914.3 723.1 907.2 724.3 898.8 C725.6 890.3 726.9 881.9 729.4 873.4 C731.9 865.0 735.9 856.5 739.6 848.0 C743.2 839.6 747.7 832.5 751.4 822.7 C755.1 812.8 758.7 800.1 761.5 788.8 C764.4 777.6 767.2 760.6 768.3 755.0 Z" fill="none" stroke="#8a8a8a" stroke-width="1.6" filter="url(#b1)"/></g>
<clipPath id="co1r"><rect x="967.0" y="760.4" width="657.3" height="262.2"/></clipPath>
<clipPath id="co1" clip-path="url(#co1r)"><path d="M972.0 756.0 C973.5 760.2 977.5 771.5 981.3 781.4 C985.1 791.2 990.0 803.9 994.8 815.2 C999.6 826.5 1006.1 837.8 1010.1 849.0 C1014.0 860.3 1017.0 871.6 1018.5 882.9 C1020.1 894.1 1018.8 905.4 1019.4 916.7 C1019.9 928.0 1020.8 939.3 1021.9 950.5 C1023.0 961.8 1024.7 971.1 1026.1 984.4 C1027.5 997.6 1029.6 1022.4 1030.4 1030.0 L1565.2 1030.0 L1565.2 1030.0 C1565.7 1023.8 1567.4 1004.7 1568.6 992.8 C1569.7 981.0 1571.2 970.3 1571.9 959.0 C1572.7 947.7 1572.2 935.0 1572.8 925.2 C1573.4 915.3 1574.1 908.2 1575.3 899.8 C1576.6 891.3 1577.9 882.9 1580.4 874.4 C1582.9 866.0 1586.9 857.5 1590.6 849.0 C1594.2 840.6 1598.7 833.5 1602.4 823.7 C1606.1 813.8 1609.7 801.1 1612.5 789.8 C1615.4 778.6 1618.2 761.6 1619.3 756.0 Z"/></clipPath>
<g clip-path="url(#co1)">
<rect x="967.0" y="758.4" width="657.3" height="266.2" fill="#363636"/>
<g filter="url(#b4)">
<path d="M1015.1 756.0 C981.9 763.0 1021.0 785.6 1025.3 798.3 C1029.5 811.0 1036.0 822.3 1040.5 832.1 C1045.0 842.0 1050.4 847.6 1052.3 857.5 C1054.3 867.4 1051.8 880.0 1052.3 891.3 C1052.9 902.6 1054.3 913.9 1055.7 925.2 C1057.1 936.4 1059.4 947.7 1060.8 959.0 C1062.2 970.3 1062.8 981.0 1064.2 992.8 C1065.6 1004.7 1038.5 1023.8 1069.3 1030.0 C1100.0 1036.2 1221.5 1039.1 1248.6 1030.0 C1275.6 1021.0 1238.7 993.4 1231.6 975.9 C1224.6 958.4 1211.9 944.9 1206.3 925.2 C1200.6 905.4 1196.4 880.0 1197.8 857.5 C1199.2 834.9 1210.2 806.7 1214.7 789.8 C1219.2 772.9 1258.1 761.6 1224.9 756.0 C1191.6 750.4 1048.4 749.0 1015.1 756.0 Z" fill="#7c7c7c"/>
<path d="M1568.6 756.0 C1601.0 761.6 1563.5 778.6 1560.1 789.8 C1556.7 801.1 1551.4 812.4 1548.3 823.7 C1545.2 834.9 1542.9 846.2 1541.5 857.5 C1540.1 868.8 1540.9 880.0 1539.8 891.3 C1538.7 902.6 1537.0 913.9 1534.7 925.2 C1532.5 936.4 1529.1 947.7 1526.3 959.0 C1523.5 970.3 1520.1 981.0 1517.8 992.8 C1515.6 1004.7 1543.8 1023.8 1512.7 1030.0 C1481.7 1036.2 1357.7 1039.1 1331.7 1030.0 C1305.8 1021.0 1348.7 993.4 1357.1 975.9 C1365.6 958.4 1376.9 944.9 1382.5 925.2 C1388.1 905.4 1392.1 880.0 1391.0 857.5 C1389.8 834.9 1380.0 806.7 1375.7 789.8 C1371.5 772.9 1333.4 761.6 1365.6 756.0 C1397.7 750.4 1536.1 750.4 1568.6 756.0 Z" fill="#7c7c7c"/>
<path d="M1215.3 756.0 C1246.9 744.7 1359.6 744.7 1391.2 756.0 C1422.8 767.3 1401.9 801.1 1404.7 823.7 C1407.6 846.2 1408.7 871.6 1408.1 891.3 C1407.6 911.1 1407.6 925.2 1401.3 942.1 C1395.1 959.0 1381.6 978.2 1370.9 992.8 C1360.2 1007.5 1354.0 1023.8 1337.1 1030.0 C1320.2 1036.2 1287.7 1036.2 1269.4 1030.0 C1251.1 1023.8 1239.0 1007.5 1227.1 992.8 C1215.3 978.2 1204.3 959.0 1198.4 942.1 C1192.4 925.2 1191.0 911.1 1191.6 891.3 C1192.2 871.6 1197.8 846.2 1201.7 823.7 C1205.7 801.1 1183.7 767.3 1215.3 756.0 Z" fill="#6e6e6e"/>
<path d="M1077.7 854.1 C1080.5 856.1 1089.0 861.7 1094.6 866.0 C1100.3 870.2 1107.0 873.8 1111.5 879.5 C1116.1 885.1 1119.0 893.9 1121.7 899.8 C1124.4 905.7 1126.6 912.5 1127.6 915.0" fill="none" stroke="#363636" stroke-width="21.1" stroke-linecap="round" stroke-linejoin="round"/>
<path d="M1123.4 925.2 C1121.7 928.8 1116.6 940.7 1113.2 947.1 C1109.9 953.6 1104.8 961.2 1103.1 964.1" fill="none" stroke="#363636" stroke-width="5.8" stroke-linecap="round" stroke-linejoin="round"/>
<path d="M1028.7 766.1 C1030.6 771.8 1036.6 789.8 1040.5 800.0 C1044.4 810.1 1050.4 822.5 1052.3 827.0" fill="none" stroke="#363636" stroke-width="6.8" stroke-linecap="round" stroke-linejoin="round"/>
<path d="M1519.5 855.8 C1516.7 857.5 1508.2 861.7 1502.6 866.0 C1497.0 870.2 1490.8 875.3 1485.7 881.2 C1480.6 887.1 1475.4 895.6 1472.1 901.5 C1468.9 907.4 1467.2 914.2 1466.2 916.7" fill="none" stroke="#363636" stroke-width="21.1" stroke-linecap="round" stroke-linejoin="round"/>
<path d="M1470.5 925.2 C1471.6 929.4 1474.7 942.1 1477.2 950.5 C1479.8 959.0 1484.3 971.7 1485.7 975.9" fill="none" stroke="#363636" stroke-width="5.8" stroke-linecap="round" stroke-linejoin="round"/>
<path d="M1565.2 766.1 C1563.5 771.8 1558.4 789.8 1555.0 800.0 C1551.6 810.1 1546.6 822.5 1544.9 827.0" fill="none" stroke="#363636" stroke-width="6.8" stroke-linecap="round" stroke-linejoin="round"/>
<path d="M1113.2 981.0 C1120.0 972.0 1136.1 975.9 1147.1 975.9 C1158.1 975.9 1172.7 972.0 1179.2 981.0 C1185.7 990.0 1198.1 1021.9 1186.0 1030.0 C1173.9 1038.2 1118.6 1038.2 1106.5 1030.0 C1094.3 1021.9 1106.5 990.0 1113.2 981.0 Z" fill="#363636"/>
<path d="M1412.9 981.0 C1416.9 972.0 1425.3 973.9 1433.2 975.9 C1441.1 977.9 1454.7 983.8 1460.3 992.8 C1465.9 1001.8 1475.5 1023.8 1467.1 1030.0 C1458.6 1036.2 1418.6 1038.2 1409.6 1030.0 C1400.5 1021.9 1409.0 990.0 1412.9 981.0 Z" fill="#363636"/>
<path d="M1151.0 979.3 C1154.4 970.3 1165.7 973.6 1171.3 975.9 C1176.9 978.2 1181.7 983.8 1184.8 992.8 C1187.9 1001.8 1195.5 1023.8 1189.9 1030.0 C1184.3 1036.2 1157.5 1038.5 1151.0 1030.0 C1144.5 1021.6 1147.6 988.3 1151.0 979.3 Z" fill="#363636"/>
<path d="M1211.3 772.9 C1211.1 781.4 1211.3 806.7 1209.7 823.7 C1208.0 840.6 1203.2 860.3 1201.2 874.4 C1199.2 888.5 1197.8 897.0 1197.8 908.2 C1197.8 919.5 1198.4 929.4 1201.2 942.1 C1204.0 954.8 1210.8 969.7 1214.7 984.4 C1218.7 999.0 1223.2 1022.4 1224.9 1030.0" fill="none" stroke="#363636" stroke-width="7.6" stroke-linecap="round" stroke-linejoin="round"/>
<path d="M1369.0 772.9 C1370.1 781.4 1372.3 806.7 1375.7 823.7 C1379.1 840.6 1385.9 860.3 1389.3 874.4 C1392.6 888.5 1395.5 897.0 1396.0 908.2 C1396.6 919.5 1396.0 929.4 1392.6 942.1 C1389.3 954.8 1380.8 969.7 1375.7 984.4 C1370.7 999.0 1364.4 1022.4 1362.2 1030.0" fill="none" stroke="#363636" stroke-width="7.6" stroke-linecap="round" stroke-linejoin="round"/>
<path d="M1193.3 942.1 C1195.5 947.7 1200.3 965.2 1206.8 975.9 C1213.3 986.6 1224.0 997.3 1232.2 1006.3 C1240.4 1015.4 1251.9 1026.1 1255.9 1030.0" fill="none" stroke="#7c7c7c" stroke-width="11.8" stroke-linecap="round" stroke-linejoin="round"/>
<path d="M1401.3 942.1 C1399.1 947.7 1394.3 965.2 1387.8 975.9 C1381.3 986.6 1371.5 997.3 1362.4 1006.3 C1353.4 1015.4 1338.5 1026.1 1333.7 1030.0" fill="none" stroke="#7c7c7c" stroke-width="11.8" stroke-linecap="round" stroke-linejoin="round"/>
<path d="M1206.8 894.7 C1210.2 885.7 1225.1 888.5 1235.6 887.9 C1246.0 887.4 1260.4 887.9 1269.4 891.3 C1278.4 894.7 1284.1 902.6 1289.7 908.2 C1295.3 913.9 1301.0 915.3 1303.2 925.2 C1305.5 935.0 1308.9 959.0 1303.2 967.4 C1297.6 975.9 1280.1 975.9 1269.4 975.9 C1258.7 975.9 1248.0 973.1 1239.0 967.4 C1229.9 961.8 1220.6 954.2 1215.3 942.1 C1209.9 929.9 1203.4 903.7 1206.8 894.7 Z" fill="#404040"/>
<path d="M1311.7 904.9 C1315.1 896.7 1330.0 899.5 1337.1 901.5 C1344.1 903.4 1351.2 908.5 1354.0 916.7 C1356.8 924.9 1356.8 942.1 1354.0 950.5 C1351.2 959.0 1343.3 967.4 1337.1 967.4 C1330.9 967.4 1321.0 961.0 1316.8 950.5 C1312.5 940.1 1308.3 913.0 1311.7 904.9 Z" fill="#404040"/>
<path d="M1215.3 816.9 C1222.6 809.3 1243.5 807.9 1252.5 811.8 C1261.5 815.8 1268.0 830.1 1269.4 840.6 C1270.8 851.0 1268.0 867.1 1261.0 874.4 C1253.9 881.7 1235.9 887.4 1227.1 884.6 C1218.4 881.7 1210.5 868.8 1208.5 857.5 C1206.5 846.2 1207.9 824.5 1215.3 816.9 Z" fill="#7e7e7e"/>
<path d="M1337.1 820.3 C1343.3 816.9 1362.4 820.8 1370.9 827.0 C1379.4 833.2 1387.8 847.9 1387.8 857.5 C1387.8 867.1 1377.9 881.7 1370.9 884.6 C1363.9 887.4 1351.7 880.6 1345.5 874.4 C1339.3 868.2 1335.1 856.4 1333.7 847.3 C1332.3 838.3 1330.9 823.7 1337.1 820.3 Z" fill="#7e7e7e"/>
<path d="M1311.7 907.2 C1315.1 901.0 1328.6 902.4 1337.1 903.9 C1345.5 905.3 1358.8 908.1 1362.4 915.7 C1366.1 923.3 1363.3 942.5 1359.1 949.5 C1354.8 956.6 1344.1 959.4 1337.1 958.0 C1330.0 956.6 1321.0 949.5 1316.8 941.1 C1312.5 932.6 1308.3 913.4 1311.7 907.2 Z" fill="#2a2a2a"/>
<path d="M1245.7 941.1 C1249.1 936.3 1259.8 936.3 1269.4 937.7 C1279.0 939.1 1298.2 943.3 1303.2 949.5 C1308.3 955.7 1305.5 969.8 1299.9 974.9 C1294.2 980.0 1277.9 981.4 1269.4 980.0 C1261.0 978.6 1253.1 972.9 1249.1 966.4 C1245.2 960.0 1242.3 945.9 1245.7 941.1 Z" fill="#303030"/>
<path d="M1242.3 765.1 C1245.4 759.8 1258.7 758.4 1262.6 765.1 C1266.6 771.9 1267.7 797.3 1266.0 805.7 C1264.3 814.2 1256.2 817.3 1252.5 815.9 C1248.8 814.5 1245.7 805.7 1244.0 797.3 C1242.3 788.8 1239.2 770.5 1242.3 765.1 Z" fill="#3a3a3a"/>
<path d="M1345.5 765.1 C1348.3 761.2 1359.6 758.4 1362.4 765.1 C1365.3 771.9 1364.1 798.1 1362.4 805.7 C1360.8 813.4 1355.1 813.6 1352.3 810.8 C1349.5 808.0 1346.7 796.4 1345.5 788.8 C1344.4 781.2 1342.7 769.1 1345.5 765.1 Z" fill="#3a3a3a"/>
</g>
<rect x="967.0" y="760.4" width="657.3" height="262.2" filter="url(#nz2)"/>
<g filter="url(#b1)">
<path d="M1064.2 756.0 C1074.9 750.9 1114.9 752.6 1123.4 756.0 C1131.8 759.4 1117.0 770.1 1114.9 776.3 C1112.8 782.5 1111.8 788.1 1110.7 793.2 C1109.6 798.3 1109.4 803.1 1108.2 806.7 C1106.9 810.4 1104.5 812.7 1103.1 815.2 C1101.7 817.7 1099.4 819.7 1099.7 822.0 C1100.0 824.2 1103.7 826.2 1104.8 828.7 C1105.9 831.3 1106.8 834.4 1106.5 837.2 C1106.2 840.0 1105.1 843.4 1103.1 845.7 C1101.1 847.9 1097.5 850.0 1094.6 850.7 C1091.8 851.4 1089.0 851.3 1086.2 849.9 C1083.4 848.5 1080.5 845.5 1077.7 842.3 C1074.9 839.0 1072.1 834.4 1069.3 830.4 C1066.4 826.5 1063.5 822.5 1060.8 818.6 C1058.1 814.6 1054.3 810.1 1053.2 806.7 C1052.1 803.4 1053.0 801.7 1054.0 798.3 C1055.0 794.9 1057.4 793.5 1059.1 786.4 C1060.8 779.4 1053.5 761.1 1064.2 756.0 Z" fill="#858585" stroke="#fff" stroke-width="5.8" stroke-linejoin="round"/>
<path d="M1475.5 756.0 C1484.5 753.2 1524.0 751.8 1534.7 756.0 C1545.4 760.2 1538.1 774.3 1539.8 781.4 C1541.5 788.4 1544.0 793.2 1544.9 798.3 C1545.7 803.4 1546.0 807.0 1544.9 811.8 C1543.8 816.6 1541.2 822.0 1538.1 827.0 C1535.0 832.1 1530.2 838.3 1526.3 842.3 C1522.3 846.2 1518.1 849.3 1514.4 850.7 C1510.8 852.1 1506.8 851.9 1504.3 850.7 C1501.7 849.6 1500.3 846.8 1499.2 844.0 C1498.1 841.1 1497.2 837.2 1497.5 833.8 C1497.8 830.4 1501.5 826.8 1500.9 823.7 C1500.3 820.6 1495.8 818.6 1494.1 815.2 C1492.4 811.8 1492.2 808.2 1490.8 803.4 C1489.3 798.6 1487.4 791.5 1485.7 786.4 C1484.0 781.4 1482.3 778.0 1480.6 772.9 C1478.9 767.8 1466.5 758.8 1475.5 756.0 Z" fill="#858585" stroke="#fff" stroke-width="5.8" stroke-linejoin="round"/>
<path d="M1164.0 947.1 C1159.8 949.7 1147.1 956.7 1138.6 962.4 C1130.2 968.0 1120.9 975.1 1113.2 981.0 C1105.6 986.9 1099.1 992.8 1092.9 997.9 C1086.7 1003.0 1078.8 1009.2 1076.0 1011.4" fill="none" stroke="#fff" stroke-width="7.4" stroke-linecap="round" stroke-linejoin="round"/>
<ellipse cx="1074.0" cy="1011.8" rx="5.4" ry="8.1" fill="#fff" transform="rotate(40.0 1074.0 1011.8)"/>
<path d="M1424.8 947.1 C1427.9 950.5 1437.2 959.8 1443.4 967.4 C1449.6 975.1 1455.8 985.2 1462.0 992.8 C1468.2 1000.4 1475.2 1006.9 1480.6 1013.1 C1486.0 1019.3 1491.9 1027.2 1494.1 1030.0" fill="none" stroke="#fff" stroke-width="7.4" stroke-linecap="round" stroke-linejoin="round"/>
<path d="M1179.2 756.0 C1187.1 753.2 1216.1 753.2 1221.5 756.0 C1226.9 758.8 1213.6 767.3 1211.3 772.9 C1209.1 778.6 1208.4 783.6 1208.0 789.8 C1207.5 796.0 1209.4 803.1 1208.8 810.1 C1208.2 817.2 1206.4 824.2 1204.6 832.1 C1202.7 840.0 1199.8 849.9 1197.8 857.5 C1195.8 865.1 1193.3 872.2 1192.7 877.8 C1192.2 883.4 1193.7 886.2 1194.4 891.3 C1195.1 896.4 1196.7 902.6 1197.0 908.2 C1197.3 913.9 1197.7 920.1 1196.1 925.2 C1194.6 930.2 1191.6 935.0 1187.7 938.7 C1183.7 942.4 1177.5 944.9 1172.4 947.1 C1167.4 949.4 1160.6 953.1 1157.2 952.2 C1153.8 951.4 1151.9 946.6 1152.1 942.1 C1152.4 937.6 1157.5 930.8 1158.9 925.2 C1160.3 919.5 1160.9 913.9 1160.6 908.2 C1160.3 902.6 1158.6 897.0 1157.2 891.3 C1155.8 885.7 1154.1 880.0 1152.1 874.4 C1150.2 868.8 1146.6 863.1 1145.4 857.5 C1144.1 851.9 1144.3 845.7 1144.5 840.6 C1144.8 835.5 1145.2 831.6 1147.1 827.0 C1148.9 822.5 1152.1 816.9 1155.5 813.5 C1158.9 810.1 1164.5 810.1 1167.4 806.7 C1170.2 803.4 1171.3 798.9 1172.4 793.2 C1173.6 787.6 1173.0 779.1 1174.1 772.9 C1175.3 766.7 1171.3 758.8 1179.2 756.0 Z" fill="#707070" stroke="#fff" stroke-width="5.8" stroke-linejoin="round"/>
<path d="M1370.7 756.0 C1375.4 752.6 1402.2 752.6 1409.6 756.0 C1416.9 759.4 1412.7 769.8 1414.6 776.3 C1416.6 782.8 1418.3 789.8 1421.4 794.9 C1424.5 800.0 1429.6 802.0 1433.2 806.7 C1436.9 811.5 1439.4 818.9 1443.4 823.7 C1447.3 828.5 1454.1 831.6 1456.9 835.5 C1459.7 839.4 1460.6 843.1 1460.3 847.3 C1460.0 851.6 1457.2 856.4 1455.2 860.9 C1453.3 865.4 1450.7 869.9 1448.5 874.4 C1446.2 878.9 1443.7 882.9 1441.7 887.9 C1439.7 893.0 1437.7 898.7 1436.6 904.9 C1435.5 911.1 1434.6 919.0 1434.9 925.2 C1435.2 931.4 1438.6 937.0 1438.3 942.1 C1438.0 947.1 1438.0 955.0 1433.2 955.6 C1428.4 956.2 1415.2 949.1 1409.6 945.5 C1403.9 941.8 1401.4 938.4 1399.4 933.6 C1397.4 928.8 1397.7 922.3 1397.7 916.7 C1397.7 911.1 1398.6 905.4 1399.4 899.8 C1400.3 894.1 1402.8 888.8 1402.8 882.9 C1402.8 876.9 1400.5 871.3 1399.4 864.3 C1398.3 857.2 1397.2 847.9 1396.0 840.6 C1394.9 833.2 1393.8 827.3 1392.6 820.3 C1391.5 813.2 1391.2 805.6 1389.3 798.3 C1387.3 791.0 1383.9 783.3 1380.8 776.3 C1377.7 769.3 1365.9 759.4 1370.7 756.0 Z" fill="#707070" stroke="#fff" stroke-width="5.8" stroke-linejoin="round"/>
<path d="M1175.8 762.8 C1175.4 767.8 1175.0 785.6 1173.3 793.2 C1171.6 800.8 1168.9 804.5 1165.7 808.4 C1162.4 812.4 1157.1 812.9 1153.8 816.9 C1150.6 820.8 1147.6 826.5 1146.2 832.1 C1144.8 837.8 1145.5 847.6 1145.4 850.7" fill="none" stroke="#fff" stroke-width="8.8" stroke-linecap="round" stroke-linejoin="round"/>
<path d="M1407.0 762.8 C1408.3 765.9 1412.0 775.7 1414.6 781.4 C1417.3 787.0 1419.7 792.1 1423.1 796.6 C1426.5 801.1 1430.7 803.4 1434.9 808.4 C1439.2 813.5 1444.7 821.7 1448.5 827.0 C1452.3 832.4 1456.2 838.3 1457.8 840.6" fill="none" stroke="#fff" stroke-width="8.8" stroke-linecap="round" stroke-linejoin="round"/>
<path d="M1286.3 755.0 C1291.7 750.8 1315.6 746.5 1321.8 755.0 C1328.0 763.5 1324.9 796.2 1323.5 805.7 C1322.1 815.3 1319.9 811.4 1313.4 812.5 C1306.9 813.6 1289.7 815.0 1284.6 812.5 C1279.6 810.0 1282.1 802.6 1282.9 797.3 C1283.8 791.9 1289.1 787.4 1289.7 780.4 C1290.3 773.3 1281.0 759.2 1286.3 755.0 Z" fill="#fff"/>
<path d="M1284.6 819.3 C1286.9 817.6 1295.9 817.6 1298.2 819.3 C1300.4 821.0 1299.3 827.0 1298.2 829.4 C1297.0 831.8 1293.7 833.7 1291.4 833.7 C1289.1 833.7 1285.8 831.8 1284.6 829.4 C1283.5 827.0 1282.4 821.0 1284.6 819.3 Z" fill="#fff"/>
<path d="M1308.3 819.3 C1310.9 817.6 1321.0 817.6 1323.5 819.3 C1326.1 821.0 1324.8 827.0 1323.5 829.4 C1322.3 831.8 1318.5 833.7 1315.9 833.7 C1313.4 833.7 1309.6 831.8 1308.3 829.4 C1307.0 827.0 1305.8 821.0 1308.3 819.3 Z" fill="#fff"/>
<ellipse cx="1303.2" cy="826.9" rx="4.7" ry="3.7" fill="#222"/>
<ellipse cx="1310.9" cy="853.6" rx="7.6" ry="4.6" fill="#fff"/>
<path d="M1276.2 852.3 L1298.2 853.1" fill="none" stroke="#ccc" stroke-width="4.4" stroke-linecap="round" stroke-linejoin="round"/>
<ellipse cx="1271.9" cy="891.2" rx="11.8" ry="7.4" fill="#000" transform="rotate(15.0 1271.9 891.2)"/>
<ellipse cx="1245.7" cy="905.5" rx="16.1" ry="13.5" fill="#f4f4f4"/>
<ellipse cx="1277.9" cy="911.5" rx="8.1" ry="7.1" fill="#e8e8e8"/>
<ellipse cx="1272.8" cy="931.8" rx="8.8" ry="8.8" fill="#fff"/>
<ellipse cx="1230.5" cy="920.8" rx="6.8" ry="8.5" fill="#bbb"/>
<ellipse cx="1261.0" cy="917.4" rx="7.6" ry="6.8" fill="#999"/>
<path d="M1235.6 949.5 C1237.6 952.1 1243.5 959.7 1247.4 964.8 C1251.4 969.8 1257.3 977.4 1259.3 980.0" fill="none" stroke="#fff" stroke-width="9.8" stroke-linecap="round" stroke-linejoin="round"/>
<ellipse cx="1313.4" cy="932.6" rx="5.1" ry="6.8" fill="#ddd"/>
<ellipse cx="1321.8" cy="946.1" rx="7.6" ry="9.3" fill="#ccc" transform="rotate(-30.0 1321.8 946.1)"/>
<ellipse cx="1330.3" cy="954.6" rx="5.1" ry="6.8" fill="#ddd" transform="rotate(-30.0 1330.3 954.6)"/>
<ellipse cx="1315.9" cy="957.1" rx="2.2" ry="2.2" fill="#000"/>
<ellipse cx="1310.0" cy="961.4" rx="5.1" ry="4.2" fill="#bbb"/>
<path d="M1259.3 1011.8 C1264.3 1011.7 1279.6 1011.2 1289.7 1011.3 C1299.9 1011.4 1315.1 1012.3 1320.2 1012.5" fill="none" stroke="#bbb" stroke-width="2.0" stroke-linecap="round" stroke-linejoin="round"/>
</g>
</g>
<g clip-path="url(#co1r)"><path d="M972.0 756.0 C973.5 760.2 977.5 771.5 981.3 781.4 C985.1 791.2 990.0 803.9 994.8 815.2 C999.6 826.5 1006.1 837.8 1010.1 849.0 C1014.0 860.3 1017.0 871.6 1018.5 882.9 C1020.1 894.1 1018.8 905.4 1019.4 916.7 C1019.9 928.0 1020.8 939.3 1021.9 950.5 C1023.0 961.8 1024.7 971.1 1026.1 984.4 C1027.5 997.6 1029.6 1022.4 1030.4 1030.0 L1565.2 1030.0 L1565.2 1030.0 C1565.7 1023.8 1567.4 1004.7 1568.6 992.8 C1569.7 981.0 1571.2 970.3 1571.9 959.0 C1572.7 947.7 1572.2 935.0 1572.8 925.2 C1573.4 915.3 1574.1 908.2 1575.3 899.8 C1576.6 891.3 1577.9 882.9 1580.4 874.4 C1582.9 866.0 1586.9 857.5 1590.6 849.0 C1594.2 840.6 1598.7 833.5 1602.4 823.7 C1606.1 813.8 1609.7 801.1 1612.5 789.8 C1615.4 778.6 1618.2 761.6 1619.3 756.0 Z" fill="none" stroke="#555" stroke-width="1.6" filter="url(#b1)"/></g>
<linearGradient id="spine3" x1="0" y1="0" x2="0" y2="1"><stop offset="0" stop-color="#f0f0f0"/><stop offset="0.6" stop-color="#c0c0c0"/><stop offset="1" stop-color="#6a6a6a"/></linearGradient>
<linearGradient id="com3" gradientUnits="userSpaceOnUse" x1="1880" y1="0" x2="2430" y2="0"><stop offset="0" stop-color="#000"/><stop offset="0.04" stop-color="#777"/><stop offset="0.12" stop-color="#fff"/><stop offset="0.88" stop-color="#fff"/><stop offset="0.96" stop-color="#777"/><stop offset="1" stop-color="#000"/></linearGradient>
<mask id="comask3" maskUnits="userSpaceOnUse" x="1800" y="755" width="700" height="275"><rect x="1800" y="755" width="700" height="275" fill="url(#com3)"/></mask>
<clipPath id="co2r"><rect x="1821.0" y="760.4" width="657.3" height="262.2"/></clipPath>
<clipPath id="co2" clip-path="url(#co2r)"><path d="M1826.0 758.0 C1827.5 762.2 1831.5 773.5 1835.3 783.4 C1839.1 793.2 1844.0 805.9 1848.8 817.2 C1853.6 828.5 1860.1 839.8 1864.1 851.0 C1868.0 862.3 1871.0 873.6 1872.5 884.9 C1874.1 896.1 1872.8 907.4 1873.4 918.7 C1873.9 930.0 1874.8 941.3 1875.9 952.5 C1877.0 963.8 1878.7 973.1 1880.1 986.4 C1881.5 999.6 1883.6 1024.4 1884.4 1032.0 L2419.2 1032.0 L2419.2 1032.0 C2419.7 1025.8 2421.4 1006.7 2422.6 994.8 C2423.7 983.0 2425.2 972.3 2425.9 961.0 C2426.7 949.7 2426.2 937.0 2426.8 927.2 C2427.4 917.3 2428.1 910.2 2429.3 901.8 C2430.6 893.3 2431.9 884.9 2434.4 876.4 C2436.9 868.0 2440.9 859.5 2444.6 851.0 C2448.2 842.6 2452.7 835.5 2456.4 825.7 C2460.1 815.8 2463.7 803.1 2466.5 791.8 C2469.4 780.6 2472.2 763.6 2473.3 758.0 Z"/></clipPath>
<g clip-path="url(#co2)" mask="url(#comask3)">
<rect x="1821.0" y="758.4" width="657.3" height="266.2" fill="#101010"/>
<g filter="url(#b4)">
<path d="M1869.1 758.0 C1835.9 765.0 1875.0 787.6 1879.3 800.3 C1883.5 813.0 1890.0 824.3 1894.5 834.1 C1899.0 844.0 1904.4 849.6 1906.3 859.5 C1908.3 869.4 1905.8 882.0 1906.3 893.3 C1906.9 904.6 1908.3 915.9 1909.7 927.2 C1911.1 938.4 1913.4 949.7 1914.8 961.0 C1916.2 972.3 1916.8 983.0 1918.2 994.8 C1919.6 1006.7 1892.5 1025.8 1923.3 1032.0 C1954.0 1038.2 2075.5 1041.1 2102.6 1032.0 C2129.6 1023.0 2092.7 995.4 2085.6 977.9 C2078.6 960.4 2065.9 946.9 2060.3 927.2 C2054.6 907.4 2050.4 882.0 2051.8 859.5 C2053.2 836.9 2064.2 808.7 2068.7 791.8 C2073.2 774.9 2112.1 763.6 2078.9 758.0 C2045.6 752.4 1902.4 751.0 1869.1 758.0 Z" fill="#464646"/>
<path d="M2422.6 758.0 C2455.0 763.6 2417.5 780.6 2414.1 791.8 C2410.7 803.1 2405.4 814.4 2402.3 825.7 C2399.2 836.9 2396.9 848.2 2395.5 859.5 C2394.1 870.8 2394.9 882.0 2393.8 893.3 C2392.7 904.6 2391.0 915.9 2388.7 927.2 C2386.5 938.4 2383.1 949.7 2380.3 961.0 C2377.5 972.3 2374.1 983.0 2371.8 994.8 C2369.6 1006.7 2397.8 1025.8 2366.7 1032.0 C2335.7 1038.2 2211.7 1041.1 2185.7 1032.0 C2159.8 1023.0 2202.7 995.4 2211.1 977.9 C2219.6 960.4 2230.9 946.9 2236.5 927.2 C2242.1 907.4 2246.1 882.0 2245.0 859.5 C2243.8 836.9 2234.0 808.7 2229.7 791.8 C2225.5 774.9 2187.4 763.6 2219.6 758.0 C2251.7 752.4 2390.1 752.4 2422.6 758.0 Z" fill="#464646"/>
<path d="M2069.3 758.0 C2100.9 746.7 2213.6 746.7 2245.2 758.0 C2276.8 769.3 2255.9 803.1 2258.7 825.7 C2261.6 848.2 2262.7 873.6 2262.1 893.3 C2261.6 913.1 2261.6 927.2 2255.3 944.1 C2249.1 961.0 2235.6 980.2 2224.9 994.8 C2214.2 1009.5 2208.0 1025.8 2191.1 1032.0 C2174.2 1038.2 2141.7 1038.2 2123.4 1032.0 C2105.1 1025.8 2093.0 1009.5 2081.1 994.8 C2069.3 980.2 2058.3 961.0 2052.4 944.1 C2046.4 927.2 2045.0 913.1 2045.6 893.3 C2046.2 873.6 2051.8 848.2 2055.7 825.7 C2059.7 803.1 2037.7 769.3 2069.3 758.0 Z" fill="#3a3a3a"/>
<path d="M1931.7 856.1 C1934.5 858.1 1943.0 863.7 1948.6 868.0 C1954.3 872.2 1961.0 875.8 1965.5 881.5 C1970.1 887.1 1973.0 895.9 1975.7 901.8 C1978.4 907.7 1980.6 914.5 1981.6 917.0" fill="none" stroke="#1a1a1a" stroke-width="21.1" stroke-linecap="round" stroke-linejoin="round"/>
<path d="M1977.4 927.2 C1975.7 930.8 1970.6 942.7 1967.2 949.1 C1963.9 955.6 1958.8 963.2 1957.1 966.1" fill="none" stroke="#1a1a1a" stroke-width="5.8" stroke-linecap="round" stroke-linejoin="round"/>
<path d="M1882.7 768.1 C1884.6 773.8 1890.6 791.8 1894.5 802.0 C1898.4 812.1 1904.4 824.5 1906.3 829.0" fill="none" stroke="#1a1a1a" stroke-width="6.8" stroke-linecap="round" stroke-linejoin="round"/>
<path d="M2373.5 857.8 C2370.7 859.5 2362.2 863.7 2356.6 868.0 C2351.0 872.2 2344.8 877.3 2339.7 883.2 C2334.6 889.1 2329.4 897.6 2326.1 903.5 C2322.9 909.4 2321.2 916.2 2320.2 918.7" fill="none" stroke="#1a1a1a" stroke-width="21.1" stroke-linecap="round" stroke-linejoin="round"/>
<path d="M2324.5 927.2 C2325.6 931.4 2328.7 944.1 2331.2 952.5 C2333.8 961.0 2338.3 973.7 2339.7 977.9" fill="none" stroke="#1a1a1a" stroke-width="5.8" stroke-linecap="round" stroke-linejoin="round"/>
<path d="M2419.2 768.1 C2417.5 773.8 2412.4 791.8 2409.0 802.0 C2405.6 812.1 2400.6 824.5 2398.9 829.0" fill="none" stroke="#1a1a1a" stroke-width="6.8" stroke-linecap="round" stroke-linejoin="round"/>
<path d="M1967.2 983.0 C1974.0 974.0 1990.1 977.9 2001.1 977.9 C2012.1 977.9 2026.7 974.0 2033.2 983.0 C2039.7 992.0 2052.1 1023.9 2040.0 1032.0 C2027.9 1040.2 1972.6 1040.2 1960.5 1032.0 C1948.3 1023.9 1960.5 992.0 1967.2 983.0 Z" fill="#1a1a1a"/>
<path d="M2266.9 983.0 C2270.9 974.0 2279.3 975.9 2287.2 977.9 C2295.1 979.9 2308.7 985.8 2314.3 994.8 C2319.9 1003.8 2329.5 1025.8 2321.1 1032.0 C2312.6 1038.2 2272.6 1040.2 2263.6 1032.0 C2254.5 1023.9 2263.0 992.0 2266.9 983.0 Z" fill="#1a1a1a"/>
<path d="M2005.0 981.3 C2008.4 972.3 2019.7 975.6 2025.3 977.9 C2030.9 980.2 2035.7 985.8 2038.8 994.8 C2041.9 1003.8 2049.5 1025.8 2043.9 1032.0 C2038.3 1038.2 2011.5 1040.5 2005.0 1032.0 C1998.5 1023.6 2001.6 990.3 2005.0 981.3 Z" fill="#1a1a1a"/>
<path d="M2065.3 774.9 C2065.1 783.4 2065.3 808.7 2063.7 825.7 C2062.0 842.6 2057.2 862.3 2055.2 876.4 C2053.2 890.5 2051.8 899.0 2051.8 910.2 C2051.8 921.5 2052.4 931.4 2055.2 944.1 C2058.0 956.8 2064.8 971.7 2068.7 986.4 C2072.7 1001.0 2077.2 1024.4 2078.9 1032.0" fill="none" stroke="#1a1a1a" stroke-width="7.6" stroke-linecap="round" stroke-linejoin="round"/>
<path d="M2223.0 774.9 C2224.1 783.4 2226.3 808.7 2229.7 825.7 C2233.1 842.6 2239.9 862.3 2243.3 876.4 C2246.6 890.5 2249.5 899.0 2250.0 910.2 C2250.6 921.5 2250.0 931.4 2246.6 944.1 C2243.3 956.8 2234.8 971.7 2229.7 986.4 C2224.7 1001.0 2218.4 1024.4 2216.2 1032.0" fill="none" stroke="#1a1a1a" stroke-width="7.6" stroke-linecap="round" stroke-linejoin="round"/>
<path d="M2047.3 944.1 C2049.5 949.7 2054.3 967.2 2060.8 977.9 C2067.3 988.6 2078.0 999.3 2086.2 1008.3 C2094.4 1017.4 2105.9 1028.1 2109.9 1032.0" fill="none" stroke="#464646" stroke-width="11.8" stroke-linecap="round" stroke-linejoin="round"/>
<path d="M2255.3 944.1 C2253.1 949.7 2248.3 967.2 2241.8 977.9 C2235.3 988.6 2225.5 999.3 2216.4 1008.3 C2207.4 1017.4 2192.5 1028.1 2187.7 1032.0" fill="none" stroke="#464646" stroke-width="11.8" stroke-linecap="round" stroke-linejoin="round"/>
<path d="M2060.8 896.7 C2064.2 887.7 2079.1 890.5 2089.6 889.9 C2100.0 889.4 2114.4 889.9 2123.4 893.3 C2132.4 896.7 2138.1 904.6 2143.7 910.2 C2149.3 915.9 2155.0 917.3 2157.2 927.2 C2159.5 937.0 2162.9 961.0 2157.2 969.4 C2151.6 977.9 2134.1 977.9 2123.4 977.9 C2112.7 977.9 2102.0 975.1 2093.0 969.4 C2083.9 963.8 2074.6 956.2 2069.3 944.1 C2063.9 931.9 2057.4 905.7 2060.8 896.7 Z" fill="#1a1a1a"/>
<path d="M2165.7 906.9 C2169.1 898.7 2184.0 901.5 2191.1 903.5 C2198.1 905.4 2205.2 910.5 2208.0 918.7 C2210.8 926.9 2210.8 944.1 2208.0 952.5 C2205.2 961.0 2197.3 969.4 2191.1 969.4 C2184.9 969.4 2175.0 963.0 2170.8 952.5 C2166.5 942.1 2162.3 915.0 2165.7 906.9 Z" fill="#1a1a1a"/>
<path d="M2069.3 818.9 C2076.6 811.3 2097.5 809.9 2106.5 813.8 C2115.5 817.8 2122.0 832.1 2123.4 842.6 C2124.8 853.0 2122.0 869.1 2115.0 876.4 C2107.9 883.7 2089.9 889.4 2081.1 886.6 C2072.4 883.7 2064.5 870.8 2062.5 859.5 C2060.5 848.2 2061.9 826.5 2069.3 818.9 Z" fill="#4c4c4c"/>
<path d="M2191.1 822.3 C2197.3 818.9 2216.4 822.8 2224.9 829.0 C2233.4 835.2 2241.8 849.9 2241.8 859.5 C2241.8 869.1 2231.9 883.7 2224.9 886.6 C2217.9 889.4 2205.7 882.6 2199.5 876.4 C2193.3 870.2 2189.1 858.4 2187.7 849.3 C2186.3 840.3 2184.9 825.7 2191.1 822.3 Z" fill="#4c4c4c"/>
<path d="M2167.4 903.9 C2170.2 895.7 2183.5 899.9 2191.1 900.5 C2198.7 901.0 2209.4 900.5 2213.1 907.2 C2216.7 914.0 2215.3 932.6 2213.1 941.1 C2210.8 949.5 2206.0 956.6 2199.5 958.0 C2193.0 959.4 2179.5 958.5 2174.2 949.5 C2168.8 940.5 2164.6 912.0 2167.4 903.9 Z" fill="#050505"/>
<path d="M2096.3 932.6 C2100.3 925.6 2113.3 922.7 2123.4 924.2 C2133.6 925.6 2152.2 932.6 2157.2 941.1 C2162.3 949.5 2159.5 968.4 2153.9 974.9 C2148.2 981.4 2132.4 981.4 2123.4 980.0 C2114.4 978.6 2104.2 974.3 2099.7 966.4 C2095.2 958.5 2092.4 939.7 2096.3 932.6 Z" fill="#0a0a0a"/>
<path d="M2054.1 856.5 C2057.2 845.5 2068.7 844.1 2072.7 849.7 C2076.6 855.4 2078.3 877.9 2077.7 890.3 C2077.2 902.7 2073.2 919.9 2069.3 924.2 C2065.3 928.4 2056.6 927.0 2054.1 915.7 C2051.5 904.4 2051.0 867.5 2054.1 856.5 Z" fill="#0a0a0a"/>
<path d="M2079.4 755.0 C2087.9 746.5 2127.9 749.4 2136.9 755.0 C2146.0 760.6 2137.5 779.5 2133.6 788.8 C2129.6 798.1 2121.2 808.0 2113.3 810.8 C2105.4 813.6 2091.8 815.0 2086.2 805.7 C2080.6 796.4 2071.0 763.5 2079.4 755.0 Z" fill="#0a0a0a"/>
<path d="M2197.8 755.0 C2202.1 748.0 2220.7 746.5 2224.9 755.0 C2229.1 763.5 2226.0 795.6 2223.2 805.7 C2220.4 815.9 2211.9 817.3 2208.0 815.9 C2204.0 814.5 2201.2 807.4 2199.5 797.3 C2197.8 787.1 2193.6 762.0 2197.8 755.0 Z" fill="#0a0a0a"/>
</g>

<g filter="url(#b1)">
<path d="M1918.2 758.0 C1928.9 752.9 1968.9 754.6 1977.4 758.0 C1985.8 761.4 1971.0 772.1 1968.9 778.3 C1966.8 784.5 1965.8 790.1 1964.7 795.2 C1963.6 800.3 1963.4 805.1 1962.2 808.7 C1960.9 812.4 1958.5 814.7 1957.1 817.2 C1955.7 819.7 1953.4 821.7 1953.7 824.0 C1954.0 826.2 1957.7 828.2 1958.8 830.7 C1959.9 833.3 1960.8 836.4 1960.5 839.2 C1960.2 842.0 1959.1 845.4 1957.1 847.7 C1955.1 849.9 1951.5 852.0 1948.6 852.7 C1945.8 853.4 1943.0 853.3 1940.2 851.9 C1937.4 850.5 1934.5 847.5 1931.7 844.3 C1928.9 841.0 1926.1 836.4 1923.3 832.4 C1920.4 828.5 1917.5 824.5 1914.8 820.6 C1912.1 816.6 1908.3 812.1 1907.2 808.7 C1906.1 805.4 1907.0 803.7 1908.0 800.3 C1909.0 796.9 1911.4 795.5 1913.1 788.4 C1914.8 781.4 1907.5 763.1 1918.2 758.0 Z" fill="#505050" stroke="#f4f4f4" stroke-width="3.7" stroke-linejoin="round"/>
<path d="M2329.5 758.0 C2338.5 755.2 2378.0 753.8 2388.7 758.0 C2399.4 762.2 2392.1 776.3 2393.8 783.4 C2395.5 790.4 2398.0 795.2 2398.9 800.3 C2399.7 805.4 2400.0 809.0 2398.9 813.8 C2397.8 818.6 2395.2 824.0 2392.1 829.0 C2389.0 834.1 2384.2 840.3 2380.3 844.3 C2376.3 848.2 2372.1 851.3 2368.4 852.7 C2364.8 854.1 2360.8 853.9 2358.3 852.7 C2355.7 851.6 2354.3 848.8 2353.2 846.0 C2352.1 843.1 2351.2 839.2 2351.5 835.8 C2351.8 832.4 2355.5 828.8 2354.9 825.7 C2354.3 822.6 2349.8 820.6 2348.1 817.2 C2346.4 813.8 2346.2 810.2 2344.8 805.4 C2343.3 800.6 2341.4 793.5 2339.7 788.4 C2338.0 783.4 2336.3 780.0 2334.6 774.9 C2332.9 769.8 2320.5 760.8 2329.5 758.0 Z" fill="#505050" stroke="#f4f4f4" stroke-width="3.7" stroke-linejoin="round"/>
<path d="M2018.0 949.1 C2013.8 951.7 2001.1 958.7 1992.6 964.4 C1984.2 970.0 1974.9 977.1 1967.2 983.0 C1959.6 988.9 1953.1 994.8 1946.9 999.9 C1940.7 1005.0 1932.8 1011.2 1930.0 1013.4" fill="none" stroke="#b0b0b0" stroke-width="3.7" stroke-linecap="round" stroke-linejoin="round"/>
<ellipse cx="1928.0" cy="1013.8" rx="5.4" ry="8.1" fill="#b0b0b0" transform="rotate(40.0 1928.0 1013.8)"/>
<path d="M2278.8 949.1 C2281.9 952.5 2291.2 961.8 2297.4 969.4 C2303.6 977.1 2309.8 987.2 2316.0 994.8 C2322.2 1002.4 2329.2 1008.9 2334.6 1015.1 C2340.0 1021.3 2345.9 1029.2 2348.1 1032.0" fill="none" stroke="#b0b0b0" stroke-width="3.7" stroke-linecap="round" stroke-linejoin="round"/>
<path d="M2033.2 758.0 C2041.1 755.2 2070.1 755.2 2075.5 758.0 C2080.9 760.8 2067.6 769.3 2065.3 774.9 C2063.1 780.6 2062.4 785.6 2062.0 791.8 C2061.5 798.0 2063.4 805.1 2062.8 812.1 C2062.2 819.2 2060.4 826.2 2058.6 834.1 C2056.7 842.0 2053.8 851.9 2051.8 859.5 C2049.8 867.1 2047.3 874.2 2046.7 879.8 C2046.2 885.4 2047.7 888.2 2048.4 893.3 C2049.1 898.4 2050.7 904.6 2051.0 910.2 C2051.3 915.9 2051.7 922.1 2050.1 927.2 C2048.6 932.2 2045.6 937.0 2041.7 940.7 C2037.7 944.4 2031.5 946.9 2026.4 949.1 C2021.4 951.4 2014.6 955.1 2011.2 954.2 C2007.8 953.4 2005.9 948.6 2006.1 944.1 C2006.4 939.6 2011.5 932.8 2012.9 927.2 C2014.3 921.5 2014.9 915.9 2014.6 910.2 C2014.3 904.6 2012.6 899.0 2011.2 893.3 C2009.8 887.7 2008.1 882.0 2006.1 876.4 C2004.2 870.8 2000.6 865.1 1999.4 859.5 C1998.1 853.9 1998.3 847.7 1998.5 842.6 C1998.8 837.5 1999.2 833.6 2001.1 829.0 C2002.9 824.5 2006.1 818.9 2009.5 815.5 C2012.9 812.1 2018.5 812.1 2021.4 808.7 C2024.2 805.4 2025.3 800.9 2026.4 795.2 C2027.6 789.6 2027.0 781.1 2028.1 774.9 C2029.3 768.7 2025.3 760.8 2033.2 758.0 Z" fill="#4c4c4c" stroke="#f4f4f4" stroke-width="3.7" stroke-linejoin="round"/>
<path d="M2224.7 758.0 C2229.4 754.6 2256.2 754.6 2263.6 758.0 C2270.9 761.4 2266.7 771.8 2268.6 778.3 C2270.6 784.8 2272.3 791.8 2275.4 796.9 C2278.5 802.0 2283.6 804.0 2287.2 808.7 C2290.9 813.5 2293.4 820.9 2297.4 825.7 C2301.3 830.5 2308.1 833.6 2310.9 837.5 C2313.7 841.4 2314.6 845.1 2314.3 849.3 C2314.0 853.6 2311.2 858.4 2309.2 862.9 C2307.3 867.4 2304.7 871.9 2302.5 876.4 C2300.2 880.9 2297.7 884.9 2295.7 889.9 C2293.7 895.0 2291.7 900.7 2290.6 906.9 C2289.5 913.1 2288.6 921.0 2288.9 927.2 C2289.2 933.4 2292.6 939.0 2292.3 944.1 C2292.0 949.1 2292.0 957.0 2287.2 957.6 C2282.4 958.2 2269.2 951.1 2263.6 947.5 C2257.9 943.8 2255.4 940.4 2253.4 935.6 C2251.4 930.8 2251.7 924.3 2251.7 918.7 C2251.7 913.1 2252.6 907.4 2253.4 901.8 C2254.3 896.1 2256.8 890.8 2256.8 884.9 C2256.8 878.9 2254.5 873.3 2253.4 866.3 C2252.3 859.2 2251.2 849.9 2250.0 842.6 C2248.9 835.2 2247.8 829.3 2246.6 822.3 C2245.5 815.2 2245.2 807.6 2243.3 800.3 C2241.3 793.0 2237.9 785.3 2234.8 778.3 C2231.7 771.3 2219.9 761.4 2224.7 758.0 Z" fill="#4c4c4c" stroke="#f4f4f4" stroke-width="3.7" stroke-linejoin="round"/>
<path d="M2029.8 764.8 C2029.4 769.8 2029.0 787.6 2027.3 795.2 C2025.6 802.8 2022.9 806.5 2019.7 810.4 C2016.4 814.4 2011.1 814.9 2007.8 818.9 C2004.6 822.8 2001.6 828.5 2000.2 834.1 C1998.8 839.8 1999.5 849.6 1999.4 852.7" fill="none" stroke="#f4f4f4" stroke-width="5.1" stroke-linecap="round" stroke-linejoin="round"/>
<path d="M2261.0 764.8 C2262.3 767.9 2266.0 777.7 2268.6 783.4 C2271.3 789.0 2273.7 794.1 2277.1 798.6 C2280.5 803.1 2284.7 805.4 2288.9 810.4 C2293.2 815.5 2298.7 823.7 2302.5 829.0 C2306.3 834.4 2310.2 840.3 2311.8 842.6" fill="none" stroke="#f4f4f4" stroke-width="5.1" stroke-linecap="round" stroke-linejoin="round"/>
<path d="M2143.7 755.0 C2149.3 748.0 2167.4 748.0 2172.5 755.0 C2177.5 762.0 2175.0 787.7 2174.2 797.3 C2173.3 806.9 2173.0 810.0 2167.4 812.5 C2161.7 815.0 2145.1 815.0 2140.3 812.5 C2135.5 810.0 2138.1 806.9 2138.6 797.3 C2139.2 787.7 2138.1 762.0 2143.7 755.0 Z" fill="url(#spine3)"/>
<path d="M2139.5 820.1 C2141.3 818.6 2148.6 818.6 2150.5 820.1 C2152.3 821.7 2151.4 827.1 2150.5 829.4 C2149.6 831.8 2146.9 834.2 2145.1 834.2 C2143.2 834.2 2140.4 831.8 2139.5 829.4 C2138.5 827.1 2137.6 821.7 2139.5 820.1 Z" fill="#fff"/>
<path d="M2163.2 820.1 C2165.0 818.6 2172.3 818.6 2174.2 820.1 C2176.0 821.7 2175.1 827.1 2174.2 829.4 C2173.3 831.8 2170.6 834.2 2168.7 834.2 C2166.9 834.2 2164.1 831.8 2163.2 829.4 C2162.2 827.1 2161.3 821.7 2163.2 820.1 Z" fill="#fff"/>
<ellipse cx="2131.0" cy="826.9" rx="7.6" ry="6.4" fill="#000"/>
<ellipse cx="2157.2" cy="828.6" rx="5.1" ry="6.1" fill="#000"/>
<ellipse cx="2180.1" cy="827.7" rx="4.4" ry="3.4" fill="#000"/>
<ellipse cx="2163.2" cy="853.6" rx="6.8" ry="3.9" fill="#fff"/>
<path d="M2131.9 852.3 L2152.2 853.1" fill="none" stroke="#aaa" stroke-width="3.7" stroke-linecap="round" stroke-linejoin="round"/>
<ellipse cx="2178.4" cy="853.1" rx="5.9" ry="3.4" fill="#000"/>
<ellipse cx="2126.8" cy="892.0" rx="15.2" ry="8.1" fill="#000" transform="rotate(25.0 2126.8 892.0)"/>
<ellipse cx="2099.7" cy="905.5" rx="16.1" ry="13.5" fill="#9a9a9a"/>
<ellipse cx="2131.9" cy="911.5" rx="8.1" ry="7.1" fill="#909090"/>
<ellipse cx="2126.8" cy="931.8" rx="8.8" ry="8.8" fill="#b0b0b0"/>
<ellipse cx="2084.5" cy="920.8" rx="6.8" ry="8.5" fill="#707070"/>
<path d="M2087.9 951.2 C2089.9 953.8 2095.6 961.5 2099.7 966.4 C2103.8 971.4 2110.3 978.4 2112.4 980.8" fill="none" stroke="#f0f0f0" stroke-width="7.4" stroke-linecap="round" stroke-linejoin="round"/>
<ellipse cx="2167.4" cy="932.6" rx="5.1" ry="6.8" fill="#aaa"/>
<ellipse cx="2175.8" cy="946.1" rx="7.6" ry="9.3" fill="#a0a0a0" transform="rotate(-30.0 2175.8 946.1)"/>
<ellipse cx="2184.3" cy="954.6" rx="5.1" ry="6.8" fill="#b0b0b0" transform="rotate(-30.0 2184.3 954.6)"/>
<ellipse cx="2169.9" cy="957.1" rx="2.2" ry="2.2" fill="#000"/>
<path d="M2113.3 1011.8 C2118.3 1011.7 2133.6 1011.2 2143.7 1011.3 C2153.9 1011.4 2169.1 1012.3 2174.2 1012.5" fill="none" stroke="#666" stroke-width="1.7" stroke-linecap="round" stroke-linejoin="round"/>
</g>
</g>
<circle cx="512.0" cy="158.6" r="16.9" fill="none" stroke="#ff0000" stroke-width="3.7"/>
<circle cx="678.6" cy="251.7" r="16.9" fill="none" stroke="#ff0000" stroke-width="3.7"/>
<circle cx="622.2" cy="336.5" r="16.9" fill="none" stroke="#ff0000" stroke-width="3.7"/>
<circle cx="665.4" cy="387.0" r="16.9" fill="none" stroke="#ff0000" stroke-width="3.7"/>
<circle cx="237.4" cy="208.7" r="16.9" fill="none" stroke="#ff0000" stroke-width="3.7"/>
<circle cx="193.7" cy="345.4" r="16.9" fill="none" stroke="#ff0000" stroke-width="3.7"/>
<circle cx="260.4" cy="336.9" r="16.9" fill="none" stroke="#ff0000" stroke-width="3.7"/>
<circle cx="268.7" cy="396.6" r="16.9" fill="none" stroke="#ff0000" stroke-width="3.7"/>
<ellipse cx="226.7" cy="342.5" rx="63.4" ry="30.5" fill="none" stroke="#00b050" stroke-width="3.3" transform="rotate(-1.7 226.9 342.3)"/>
<line x1="-0.6" y1="270.0" x2="898" y2="270.0" stroke="#0000ff" stroke-width="7.4" stroke-dasharray="7.4 6.53"/>
<line x1="-0.6" y1="631.6" x2="898" y2="631.6" stroke="#0000ff" stroke-width="7.4" stroke-dasharray="7.4 6.53"/>
<line x1="-0.6" y1="887.5" x2="898" y2="887.5" stroke="#0000ff" stroke-width="7.4" stroke-dasharray="7.4 6.53"/>
<text class="tt" y="48.9"><tspan x="274.2" textLength="276.4" lengthAdjust="spacingAndGlyphs">Registered</tspan> <tspan x="566.2" textLength="64.8" lengthAdjust="spacingAndGlyphs">CT</tspan></text>
<text class="tt" y="48.0"><tspan x="1124.5" textLength="260.0" lengthAdjust="spacingAndGlyphs">Corrected</tspan> <tspan x="1401.5" textLength="135.0" lengthAdjust="spacingAndGlyphs">CBCT</tspan></text>
<text class="tt" y="43.6"><tspan x="2041.6" textLength="104.4" lengthAdjust="spacingAndGlyphs">Raw</tspan> <tspan x="2168.0" textLength="133.8" lengthAdjust="spacingAndGlyphs">CBCT</tspan></text>
<g>
<clipPath id="cp0"><rect x="156.3" y="1078.3" width="646.2" height="597.7"/></clipPath>
<rect x="159.3" y="1079.8" width="640.2" height="593.7" fill="none" stroke="#757575" stroke-width="2.9"/>
<path d="M159.3 1673.5 v-5.6 M159.3 1079.8 v5.6 M284.3 1673.5 v-5.6 M284.3 1079.8 v5.6 M409.4 1673.5 v-5.6 M409.4 1079.8 v5.6 M534.4 1673.5 v-5.6 M534.4 1079.8 v5.6 M659.5 1673.5 v-5.6 M659.5 1079.8 v5.6 M784.5 1673.5 v-5.6 M784.5 1079.8 v5.6 M159.3 1673.5 h5.6 M799.5 1673.5 h-5.6 M159.3 1525.1 h5.6 M799.5 1525.1 h-5.6 M159.3 1376.7 h5.6 M799.5 1376.7 h-5.6 M159.3 1228.2 h5.6 M799.5 1228.2 h-5.6 M159.3 1079.8 h5.6 M799.5 1079.8 h-5.6" stroke="#5a5a5a" stroke-width="1.9" fill="none"/>
<g clip-path="url(#cp0)" fill="none" stroke-linejoin="round">
<path d="M159.3 1673.5 L288.0 1673.5 L290.1 1668.8 L291.3 1560.5 L292.1 1440.2 L294.1 1401.1 L297.1 1399.0 L300.1 1395.0 L302.1 1392.0 L304.1 1380.0 L303.7 1369.3 L306.3 1363.9 L311.0 1362.8 L315.4 1362.3 L317.8 1359.6 L319.8 1363.1 L322.5 1372.5 L325.1 1369.3 L328.0 1363.4 L331.9 1362.8 L335.8 1363.9 L339.7 1361.8 L342.9 1361.2 L346.8 1363.9 L349.9 1359.9 L352.3 1362.3 L354.6 1367.0 L357.0 1359.9 L358.5 1306.7 L360.1 1228.3 L362.4 1170.4 L364.0 1212.7 L366.4 1291.0 L368.7 1353.7 L370.6 1363.9 L372.6 1363.9 L374.2 1353.7 L376.5 1291.0 L378.9 1228.3 L380.1 1218.9 L381.6 1228.3 L383.6 1291.0 L385.9 1345.8 L388.3 1355.2 L391.4 1359.2 L394.6 1360.7 L398.5 1356.8 L403.2 1361.5 L406.3 1366.2 L409.4 1358.4 L412.6 1359.9 L416.5 1366.2 L420.4 1369.3 L422.8 1375.6 L424.3 1385.0 L426.7 1396.0 L428.0 1407.1 L430.4 1410.1 L433.4 1406.1 L436.4 1408.1 L439.4 1400.1 L440.8 1380.0 L441.6 1353.7 L442.3 1291.0 L443.1 1272.2 L445.5 1267.5 L450.2 1268.3 L454.9 1269.9 L459.6 1271.4 L464.3 1270.6 L469.0 1273.8 L472.1 1274.6 L475.2 1272.2 L478.4 1270.6 L481.5 1273.0 L483.9 1270.6 L486.2 1270.3 L488.6 1273.8 L490.1 1278.5 L491.7 1275.3 L493.3 1280.0 L494.8 1273.0 L496.4 1275.3 L493.9 1280.0 L495.5 1273.8 L496.6 1275.3 L497.8 1306.7 L499.4 1353.7 L501.0 1385.0 L502.5 1389.7 L504.1 1388.1 L504.9 1353.7 L506.5 1291.0 L508.0 1266.7 L510.4 1265.6 L513.5 1266.7 L515.1 1272.2 L516.6 1291.0 L518.2 1322.3 L520.6 1353.7 L522.9 1369.3 L525.3 1375.6 L527.6 1385.0 L529.2 1391.3 L531.5 1381.9 L533.9 1375.6 L535.7 1373.3 L538.6 1378.7 L541.7 1385.0 L544.1 1391.3 L547.2 1394.4 L549.5 1400.1 L552.7 1406.1 L555.7 1404.1 L558.8 1401.1 L561.8 1406.1 L564.8 1408.1 L566.8 1400.1 L568.8 1390.0 L570.8 1380.0 L573.0 1367.0 L575.4 1365.4 L577.0 1369.3 L578.5 1385.0 L580.1 1381.9 L581.7 1369.3 L583.2 1360.7 L585.6 1359.9 L587.9 1363.1 L590.3 1361.5 L593.4 1359.2 L596.5 1357.6 L598.9 1356.8 L601.2 1355.2 L603.6 1359.9 L605.9 1364.6 L607.5 1322.3 L609.1 1291.0 L610.6 1266.7 L612.2 1265.2 L613.8 1275.3 L615.3 1291.0 L617.7 1298.8 L620.0 1300.4 L621.6 1275.3 L623.2 1244.0 L624.7 1230.7 L626.3 1244.0 L627.9 1291.0 L629.4 1338.0 L631.0 1369.3 L632.6 1370.9 L634.9 1363.9 L637.3 1362.3 L642.0 1363.1 L646.7 1363.9 L651.4 1363.1 L656.1 1365.4 L659.2 1369.3 L661.6 1371.7 L663.9 1366.2 L667.0 1363.9 L671.7 1363.1 L676.4 1362.8 L678.0 1364.6 L679.6 1372.5 L681.1 1385.0 L682.4 1400.1 L685.1 1403.1 L689.1 1403.7 L693.1 1401.1 L695.1 1406.1 L696.1 1430.1 L697.1 1450.2 L698.1 1520.4 L699.1 1673.5 L799.5 1673.5" stroke="#0072bd" stroke-width="4.6"/>
<path d="M159.3 1673.5 L287.0 1673.5 L289.0 1660.7 L291.1 1520.4 L293.1 1444.2 L296.1 1434.1 L300.1 1426.1 L303.1 1406.1 L306.1 1392.0 L310.1 1380.0 L310.7 1378.0 L314.7 1374.0 L318.6 1371.7 L323.3 1369.3 L326.4 1364.6 L329.5 1362.3 L333.5 1365.4 L336.6 1364.6 L339.7 1362.3 L342.9 1365.4 L346.8 1369.3 L349.9 1373.3 L354.6 1372.5 L358.5 1371.7 L360.1 1338.0 L361.7 1291.0 L364.0 1251.8 L365.9 1248.7 L367.9 1275.3 L370.3 1306.7 L372.6 1327.0 L375.0 1319.2 L377.3 1306.7 L379.7 1287.9 L381.6 1281.6 L383.6 1298.8 L385.2 1330.2 L386.7 1353.7 L389.1 1359.2 L393.0 1355.2 L396.9 1354.5 L400.0 1356.8 L403.2 1367.8 L405.5 1359.9 L408.7 1350.5 L411.8 1355.2 L414.9 1361.5 L418.1 1366.2 L421.2 1369.3 L422.8 1385.0 L425.1 1400.1 L427.5 1396.0 L429.8 1392.1 L432.9 1386.6 L435.3 1392.8 L437.6 1399.1 L439.2 1394.4 L440.0 1353.7 L440.8 1291.0 L442.3 1259.7 L444.7 1255.0 L447.8 1257.3 L451.7 1259.7 L455.7 1261.2 L459.6 1262.8 L463.5 1266.7 L467.4 1273.8 L471.3 1278.5 L475.2 1281.6 L479.9 1284.7 L484.6 1287.9 L489.3 1289.4 L494.0 1289.4 L496.4 1284.7 L490.0 1287.9 L493.1 1286.3 L496.3 1284.7 L497.8 1294.1 L499.4 1306.7 L501.0 1338.0 L503.3 1361.5 L504.9 1338.0 L506.5 1314.5 L508.8 1291.0 L511.2 1283.2 L513.5 1280.0 L515.9 1283.2 L517.4 1291.0 L519.0 1306.7 L520.6 1338.0 L522.1 1366.2 L524.5 1375.6 L526.8 1381.9 L528.4 1394.4 L529.6 1406.0 L532.3 1402.2 L535.4 1389.7 L537.8 1383.4 L540.1 1381.9 L542.5 1386.6 L544.8 1394.4 L547.2 1400.1 L550.7 1405.1 L554.7 1408.1 L558.8 1406.1 L562.8 1408.1 L565.8 1404.1 L567.8 1392.0 L569.8 1380.0 L570.7 1380.3 L573.8 1377.2 L576.2 1375.6 L579.3 1372.5 L582.4 1369.3 L585.6 1372.5 L588.7 1375.6 L591.8 1373.3 L595.0 1367.8 L598.1 1363.1 L600.5 1359.9 L602.8 1363.1 L605.2 1367.8 L606.7 1338.0 L608.3 1306.7 L609.9 1283.2 L611.4 1278.5 L613.0 1291.0 L615.3 1303.5 L617.7 1306.7 L620.0 1308.2 L621.6 1283.2 L623.2 1270.6 L624.7 1275.3 L626.3 1306.7 L627.9 1353.7 L629.4 1377.2 L631.0 1385.0 L633.4 1380.3 L635.7 1375.6 L638.8 1372.5 L642.0 1375.6 L645.1 1377.2 L648.2 1372.5 L651.4 1364.6 L654.5 1363.1 L657.6 1361.5 L660.0 1359.2 L662.3 1364.6 L665.5 1367.0 L669.4 1368.6 L673.3 1370.9 L677.2 1372.5 L679.6 1375.6 L681.9 1380.3 L684.3 1389.7 L685.8 1400.1 L688.1 1414.1 L691.1 1430.1 L694.1 1446.2 L696.1 1480.3 L698.1 1540.4 L700.1 1620.6 L701.5 1660.7 L702.7 1673.5 L799.5 1673.5" stroke="#e2420f" stroke-width="4.6" stroke-dasharray="4.4 4.2"/>
<path d="M159.3 1673.5 L289.0 1673.5 L291.1 1580.5 L292.5 1520.4 L295.1 1492.3 L298.1 1488.3 L302.1 1485.3 L304.1 1460.2 L307.1 1446.2 L313.1 1436.1 L320.1 1427.1 L324.1 1425.1 L328.2 1414.1 L332.2 1410.1 L339.2 1405.1 L344.2 1407.1 L350.2 1411.1 L358.2 1405.1 L361.2 1400.1 L361.8 1380.0 L362.4 1353.7 L363.7 1298.8 L365.6 1291.0 L367.5 1306.7 L369.5 1338.0 L371.8 1358.4 L374.2 1359.9 L377.3 1345.8 L379.7 1330.2 L381.6 1327.0 L383.6 1338.0 L385.6 1369.3 L386.7 1380.3 L389.9 1378.7 L393.8 1372.5 L396.9 1371.7 L400.8 1380.3 L403.2 1385.0 L405.5 1375.6 L408.7 1371.7 L411.8 1375.6 L414.9 1383.4 L418.8 1389.7 L422.8 1400.1 L424.4 1413.1 L428.4 1414.1 L431.4 1410.1 L435.4 1413.1 L438.4 1413.1 L440.4 1400.1 L440.8 1380.0 L441.9 1353.7 L442.3 1291.0 L444.7 1290.2 L447.8 1293.4 L451.7 1298.1 L455.7 1297.3 L460.4 1301.2 L464.3 1306.7 L468.2 1312.9 L472.1 1316.1 L476.8 1319.2 L481.5 1322.3 L486.2 1325.5 L490.9 1326.3 L495.6 1322.3 L490.0 1327.0 L496.3 1320.0 L498.6 1320.8 L500.2 1353.7 L501.8 1369.3 L503.3 1366.2 L504.9 1381.9 L507.2 1385.0 L508.8 1353.7 L510.4 1322.3 L512.7 1312.9 L515.9 1317.6 L518.2 1353.7 L520.6 1385.0 L522.1 1394.4 L524.5 1399.1 L527.7 1423.1 L530.7 1425.1 L533.7 1423.1 L536.7 1410.1 L540.7 1406.1 L543.7 1412.1 L548.7 1420.1 L553.7 1429.1 L558.8 1425.1 L561.8 1429.1 L564.8 1427.1 L566.8 1414.1 L570.8 1404.1 L576.8 1398.0 L582.4 1389.7 L587.1 1389.7 L591.8 1386.6 L596.5 1383.4 L599.7 1377.2 L602.8 1381.1 L605.2 1375.6 L606.7 1353.7 L608.3 1322.3 L610.6 1320.0 L613.0 1325.5 L615.3 1338.0 L617.7 1344.3 L620.0 1344.3 L621.6 1322.3 L623.2 1311.4 L624.7 1322.3 L626.3 1369.3 L627.9 1400.1 L631.9 1420.1 L633.9 1426.1 L637.0 1420.1 L641.0 1433.1 L645.0 1438.2 L650.0 1440.2 L655.0 1444.2 L659.0 1439.2 L663.0 1444.2 L669.0 1445.2 L675.1 1447.2 L681.1 1452.2 L684.1 1460.2 L687.1 1480.3 L691.1 1496.3 L694.1 1508.3 L696.1 1512.3 L698.1 1580.5 L699.1 1673.5 L799.5 1673.5" stroke="#edb120" stroke-width="4.6"/>
</g>
<text class="tk" x="158.5" y="1719.3" text-anchor="middle">0</text>
<text class="tk" x="283.5" y="1719.3" text-anchor="middle">100</text>
<text class="tk" x="408.6" y="1719.3" text-anchor="middle">200</text>
<text class="tk" x="533.6" y="1719.3" text-anchor="middle">300</text>
<text class="tk" x="658.7" y="1719.3" text-anchor="middle">400</text>
<text class="tk" x="783.7" y="1719.3" text-anchor="middle">500</text>
<text class="tk" x="146.1" y="1687.0" text-anchor="end">-1000</text>
<text class="tk" x="146.1" y="1538.6" text-anchor="end">-500</text>
<text class="tk" x="146.1" y="1390.2" text-anchor="end">0</text>
<text class="tk" x="146.1" y="1241.7" text-anchor="end">500</text>
<text class="tk" x="146.1" y="1093.3" text-anchor="end">1000</text>
<text class="lb" x="480.0" y="1765.6" text-anchor="middle">pixels</text>
<text class="lb" transform="translate(46.3 1377) rotate(-90)" text-anchor="middle" textLength="250" lengthAdjust="spacingAndGlyphs">CT number/HU</text>
<rect x="478.8" y="1080.3" width="320.7" height="116.1" fill="#fff" stroke="#3a3a3a" stroke-width="2.4"/>
<line x1="485.8" y1="1101.5" x2="555.4" y2="1101.5" stroke="#0072bd" stroke-width="4.6"/>
<text class="lg" x="562.5" y="1112.7">Registered CT</text>
<line x1="485.8" y1="1138.2" x2="555.4" y2="1138.2" stroke="#e2420f" stroke-width="4.6" stroke-dasharray="4.4 4.9"/>
<text class="lg" x="562.5" y="1149.5">Corrected CBCT</text>
<line x1="485.8" y1="1175.3" x2="555.4" y2="1175.3" stroke="#edb120" stroke-width="4.6"/>
<text class="lg" x="562.5" y="1187.5">Raw CBCT</text>
</g>
<g>
<clipPath id="cp1"><rect x="1001.5" y="1078.3" width="646.8" height="597.7"/></clipPath>
<rect x="1004.5" y="1079.8" width="640.8" height="593.7" fill="none" stroke="#757575" stroke-width="2.9"/>
<path d="M1004.5 1673.5 v-5.6 M1004.5 1079.8 v5.6 M1129.7 1673.5 v-5.6 M1129.7 1079.8 v5.6 M1254.8 1673.5 v-5.6 M1254.8 1079.8 v5.6 M1380.0 1673.5 v-5.6 M1380.0 1079.8 v5.6 M1505.1 1673.5 v-5.6 M1505.1 1079.8 v5.6 M1630.3 1673.5 v-5.6 M1630.3 1079.8 v5.6 M1004.5 1673.5 h5.6 M1645.3 1673.5 h-5.6 M1004.5 1525.1 h5.6 M1645.3 1525.1 h-5.6 M1004.5 1376.7 h5.6 M1645.3 1376.7 h-5.6 M1004.5 1228.2 h5.6 M1645.3 1228.2 h-5.6 M1004.5 1079.8 h5.6 M1645.3 1079.8 h-5.6" stroke="#5a5a5a" stroke-width="1.9" fill="none"/>
<g clip-path="url(#cp1)" fill="none" stroke-linejoin="round">
<path d="M1004.5 1673.5 L1251.1 1673.5 L1252.5 1540.4 L1253.7 1440.2 L1254.7 1400.1 L1256.1 1399.0 L1257.8 1408.1 L1258.5 1406.8 L1261.2 1405.2 L1265.1 1403.7 L1269.0 1402.9 L1272.1 1400.5 L1274.5 1395.8 L1276.0 1380.2 L1278.4 1366.1 L1280.7 1361.4 L1283.9 1361.4 L1285.7 1366.1 L1287.0 1380.2 L1288.6 1400.5 L1290.4 1406.8 L1293.3 1403.7 L1296.4 1399.0 L1298.8 1394.3 L1300.3 1372.3 L1301.1 1325.3 L1302.4 1278.3 L1303.9 1265.0 L1305.8 1265.8 L1307.4 1272.1 L1309.7 1274.4 L1312.1 1270.5 L1314.4 1266.6 L1316.8 1268.9 L1319.1 1271.3 L1321.5 1268.9 L1323.8 1267.7 L1326.2 1272.1 L1328.5 1273.6 L1330.9 1268.9 L1333.2 1264.2 L1335.6 1261.9 L1337.9 1264.2 L1340.3 1262.7 L1342.6 1261.1 L1344.2 1262.7 L1345.8 1278.3 L1347.3 1309.7 L1349.7 1341.0 L1352.0 1364.5 L1354.4 1373.9 L1356.7 1375.5 L1358.3 1366.1 L1360.6 1358.2 L1363.8 1357.5 L1367.7 1356.7 L1371.6 1355.1 L1374.0 1356.7 L1376.3 1359.8 L1378.7 1359.8 L1380.2 1366.1 L1382.6 1369.2 L1384.9 1371.6 L1386.5 1377.0 L1387.6 1388.0 L1388.5 1419.3 L1389.2 1450.1 L1389.5 1540.4 L1390.5 1660.7 L1392.5 1662.7 L1395.5 1666.7 L1398.5 1668.8 L1401.5 1665.7 L1403.5 1666.7 L1405.5 1668.8 L1407.5 1664.7 L1408.5 1540.4 L1409.9 1450.2 L1409.7 1403.7 L1410.7 1372.3 L1411.8 1366.1 L1413.3 1369.2 L1415.7 1377.0 L1418.0 1388.0 L1419.6 1399.8 L1421.9 1399.0 L1423.5 1380.2 L1425.9 1366.1 L1429.0 1361.4 L1432.1 1359.0 L1435.3 1360.6 L1438.4 1362.2 L1440.7 1364.5 L1442.3 1372.3 L1443.9 1384.9 L1447.0 1391.1 L1450.1 1393.5 L1452.5 1392.7 L1454.1 1397.4 L1456.4 1402.1 L1459.5 1402.1 L1461.1 1394.3 L1463.5 1388.0 L1465.8 1384.1 L1467.4 1372.3 L1468.6 1341.0 L1469.7 1317.5 L1471.3 1306.5 L1473.6 1303.4 L1475.2 1301.8 L1476.5 1309.7 L1477.6 1325.3 L1478.7 1336.3 L1479.9 1309.7 L1481.2 1262.7 L1482.3 1223.5 L1483.8 1214.9 L1485.4 1223.5 L1486.5 1262.7 L1487.7 1309.7 L1489.0 1341.0 L1490.6 1364.5 L1492.4 1377.0 L1494.0 1383.3 L1496.4 1392.7 L1497.9 1394.3 L1499.0 1388.0 L1500.3 1381.0 L1501.5 1388.0 L1502.6 1403.7 L1503.4 1419.3 L1504.2 1450.1 L1504.8 1540.4 L1505.8 1668.8 L1508.8 1669.8 L1509.8 1673.5 L1645.3 1673.5" stroke="#0072bd" stroke-width="4.6"/>
<path d="M1004.5 1673.5 L1224.1 1673.5 L1227.1 1668.8 L1231.1 1664.7 L1235.1 1664.3 L1239.1 1666.7 L1243.1 1669.8 L1245.7 1660.7 L1247.7 1652.7 L1249.1 1660.7 L1250.5 1668.8 L1251.7 1640.7 L1253.1 1540.4 L1254.5 1450.2 L1255.7 1425.6 L1257.2 1419.3 L1259.6 1414.6 L1262.7 1411.5 L1265.9 1408.4 L1269.0 1405.2 L1272.1 1401.3 L1274.5 1395.8 L1276.3 1380.2 L1278.4 1370.8 L1280.4 1369.2 L1283.1 1372.3 L1285.4 1377.0 L1287.0 1388.0 L1288.6 1402.1 L1290.1 1407.6 L1293.3 1403.7 L1296.4 1399.8 L1299.5 1391.1 L1301.1 1372.3 L1301.9 1325.3 L1302.7 1297.1 L1304.2 1292.4 L1307.4 1287.7 L1311.3 1284.6 L1315.2 1283.0 L1318.3 1281.5 L1320.7 1275.2 L1323.0 1278.3 L1325.4 1283.0 L1328.5 1281.5 L1330.9 1273.6 L1334.0 1271.3 L1337.1 1268.9 L1340.3 1265.0 L1342.6 1260.3 L1345.0 1258.8 L1347.3 1261.9 L1348.4 1278.3 L1349.7 1301.8 L1351.6 1325.3 L1353.6 1348.8 L1355.9 1356.7 L1358.3 1362.9 L1360.6 1366.1 L1363.0 1362.9 L1365.3 1361.4 L1368.5 1359.8 L1371.6 1361.4 L1374.7 1367.6 L1377.1 1375.5 L1378.7 1384.9 L1380.2 1395.8 L1381.8 1388.0 L1383.4 1392.7 L1384.9 1403.7 L1386.0 1419.3 L1387.0 1450.1 L1387.5 1500.3 L1388.9 1560.5 L1390.5 1576.5 L1392.5 1590.5 L1394.5 1600.6 L1396.5 1598.6 L1398.1 1606.6 L1399.5 1614.6 L1400.9 1604.6 L1402.5 1590.5 L1404.1 1560.5 L1405.5 1500.3 L1407.5 1440.2 L1410.2 1403.7 L1411.0 1369.2 L1412.5 1361.4 L1414.1 1366.1 L1416.5 1373.9 L1418.8 1380.2 L1420.8 1386.4 L1422.7 1378.6 L1425.1 1369.2 L1427.4 1364.5 L1430.6 1363.7 L1433.7 1366.1 L1436.8 1369.2 L1439.2 1375.5 L1441.5 1383.3 L1443.9 1388.0 L1446.2 1389.6 L1448.6 1395.8 L1451.7 1400.5 L1454.8 1405.2 L1458.0 1403.7 L1461.1 1399.0 L1463.5 1391.1 L1465.8 1386.4 L1468.2 1383.3 L1470.5 1377.0 L1472.4 1366.1 L1474.4 1359.8 L1476.0 1366.1 L1477.6 1372.3 L1479.1 1356.7 L1480.7 1341.0 L1482.3 1325.3 L1483.4 1294.0 L1484.3 1276.8 L1485.4 1294.0 L1486.2 1325.3 L1487.0 1356.7 L1488.5 1372.3 L1490.9 1383.3 L1493.2 1389.6 L1495.6 1395.8 L1497.9 1402.1 L1500.3 1406.8 L1502.6 1409.9 L1505.0 1406.8 L1506.5 1409.9 L1508.1 1419.3 L1509.4 1435.0 L1510.0 1450.1 L1510.8 1500.3 L1511.8 1540.4 L1512.8 1580.5 L1514.4 1620.6 L1515.8 1638.7 L1517.8 1646.7 L1519.8 1640.7 L1521.8 1628.6 L1523.8 1636.7 L1525.9 1640.7 L1527.9 1632.7 L1529.9 1626.6 L1531.9 1610.6 L1533.9 1590.5 L1535.9 1578.5 L1537.9 1600.6 L1539.3 1640.7 L1540.5 1673.5 L1645.3 1673.5" stroke="#e2420f" stroke-width="4.6" stroke-dasharray="4.4 4.2"/>
<path d="M1004.5 1673.5 L1250.1 1673.5 L1252.5 1640.7 L1253.7 1540.4 L1255.1 1436.1 L1257.1 1430.1 L1258.0 1427.2 L1261.2 1422.5 L1265.1 1417.8 L1269.0 1413.1 L1272.9 1409.9 L1275.7 1406.8 L1276.8 1388.0 L1278.4 1378.6 L1280.7 1377.0 L1283.9 1380.2 L1286.2 1388.0 L1287.8 1400.5 L1290.1 1403.7 L1293.3 1399.0 L1296.4 1392.7 L1299.2 1384.9 L1300.3 1356.7 L1301.4 1325.3 L1302.7 1300.3 L1305.0 1301.8 L1308.2 1305.0 L1311.3 1308.1 L1314.4 1311.2 L1316.8 1312.8 L1318.3 1309.7 L1320.7 1307.3 L1322.3 1314.4 L1324.6 1323.8 L1327.0 1322.2 L1330.1 1315.9 L1332.4 1319.1 L1335.6 1322.2 L1338.7 1320.6 L1341.8 1319.1 L1345.0 1317.5 L1346.9 1319.1 L1348.1 1341.0 L1349.7 1364.5 L1351.6 1380.2 L1353.6 1388.0 L1356.7 1391.1 L1359.1 1398.2 L1362.2 1399.0 L1365.3 1399.8 L1368.5 1402.9 L1371.6 1409.9 L1374.0 1417.0 L1376.3 1419.3 L1378.7 1425.6 L1381.0 1435.0 L1383.4 1444.4 L1384.9 1450.1 L1386.5 1452.2 L1387.9 1540.4 L1389.5 1673.5 L1405.5 1673.5 L1407.5 1540.4 L1409.5 1460.2 L1411.6 1430.1 L1412.5 1430.3 L1415.7 1429.5 L1418.8 1430.3 L1421.9 1425.6 L1424.3 1417.0 L1427.4 1415.4 L1431.3 1415.9 L1435.3 1415.0 L1438.4 1417.0 L1440.7 1422.5 L1443.1 1425.6 L1445.4 1423.3 L1447.8 1422.5 L1450.1 1425.6 L1453.3 1426.4 L1456.4 1425.6 L1459.5 1426.4 L1462.7 1423.3 L1465.0 1417.8 L1468.2 1417.0 L1471.3 1413.9 L1473.6 1413.1 L1475.2 1419.3 L1476.8 1431.9 L1478.3 1438.1 L1479.9 1441.3 L1481.2 1419.3 L1482.3 1395.8 L1483.8 1381.7 L1485.4 1395.8 L1486.5 1427.2 L1487.7 1441.3 L1489.3 1449.1 L1490.8 1449.2 L1493.8 1448.2 L1496.8 1451.2 L1499.8 1454.2 L1502.8 1452.2 L1504.8 1450.2 L1505.8 1540.4 L1506.8 1673.5 L1645.3 1673.5" stroke="#edb120" stroke-width="4.6"/>
</g>
<text class="tk" x="1003.7" y="1719.3" text-anchor="middle">0</text>
<text class="tk" x="1128.9" y="1719.3" text-anchor="middle">100</text>
<text class="tk" x="1254.0" y="1719.3" text-anchor="middle">200</text>
<text class="tk" x="1379.2" y="1719.3" text-anchor="middle">300</text>
<text class="tk" x="1504.3" y="1719.3" text-anchor="middle">400</text>
<text class="tk" x="1629.5" y="1719.3" text-anchor="middle">500</text>
<text class="tk" x="991.3" y="1687.0" text-anchor="end">-1000</text>
<text class="tk" x="991.3" y="1538.6" text-anchor="end">-500</text>
<text class="tk" x="991.3" y="1390.2" text-anchor="end">0</text>
<text class="tk" x="991.3" y="1241.7" text-anchor="end">500</text>
<text class="tk" x="991.3" y="1093.3" text-anchor="end">1000</text>
<text class="lb" x="1325.5" y="1765.6" text-anchor="middle">pixels</text>
<text class="lb" transform="translate(891.5 1377) rotate(-90)" text-anchor="middle" textLength="250" lengthAdjust="spacingAndGlyphs">CT number/HU</text>
<rect x="1324.6" y="1080.3" width="320.7" height="116.1" fill="#fff" stroke="#3a3a3a" stroke-width="2.4"/>
<line x1="1331.6" y1="1101.5" x2="1401.2" y2="1101.5" stroke="#0072bd" stroke-width="4.6"/>
<text class="lg" x="1408.3" y="1112.7">Registered CT</text>
<line x1="1331.6" y1="1138.2" x2="1401.2" y2="1138.2" stroke="#e2420f" stroke-width="4.6" stroke-dasharray="4.4 4.9"/>
<text class="lg" x="1408.3" y="1149.5">Corrected CBCT</text>
<line x1="1331.6" y1="1175.3" x2="1401.2" y2="1175.3" stroke="#edb120" stroke-width="4.6"/>
<text class="lg" x="1408.3" y="1187.5">Raw CBCT</text>
</g>
<g>
<clipPath id="cp2"><rect x="1846.7" y="1078.3" width="647.4" height="597.7"/></clipPath>
<rect x="1849.7" y="1079.8" width="641.4" height="593.7" fill="none" stroke="#757575" stroke-width="2.9"/>
<path d="M1849.7 1673.5 v-5.6 M1849.7 1079.8 v5.6 M1975.0 1673.5 v-5.6 M1975.0 1079.8 v5.6 M2100.2 1673.5 v-5.6 M2100.2 1079.8 v5.6 M2225.5 1673.5 v-5.6 M2225.5 1079.8 v5.6 M2350.8 1673.5 v-5.6 M2350.8 1079.8 v5.6 M2476.1 1673.5 v-5.6 M2476.1 1079.8 v5.6 M1849.7 1673.5 h5.6 M2491.1 1673.5 h-5.6 M1849.7 1525.1 h5.6 M2491.1 1525.1 h-5.6 M1849.7 1376.7 h5.6 M2491.1 1376.7 h-5.6 M1849.7 1228.2 h5.6 M2491.1 1228.2 h-5.6 M1849.7 1079.8 h5.6 M2491.1 1079.8 h-5.6" stroke="#5a5a5a" stroke-width="1.9" fill="none"/>
<g clip-path="url(#cp2)" fill="none" stroke-linejoin="round">
<path d="M1849.7 1673.5 L1974.4 1673.5 L1975.7 1613.0 L1975.7 1449.0 L1976.3 1405.2 L1977.0 1377.0 L1978.2 1382.6 L1979.5 1405.2 L1982.6 1405.2 L1985.7 1408.3 L1988.9 1409.6 L1991.4 1406.4 L1993.9 1401.4 L1996.4 1398.3 L1998.9 1397.7 L2000.1 1386.4 L2001.4 1371.3 L2003.3 1363.8 L2005.2 1360.1 L2007.7 1359.1 L2010.2 1360.7 L2012.7 1361.9 L2016.4 1363.8 L2020.2 1365.7 L2022.7 1367.0 L2025.2 1361.3 L2027.7 1356.9 L2029.6 1358.2 L2031.5 1361.9 L2034.0 1363.2 L2036.5 1362.6 L2038.4 1366.3 L2040.2 1377.6 L2042.1 1388.9 L2044.6 1397.7 L2047.7 1403.3 L2050.9 1405.2 L2053.4 1402.7 L2055.3 1392.6 L2056.5 1373.9 L2057.8 1358.8 L2059.7 1353.2 L2062.2 1354.4 L2065.3 1355.7 L2069.0 1356.3 L2072.8 1355.7 L2075.9 1353.8 L2077.8 1353.2 L2078.4 1330.0 L2080.7 1280.5 L2082.8 1175.3 L2084.2 1122.6 L2085.4 1079.1 L2086.3 1063.0 L2087.2 1079.1 L2088.2 1122.6 L2089.5 1175.3 L2090.9 1210.4 L2092.5 1227.9 L2094.2 1234.0 L2095.6 1226.1 L2097.4 1215.6 L2099.1 1220.9 L2100.9 1224.4 L2102.3 1210.4 L2103.5 1140.2 L2105.3 1091.9 L2107.0 1140.2 L2107.9 1210.4 L2108.8 1280.5 L2109.6 1329.6 L2108.5 1367.6 L2109.8 1392.6 L2111.6 1397.7 L2114.2 1395.2 L2116.7 1393.9 L2119.2 1395.8 L2121.7 1401.4 L2124.2 1405.2 L2126.1 1400.2 L2127.9 1391.4 L2130.4 1388.9 L2133.6 1387.0 L2136.7 1383.9 L2139.2 1380.1 L2141.7 1373.9 L2144.2 1365.1 L2145.5 1348.8 L2146.7 1330.0 L2146.5 1315.6 L2148.2 1280.5 L2150.9 1256.0 L2153.5 1248.1 L2155.6 1256.0 L2157.0 1280.5 L2157.9 1315.6 L2156.8 1330.0 L2158.0 1348.8 L2159.3 1365.1 L2161.1 1366.3 L2163.6 1365.7 L2164.9 1373.9 L2166.1 1392.6 L2167.4 1411.4 L2168.7 1429.0 L2169.5 1431.5 L2171.2 1417.7 L2173.0 1402.7 L2175.5 1392.6 L2178.1 1385.1 L2180.6 1377.6 L2183.7 1367.6 L2186.2 1365.7 L2189.3 1366.3 L2193.1 1365.1 L2196.8 1367.6 L2200.6 1370.1 L2204.4 1367.6 L2208.1 1368.8 L2211.3 1370.7 L2215.1 1370.1 L2218.2 1365.1 L2221.3 1361.3 L2224.5 1360.1 L2227.6 1360.7 L2230.7 1363.8 L2233.9 1367.0 L2237.0 1366.3 L2238.9 1365.7 L2240.7 1368.8 L2242.6 1377.6 L2244.5 1390.1 L2246.4 1380.1 L2248.3 1375.1 L2249.9 1380.1 L2251.4 1392.6 L2252.6 1407.7 L2254.5 1400.2 L2255.8 1386.4 L2257.7 1410.2 L2259.5 1392.6 L2260.8 1380.1 L2262.0 1361.3 L2263.3 1330.0 L2265.8 1245.4 L2267.0 1175.3 L2268.2 1157.7 L2269.6 1192.8 L2271.4 1245.4 L2273.2 1277.0 L2275.8 1282.3 L2277.5 1291.1 L2279.3 1313.9 L2281.9 1298.1 L2283.7 1263.0 L2285.1 1227.9 L2286.8 1192.8 L2287.7 1157.7 L2288.4 1122.6 L2289.5 1079.1 L2290.7 1059.5 L2291.9 1079.1 L2292.8 1122.6 L2293.5 1157.7 L2294.2 1192.8 L2295.6 1227.9 L2296.8 1263.0 L2297.7 1315.6 L2297.7 1348.8 L2300.3 1355.1 L2303.4 1356.9 L2306.5 1356.3 L2309.0 1355.7 L2311.5 1356.3 L2314.0 1358.2 L2315.3 1365.1 L2316.5 1380.1 L2318.4 1395.2 L2320.3 1403.9 L2322.2 1405.2 L2324.1 1403.3 L2325.9 1397.7 L2327.8 1388.9 L2330.3 1380.1 L2332.8 1370.1 L2335.3 1363.2 L2338.5 1359.4 L2341.6 1358.2 L2344.7 1358.2 L2347.9 1360.1 L2351.0 1361.9 L2354.1 1362.6 L2357.3 1360.7 L2360.4 1361.3 L2362.9 1363.2 L2364.8 1367.6 L2366.0 1380.1 L2367.9 1395.2 L2369.8 1405.2 L2371.7 1408.3 L2374.2 1403.9 L2376.1 1405.2 L2378.6 1407.7 L2381.7 1410.8 L2384.8 1412.1 L2388.0 1411.4 L2389.8 1405.2 L2391.1 1386.4 L2392.3 1380.7 L2393.6 1386.4 L2394.5 1405.2 L2395.2 1442.8 L2395.7 1492.9 L2396.0 1590.4 L2396.5 1673.5 L2491.1 1673.5" stroke="#0072bd" stroke-width="4.6"/>
<path d="M1849.7 1673.5 L1955.8 1673.5 L1962.6 1670.6 L1967.1 1667.2 L1969.8 1658.2 L1971.6 1644.6 L1973.0 1613.0 L1973.9 1567.8 L1974.4 1500.0 L1975.7 1449.0 L1976.3 1417.7 L1977.6 1410.2 L1979.5 1408.3 L1980.7 1403.3 L1983.2 1404.5 L1986.4 1405.8 L1989.5 1402.7 L1992.0 1396.4 L1994.1 1388.9 L1995.8 1380.1 L1997.0 1371.3 L1998.9 1368.8 L2001.4 1365.1 L2003.3 1362.6 L2005.8 1367.6 L2008.3 1368.8 L2010.2 1365.1 L2012.0 1360.7 L2015.2 1361.3 L2018.3 1363.2 L2021.4 1364.5 L2023.9 1363.8 L2026.5 1359.4 L2029.0 1353.8 L2030.8 1348.8 L2032.7 1345.0 L2034.6 1344.4 L2037.1 1347.5 L2039.6 1351.3 L2042.1 1357.6 L2044.0 1363.8 L2045.9 1373.9 L2047.7 1382.6 L2050.3 1387.6 L2052.8 1388.9 L2054.6 1385.1 L2056.3 1373.9 L2057.5 1360.1 L2059.0 1354.4 L2061.5 1354.4 L2065.3 1355.7 L2068.4 1357.6 L2072.2 1357.8 L2075.3 1356.9 L2077.2 1356.9 L2078.4 1330.0 L2080.7 1280.5 L2081.9 1210.4 L2083.3 1157.7 L2084.7 1142.8 L2086.0 1157.7 L2087.2 1192.8 L2088.6 1227.9 L2090.0 1254.2 L2091.2 1271.8 L2092.5 1285.8 L2093.5 1292.8 L2094.7 1271.8 L2096.0 1227.9 L2097.4 1192.8 L2098.8 1157.7 L2099.6 1149.8 L2101.2 1161.2 L2103.0 1168.2 L2104.7 1157.7 L2106.1 1152.5 L2107.5 1175.3 L2108.4 1227.9 L2109.3 1280.5 L2110.0 1329.6 L2111.0 1355.1 L2112.3 1380.1 L2113.5 1393.9 L2115.4 1395.2 L2117.3 1397.7 L2119.2 1405.2 L2121.0 1411.4 L2123.5 1415.2 L2125.4 1411.4 L2127.3 1403.9 L2129.2 1392.6 L2131.1 1383.9 L2133.6 1378.9 L2136.7 1376.4 L2139.8 1377.0 L2142.3 1377.6 L2144.2 1367.6 L2146.1 1355.1 L2148.0 1345.0 L2149.9 1339.4 L2151.7 1345.0 L2153.0 1352.6 L2154.9 1362.6 L2156.8 1373.9 L2158.0 1386.4 L2159.0 1405.2 L2159.9 1442.8 L2161.1 1492.9 L2160.3 1522.6 L2162.6 1556.5 L2164.4 1583.6 L2166.4 1556.5 L2168.7 1522.6 L2170.5 1480.3 L2171.5 1430.2 L2172.4 1405.2 L2173.7 1386.4 L2174.9 1371.3 L2176.8 1361.3 L2178.7 1357.6 L2181.2 1355.7 L2183.7 1358.8 L2185.6 1362.6 L2188.1 1363.8 L2190.6 1361.3 L2192.5 1356.9 L2195.0 1355.7 L2198.1 1356.9 L2200.6 1359.4 L2203.1 1358.2 L2206.2 1356.3 L2210.0 1356.9 L2212.6 1368.8 L2215.1 1373.2 L2217.6 1370.1 L2220.1 1363.8 L2222.6 1363.2 L2225.7 1365.1 L2228.8 1367.0 L2232.0 1368.8 L2233.9 1372.6 L2235.1 1380.1 L2236.6 1390.1 L2238.2 1400.2 L2240.1 1403.9 L2243.2 1403.9 L2245.8 1401.4 L2247.6 1396.4 L2249.5 1398.3 L2251.4 1402.7 L2253.9 1406.4 L2256.4 1405.2 L2258.3 1398.9 L2259.5 1390.1 L2260.8 1377.6 L2262.0 1361.3 L2263.3 1330.0 L2266.1 1263.0 L2267.5 1210.4 L2268.8 1191.1 L2270.0 1210.4 L2271.4 1245.4 L2272.8 1280.5 L2274.6 1315.6 L2276.3 1341.9 L2278.4 1348.9 L2280.2 1348.9 L2282.8 1333.2 L2284.6 1298.1 L2286.3 1263.0 L2288.1 1227.9 L2289.8 1203.3 L2291.1 1196.3 L2292.5 1210.4 L2293.9 1245.4 L2295.1 1280.5 L2296.3 1315.6 L2298.0 1355.1 L2299.6 1360.1 L2301.5 1355.1 L2303.4 1350.7 L2305.9 1350.0 L2308.4 1353.2 L2310.9 1356.9 L2313.4 1361.3 L2315.3 1370.1 L2317.2 1380.1 L2319.0 1388.9 L2321.6 1393.9 L2324.1 1393.3 L2325.9 1397.7 L2327.8 1392.6 L2329.7 1385.1 L2332.2 1373.9 L2334.7 1366.3 L2337.2 1361.3 L2339.7 1360.7 L2342.2 1362.6 L2345.4 1365.1 L2347.9 1361.9 L2351.0 1359.4 L2353.5 1355.7 L2356.0 1354.4 L2358.5 1353.8 L2361.0 1356.9 L2363.5 1361.3 L2366.0 1365.1 L2367.9 1371.3 L2369.2 1380.1 L2370.4 1388.9 L2372.3 1393.9 L2374.8 1395.2 L2377.9 1397.7 L2381.1 1400.2 L2383.6 1406.4 L2386.7 1407.1 L2389.8 1405.2 L2391.7 1395.2 L2393.0 1388.9 L2394.2 1405.2 L2395.2 1442.8 L2396.1 1492.9 L2396.9 1567.8 L2397.6 1613.0 L2399.9 1646.9 L2403.3 1660.5 L2407.8 1666.1 L2412.3 1669.5 L2415.7 1673.5 L2491.1 1673.5" stroke="#e2420f" stroke-width="4.6" stroke-dasharray="4.4 4.2"/>
<path d="M1849.7 1673.5 L1975.0 1673.5 L1975.7 1590.4 L1976.3 1467.8 L1977.6 1455.3 L1980.1 1455.9 L1982.6 1452.2 L1985.7 1453.4 L1989.5 1453.4 L1992.6 1449.0 L1995.1 1442.8 L1996.4 1432.7 L1997.6 1429.0 L2000.1 1427.7 L2003.3 1423.3 L2005.8 1425.8 L2008.9 1428.4 L2011.4 1421.5 L2013.9 1419.0 L2017.7 1418.3 L2020.8 1413.9 L2023.9 1412.1 L2026.5 1408.9 L2029.0 1400.2 L2031.5 1391.4 L2034.0 1386.4 L2037.1 1385.8 L2039.6 1387.6 L2042.1 1392.6 L2044.6 1400.2 L2047.7 1406.4 L2050.9 1410.2 L2053.4 1411.4 L2055.9 1408.9 L2057.8 1400.2 L2059.0 1388.9 L2061.5 1383.9 L2064.7 1385.8 L2067.8 1387.6 L2071.6 1390.1 L2075.3 1392.6 L2077.8 1393.9 L2080.3 1390.1 L2081.3 1367.6 L2081.8 1330.0 L2081.6 1298.1 L2083.0 1263.0 L2084.7 1242.8 L2086.8 1263.0 L2088.6 1298.1 L2090.4 1333.2 L2092.1 1345.4 L2094.2 1346.3 L2096.0 1333.2 L2097.4 1280.5 L2098.8 1236.7 L2100.2 1225.3 L2101.6 1245.4 L2103.0 1278.8 L2104.4 1245.4 L2106.1 1225.3 L2107.5 1236.7 L2108.4 1280.5 L2109.3 1329.6 L2106.6 1367.6 L2107.9 1405.2 L2109.8 1420.2 L2111.6 1427.7 L2113.5 1434.0 L2115.4 1431.5 L2117.3 1433.4 L2119.8 1435.2 L2122.3 1437.7 L2124.8 1435.2 L2127.3 1427.7 L2129.2 1417.7 L2131.7 1405.2 L2134.2 1398.9 L2137.3 1395.8 L2140.5 1395.2 L2143.0 1391.4 L2144.8 1382.6 L2146.7 1375.1 L2148.6 1372.6 L2150.5 1375.1 L2152.4 1382.6 L2153.6 1392.6 L2154.9 1417.7 L2156.1 1442.8 L2158.0 1480.3 L2159.9 1511.7 L2160.3 1522.6 L2162.6 1552.0 L2164.4 1567.8 L2166.4 1552.0 L2168.7 1522.6 L2169.9 1505.4 L2171.8 1467.8 L2173.0 1436.5 L2174.3 1411.4 L2175.5 1396.4 L2178.1 1388.9 L2180.6 1387.6 L2183.1 1389.5 L2185.6 1392.6 L2188.7 1392.0 L2191.8 1391.4 L2193.7 1386.4 L2195.6 1385.1 L2198.1 1388.9 L2200.6 1392.6 L2203.7 1396.4 L2206.9 1400.2 L2210.0 1402.7 L2211.3 1408.9 L2213.8 1412.7 L2216.3 1411.4 L2218.8 1407.7 L2221.3 1406.4 L2224.5 1407.1 L2227.6 1407.1 L2230.7 1406.4 L2233.2 1407.1 L2235.1 1412.7 L2237.0 1422.7 L2238.9 1427.7 L2241.4 1429.6 L2244.5 1430.2 L2247.0 1427.1 L2249.5 1427.7 L2251.4 1432.7 L2253.9 1436.5 L2257.0 1437.7 L2259.5 1436.5 L2261.4 1427.7 L2263.3 1411.4 L2265.2 1380.1 L2266.4 1355.1 L2267.1 1330.0 L2265.3 1298.1 L2267.0 1259.5 L2268.4 1248.9 L2270.0 1263.0 L2271.8 1298.1 L2273.5 1333.2 L2273.3 1348.8 L2275.2 1371.3 L2277.1 1382.6 L2279.0 1383.9 L2281.5 1382.0 L2284.0 1380.1 L2285.8 1367.6 L2287.1 1348.8 L2287.7 1330.0 L2287.2 1315.6 L2288.9 1289.3 L2290.7 1278.8 L2292.5 1289.3 L2294.2 1315.6 L2293.4 1348.8 L2294.6 1373.9 L2295.9 1386.4 L2297.7 1390.1 L2300.3 1388.9 L2302.8 1386.4 L2304.6 1387.0 L2306.5 1392.6 L2309.0 1400.2 L2311.5 1407.7 L2314.0 1415.2 L2316.5 1425.2 L2319.0 1434.0 L2321.6 1439.0 L2324.1 1443.4 L2326.6 1445.9 L2328.4 1442.8 L2331.0 1439.0 L2334.1 1436.5 L2336.6 1432.7 L2338.5 1431.5 L2341.0 1434.0 L2343.5 1436.5 L2346.0 1437.1 L2348.5 1435.2 L2351.6 1432.7 L2354.1 1430.2 L2356.6 1428.4 L2359.1 1430.2 L2362.3 1431.5 L2365.4 1432.7 L2367.9 1435.2 L2369.8 1442.8 L2371.0 1449.0 L2373.5 1452.8 L2376.7 1454.0 L2379.8 1452.2 L2382.9 1453.4 L2386.7 1454.0 L2390.5 1454.7 L2392.0 1453.4 L2393.0 1442.1 L2394.2 1455.3 L2395.5 1492.9 L2396.0 1590.4 L2396.5 1673.5 L2491.1 1673.5" stroke="#edb120" stroke-width="4.6"/>
</g>
<text class="tk" x="1848.9" y="1719.3" text-anchor="middle">0</text>
<text class="tk" x="1974.2" y="1719.3" text-anchor="middle">100</text>
<text class="tk" x="2099.4" y="1719.3" text-anchor="middle">200</text>
<text class="tk" x="2224.7" y="1719.3" text-anchor="middle">300</text>
<text class="tk" x="2350.0" y="1719.3" text-anchor="middle">400</text>
<text class="tk" x="2475.3" y="1719.3" text-anchor="middle">500</text>
<text class="tk" x="1836.5" y="1687.0" text-anchor="end">-1000</text>
<text class="tk" x="1836.5" y="1538.6" text-anchor="end">-500</text>
<text class="tk" x="1836.5" y="1390.2" text-anchor="end">0</text>
<text class="tk" x="1836.5" y="1241.7" text-anchor="end">500</text>
<text class="tk" x="1836.5" y="1093.3" text-anchor="end">1000</text>
<text class="lb" x="2171.0" y="1765.6" text-anchor="middle">pixels</text>
<text class="lb" transform="translate(1736.7 1377) rotate(-90)" text-anchor="middle" textLength="250" lengthAdjust="spacingAndGlyphs">CT number/HU</text>
</g>
</svg></body></html>
